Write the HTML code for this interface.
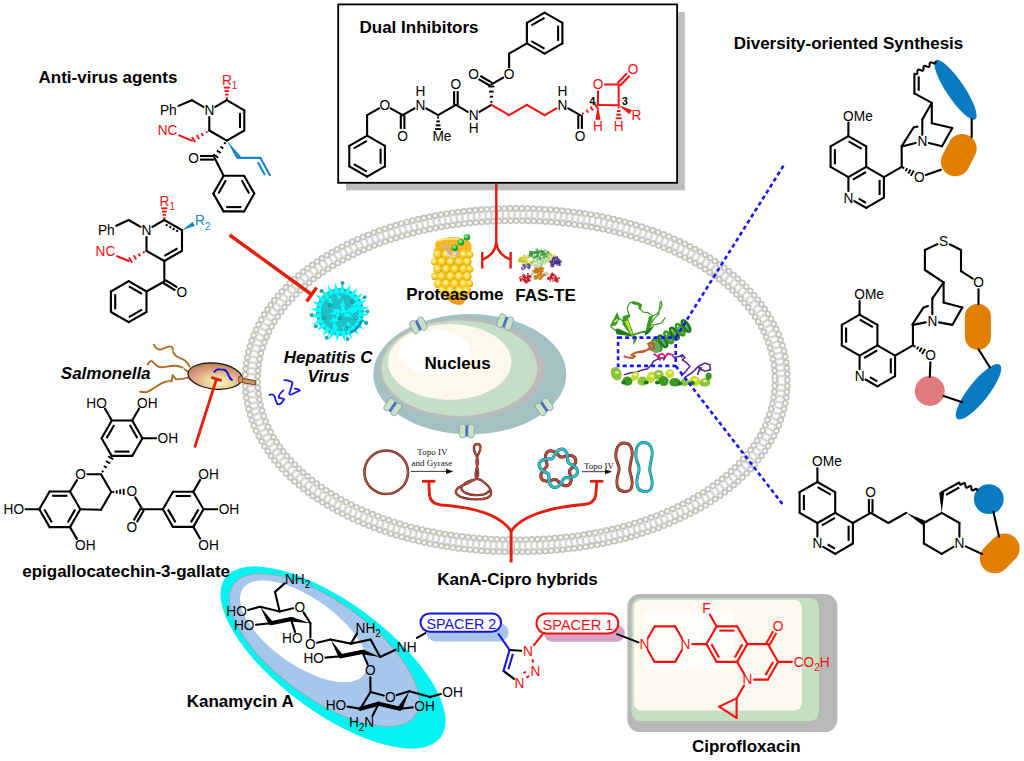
<!DOCTYPE html>
<html><head><meta charset="utf-8"><style>html,body{margin:0;padding:0;background:#fff;}svg{display:block;}</style></head>
<body><svg width="1024" height="761" viewBox="0 0 1024 761">
<rect width="1024" height="761" fill="#fff"/>
<defs>
<path id="mc" d="M781.3,380.2 L781.3,382.1 L781.2,384.0 L781.2,385.9 L781.1,387.7 L780.9,389.5 L780.8,391.3 L780.6,393.1 L780.4,394.9 L780.2,396.7 L779.9,398.5 L779.6,400.3 L779.3,402.0 L778.9,403.8 L778.5,405.6 L778.1,407.3 L777.7,409.1 L777.2,410.8 L776.7,412.5 L776.2,414.3 L775.6,416.0 L775.1,417.7 L774.5,419.4 L773.8,421.1 L773.2,422.8 L772.5,424.5 L771.8,426.2 L771.0,427.9 L770.3,429.6 L769.5,431.2 L768.6,432.9 L767.8,434.5 L766.9,436.2 L766.0,437.8 L765.1,439.5 L764.1,441.1 L763.1,442.7 L762.1,444.3 L761.1,445.9 L760.0,447.5 L758.9,449.1 L757.8,450.7 L756.7,452.2 L755.5,453.8 L754.3,455.3 L753.1,456.9 L751.8,458.4 L750.6,459.9 L749.3,461.5 L747.9,463.0 L746.6,464.5 L745.2,465.9 L743.8,467.4 L742.4,468.9 L741.0,470.3 L739.5,471.8 L738.0,473.2 L736.5,474.7 L735.0,476.1 L733.4,477.5 L731.8,478.9 L730.2,480.2 L728.6,481.6 L726.9,483.0 L725.2,484.3 L723.5,485.7 L721.8,487.0 L720.0,488.3 L718.3,489.6 L716.5,490.9 L714.7,492.2 L712.8,493.4 L711.0,494.7 L709.1,495.9 L707.2,497.1 L705.3,498.4 L703.3,499.6 L701.4,500.8 L699.4,501.9 L697.4,503.1 L695.4,504.2 L693.3,505.4 L691.3,506.5 L689.2,507.6 L687.1,508.7 L685.0,509.8 L682.8,510.8 L680.7,511.9 L678.5,512.9 L676.3,513.9 L674.1,514.9 L671.9,515.9 L669.6,516.9 L667.4,517.9 L665.1,518.8 L662.8,519.8 L660.5,520.7 L658.1,521.6 L655.8,522.5 L653.4,523.3 L651.1,524.2 L648.7,525.0 L646.3,525.9 L643.8,526.7 L641.4,527.5 L638.9,528.3 L636.5,529.0 L634.0,529.8 L631.5,530.5 L629.0,531.2 L626.5,531.9 L623.9,532.6 L621.4,533.3 L618.8,533.9 L616.3,534.5 L613.7,535.2 L611.1,535.8 L608.5,536.3 L605.8,536.9 L603.2,537.5 L600.6,538.0 L597.9,538.5 L595.2,539.0 L592.6,539.5 L589.9,539.9 L587.2,540.4 L584.5,540.8 L581.8,541.2 L579.0,541.6 L576.3,542.0 L573.5,542.4 L570.8,542.7 L568.0,543.0 L565.3,543.3 L562.5,543.6 L559.7,543.9 L556.9,544.2 L554.1,544.4 L551.2,544.6 L548.4,544.8 L545.6,545.0 L542.7,545.2 L539.9,545.3 L537.0,545.5 L534.1,545.6 L531.2,545.7 L528.3,545.8 L525.4,545.8 L522.4,545.9 L519.4,545.9 L516.3,545.9 L513.2,545.9 L510.2,545.9 L507.2,545.8 L504.3,545.8 L501.4,545.7 L498.5,545.6 L495.6,545.5 L492.7,545.3 L489.9,545.2 L487.0,545.0 L484.2,544.8 L481.4,544.6 L478.5,544.4 L475.7,544.2 L472.9,543.9 L470.1,543.6 L467.3,543.3 L464.6,543.0 L461.8,542.7 L459.1,542.4 L456.3,542.0 L453.6,541.6 L450.8,541.2 L448.1,540.8 L445.4,540.4 L442.7,539.9 L440.0,539.5 L437.4,539.0 L434.7,538.5 L432.0,538.0 L429.4,537.5 L426.8,536.9 L424.1,536.3 L421.5,535.8 L418.9,535.2 L416.3,534.5 L413.8,533.9 L411.2,533.3 L408.7,532.6 L406.1,531.9 L403.6,531.2 L401.1,530.5 L398.6,529.8 L396.1,529.0 L393.7,528.3 L391.2,527.5 L388.8,526.7 L386.3,525.9 L383.9,525.0 L381.5,524.2 L379.2,523.3 L376.8,522.5 L374.5,521.6 L372.1,520.7 L369.8,519.8 L367.5,518.8 L365.2,517.9 L363.0,516.9 L360.7,515.9 L358.5,514.9 L356.3,513.9 L354.1,512.9 L351.9,511.9 L349.8,510.8 L347.6,509.8 L345.5,508.7 L343.4,507.6 L341.3,506.5 L339.3,505.4 L337.2,504.2 L335.2,503.1 L333.2,501.9 L331.2,500.8 L329.3,499.6 L327.3,498.4 L325.4,497.1 L323.5,495.9 L321.6,494.7 L319.8,493.4 L317.9,492.2 L316.1,490.9 L314.3,489.6 L312.6,488.3 L310.8,487.0 L309.1,485.7 L307.4,484.3 L305.7,483.0 L304.0,481.6 L302.4,480.2 L300.8,478.9 L299.2,477.5 L297.6,476.1 L296.1,474.7 L294.6,473.2 L293.1,471.8 L291.6,470.3 L290.2,468.9 L288.8,467.4 L287.4,465.9 L286.0,464.5 L284.7,463.0 L283.3,461.5 L282.0,459.9 L280.8,458.4 L279.5,456.9 L278.3,455.3 L277.1,453.8 L275.9,452.2 L274.8,450.7 L273.7,449.1 L272.6,447.5 L271.5,445.9 L270.5,444.3 L269.5,442.7 L268.5,441.1 L267.5,439.5 L266.6,437.8 L265.7,436.2 L264.8,434.5 L264.0,432.9 L263.1,431.2 L262.3,429.6 L261.6,427.9 L260.8,426.2 L260.1,424.5 L259.4,422.8 L258.8,421.1 L258.1,419.4 L257.5,417.7 L257.0,416.0 L256.4,414.3 L255.9,412.5 L255.4,410.8 L254.9,409.1 L254.5,407.3 L254.1,405.6 L253.7,403.8 L253.3,402.0 L253.0,400.3 L252.7,398.5 L252.4,396.7 L252.2,394.9 L252.0,393.1 L251.8,391.3 L251.7,389.5 L251.5,387.7 L251.4,385.9 L251.4,384.0 L251.3,382.1 L251.3,380.2 L251.3,378.3 L251.4,376.4 L251.4,374.5 L251.5,372.7 L251.7,370.9 L251.8,369.1 L252.0,367.3 L252.2,365.5 L252.4,363.7 L252.7,361.9 L253.0,360.1 L253.3,358.4 L253.7,356.6 L254.1,354.8 L254.5,353.1 L254.9,351.3 L255.4,349.6 L255.9,347.9 L256.4,346.1 L257.0,344.4 L257.5,342.7 L258.1,341.0 L258.8,339.3 L259.4,337.6 L260.1,335.9 L260.8,334.2 L261.6,332.5 L262.3,330.8 L263.1,329.2 L264.0,327.5 L264.8,325.9 L265.7,324.2 L266.6,322.6 L267.5,320.9 L268.5,319.3 L269.5,317.7 L270.5,316.1 L271.5,314.5 L272.6,312.9 L273.7,311.3 L274.8,309.7 L275.9,308.2 L277.1,306.6 L278.3,305.1 L279.5,303.5 L280.8,302.0 L282.0,300.5 L283.3,298.9 L284.7,297.4 L286.0,295.9 L287.4,294.5 L288.8,293.0 L290.2,291.5 L291.6,290.1 L293.1,288.6 L294.6,287.2 L296.1,285.7 L297.6,284.3 L299.2,282.9 L300.8,281.5 L302.4,280.2 L304.0,278.8 L305.7,277.4 L307.4,276.1 L309.1,274.7 L310.8,273.4 L312.6,272.1 L314.3,270.8 L316.1,269.5 L317.9,268.2 L319.8,267.0 L321.6,265.7 L323.5,264.5 L325.4,263.3 L327.3,262.0 L329.3,260.8 L331.2,259.6 L333.2,258.5 L335.2,257.3 L337.2,256.2 L339.3,255.0 L341.3,253.9 L343.4,252.8 L345.5,251.7 L347.6,250.6 L349.8,249.6 L351.9,248.5 L354.1,247.5 L356.3,246.5 L358.5,245.5 L360.7,244.5 L363.0,243.5 L365.2,242.5 L367.5,241.6 L369.8,240.6 L372.1,239.7 L374.5,238.8 L376.8,237.9 L379.2,237.1 L381.5,236.2 L383.9,235.4 L386.3,234.5 L388.8,233.7 L391.2,232.9 L393.7,232.1 L396.1,231.4 L398.6,230.6 L401.1,229.9 L403.6,229.2 L406.1,228.5 L408.7,227.8 L411.2,227.1 L413.8,226.5 L416.3,225.9 L418.9,225.2 L421.5,224.6 L424.1,224.1 L426.8,223.5 L429.4,222.9 L432.0,222.4 L434.7,221.9 L437.4,221.4 L440.0,220.9 L442.7,220.5 L445.4,220.0 L448.1,219.6 L450.8,219.2 L453.6,218.8 L456.3,218.4 L459.1,218.0 L461.8,217.7 L464.6,217.4 L467.3,217.1 L470.1,216.8 L472.9,216.5 L475.7,216.2 L478.5,216.0 L481.4,215.8 L484.2,215.6 L487.0,215.4 L489.9,215.2 L492.7,215.1 L495.6,214.9 L498.5,214.8 L501.4,214.7 L504.3,214.6 L507.2,214.6 L510.2,214.5 L513.2,214.5 L516.3,214.5 L519.4,214.5 L522.4,214.5 L525.4,214.6 L528.3,214.6 L531.2,214.7 L534.1,214.8 L537.0,214.9 L539.9,215.1 L542.7,215.2 L545.6,215.4 L548.4,215.6 L551.2,215.8 L554.1,216.0 L556.9,216.2 L559.7,216.5 L562.5,216.8 L565.3,217.1 L568.0,217.4 L570.8,217.7 L573.5,218.0 L576.3,218.4 L579.0,218.8 L581.8,219.2 L584.5,219.6 L587.2,220.0 L589.9,220.5 L592.6,220.9 L595.2,221.4 L597.9,221.9 L600.6,222.4 L603.2,222.9 L605.8,223.5 L608.5,224.1 L611.1,224.6 L613.7,225.2 L616.3,225.9 L618.8,226.5 L621.4,227.1 L623.9,227.8 L626.5,228.5 L629.0,229.2 L631.5,229.9 L634.0,230.6 L636.5,231.4 L638.9,232.1 L641.4,232.9 L643.8,233.7 L646.3,234.5 L648.7,235.4 L651.1,236.2 L653.4,237.1 L655.8,237.9 L658.1,238.8 L660.5,239.7 L662.8,240.6 L665.1,241.6 L667.4,242.5 L669.6,243.5 L671.9,244.5 L674.1,245.5 L676.3,246.5 L678.5,247.5 L680.7,248.5 L682.8,249.6 L685.0,250.6 L687.1,251.7 L689.2,252.8 L691.3,253.9 L693.3,255.0 L695.4,256.2 L697.4,257.3 L699.4,258.5 L701.4,259.6 L703.3,260.8 L705.3,262.0 L707.2,263.3 L709.1,264.5 L711.0,265.7 L712.8,267.0 L714.7,268.2 L716.5,269.5 L718.3,270.8 L720.0,272.1 L721.8,273.4 L723.5,274.7 L725.2,276.1 L726.9,277.4 L728.6,278.8 L730.2,280.2 L731.8,281.5 L733.4,282.9 L735.0,284.3 L736.5,285.7 L738.0,287.2 L739.5,288.6 L741.0,290.1 L742.4,291.5 L743.8,293.0 L745.2,294.5 L746.6,295.9 L747.9,297.4 L749.3,298.9 L750.6,300.5 L751.8,302.0 L753.1,303.5 L754.3,305.1 L755.5,306.6 L756.7,308.2 L757.8,309.7 L758.9,311.3 L760.0,312.9 L761.1,314.5 L762.1,316.1 L763.1,317.7 L764.1,319.3 L765.1,320.9 L766.0,322.6 L766.9,324.2 L767.8,325.9 L768.6,327.5 L769.5,329.2 L770.3,330.8 L771.0,332.5 L771.8,334.2 L772.5,335.9 L773.2,337.6 L773.8,339.3 L774.5,341.0 L775.1,342.7 L775.6,344.4 L776.2,346.1 L776.7,347.9 L777.2,349.6 L777.7,351.3 L778.1,353.1 L778.5,354.8 L778.9,356.6 L779.3,358.4 L779.6,360.1 L779.9,361.9 L780.2,363.7 L780.4,365.5 L780.6,367.3 L780.8,369.1 L780.9,370.9 L781.1,372.7 L781.2,374.5 L781.2,376.4 L781.3,378.3Z"/>
<path id="mo" d="M787.5,380.2 L787.5,382.2 L787.4,384.2 L787.4,386.1 L787.3,388.0 L787.1,389.9 L787.0,391.7 L786.8,393.6 L786.6,395.5 L786.3,397.3 L786.1,399.2 L785.7,401.0 L785.4,402.9 L785.1,404.7 L784.7,406.5 L784.2,408.3 L783.8,410.1 L783.3,411.9 L782.8,413.7 L782.3,415.5 L781.7,417.3 L781.1,419.1 L780.5,420.9 L779.9,422.6 L779.2,424.4 L778.5,426.2 L777.7,427.9 L777.0,429.6 L776.2,431.4 L775.4,433.1 L774.5,434.8 L773.7,436.5 L772.8,438.3 L771.8,440.0 L770.9,441.6 L769.9,443.3 L768.9,445.0 L767.9,446.7 L766.8,448.3 L765.7,450.0 L764.6,451.6 L763.5,453.3 L762.3,454.9 L761.1,456.5 L759.9,458.1 L758.6,459.7 L757.3,461.3 L756.0,462.9 L754.7,464.5 L753.4,466.0 L752.0,467.6 L750.6,469.1 L749.2,470.6 L747.7,472.2 L746.2,473.7 L744.7,475.2 L743.2,476.7 L741.6,478.1 L740.1,479.6 L738.5,481.1 L736.8,482.5 L735.2,483.9 L733.5,485.4 L731.8,486.8 L730.1,488.2 L728.4,489.5 L726.6,490.9 L724.8,492.3 L723.0,493.6 L721.2,495.0 L719.3,496.3 L717.4,497.6 L715.5,498.9 L713.6,500.2 L711.7,501.5 L709.7,502.7 L707.7,504.0 L705.7,505.2 L703.7,506.4 L701.6,507.6 L699.6,508.8 L697.5,510.0 L695.4,511.1 L693.2,512.3 L691.1,513.4 L688.9,514.5 L686.7,515.6 L684.5,516.7 L682.3,517.8 L680.0,518.9 L677.8,519.9 L675.5,520.9 L673.2,522.0 L670.9,523.0 L668.6,523.9 L666.2,524.9 L663.8,525.9 L661.5,526.8 L659.1,527.7 L656.6,528.6 L654.2,529.5 L651.8,530.4 L649.3,531.2 L646.8,532.1 L644.3,532.9 L641.8,533.7 L639.3,534.5 L636.8,535.3 L634.2,536.0 L631.6,536.8 L629.1,537.5 L626.5,538.2 L623.9,538.9 L621.2,539.6 L618.6,540.2 L616.0,540.9 L613.3,541.5 L610.6,542.1 L607.9,542.7 L605.2,543.2 L602.5,543.8 L599.8,544.3 L597.1,544.8 L594.4,545.3 L591.6,545.8 L588.8,546.3 L586.1,546.7 L583.3,547.2 L580.5,547.6 L577.7,548.0 L574.9,548.3 L572.1,548.7 L569.2,549.0 L566.4,549.4 L563.5,549.7 L560.7,549.9 L557.8,550.2 L554.9,550.4 L552.1,550.7 L549.2,550.9 L546.3,551.1 L543.3,551.3 L540.4,551.4 L537.5,551.5 L534.5,551.7 L531.6,551.8 L528.6,551.9 L525.6,551.9 L522.5,552.0 L519.5,552.0 L516.3,552.0 L513.1,552.0 L510.1,552.0 L507.0,551.9 L504.0,551.9 L501.0,551.8 L498.1,551.7 L495.1,551.5 L492.2,551.4 L489.3,551.3 L486.3,551.1 L483.4,550.9 L480.5,550.7 L477.7,550.4 L474.8,550.2 L471.9,549.9 L469.1,549.7 L466.2,549.4 L463.4,549.0 L460.5,548.7 L457.7,548.3 L454.9,548.0 L452.1,547.6 L449.3,547.2 L446.5,546.7 L443.8,546.3 L441.0,545.8 L438.2,545.3 L435.5,544.8 L432.8,544.3 L430.1,543.8 L427.4,543.2 L424.7,542.7 L422.0,542.1 L419.3,541.5 L416.6,540.9 L414.0,540.2 L411.4,539.6 L408.7,538.9 L406.1,538.2 L403.5,537.5 L401.0,536.8 L398.4,536.0 L395.8,535.3 L393.3,534.5 L390.8,533.7 L388.3,532.9 L385.8,532.1 L383.3,531.2 L380.8,530.4 L378.4,529.5 L376.0,528.6 L373.5,527.7 L371.1,526.8 L368.8,525.9 L366.4,524.9 L364.0,523.9 L361.7,523.0 L359.4,522.0 L357.1,520.9 L354.8,519.9 L352.6,518.9 L350.3,517.8 L348.1,516.7 L345.9,515.6 L343.7,514.5 L341.5,513.4 L339.4,512.3 L337.2,511.1 L335.1,510.0 L333.0,508.8 L331.0,507.6 L328.9,506.4 L326.9,505.2 L324.9,504.0 L322.9,502.7 L320.9,501.5 L319.0,500.2 L317.1,498.9 L315.2,497.6 L313.3,496.3 L311.4,495.0 L309.6,493.6 L307.8,492.3 L306.0,490.9 L304.2,489.5 L302.5,488.2 L300.8,486.8 L299.1,485.4 L297.4,483.9 L295.8,482.5 L294.1,481.1 L292.5,479.6 L291.0,478.1 L289.4,476.7 L287.9,475.2 L286.4,473.7 L284.9,472.2 L283.4,470.6 L282.0,469.1 L280.6,467.6 L279.2,466.0 L277.9,464.5 L276.6,462.9 L275.3,461.3 L274.0,459.7 L272.7,458.1 L271.5,456.5 L270.3,454.9 L269.1,453.3 L268.0,451.6 L266.9,450.0 L265.8,448.3 L264.7,446.7 L263.7,445.0 L262.7,443.3 L261.7,441.6 L260.8,440.0 L259.8,438.3 L258.9,436.5 L258.1,434.8 L257.2,433.1 L256.4,431.4 L255.6,429.6 L254.9,427.9 L254.1,426.2 L253.4,424.4 L252.7,422.6 L252.1,420.9 L251.5,419.1 L250.9,417.3 L250.3,415.5 L249.8,413.7 L249.3,411.9 L248.8,410.1 L248.4,408.3 L247.9,406.5 L247.5,404.7 L247.2,402.9 L246.9,401.0 L246.5,399.2 L246.3,397.3 L246.0,395.5 L245.8,393.6 L245.6,391.7 L245.5,389.9 L245.3,388.0 L245.2,386.1 L245.2,384.2 L245.1,382.2 L245.1,380.2 L245.1,378.2 L245.2,376.2 L245.2,374.3 L245.3,372.4 L245.5,370.5 L245.6,368.7 L245.8,366.8 L246.0,364.9 L246.3,363.1 L246.5,361.2 L246.9,359.4 L247.2,357.5 L247.5,355.7 L247.9,353.9 L248.4,352.1 L248.8,350.3 L249.3,348.5 L249.8,346.7 L250.3,344.9 L250.9,343.1 L251.5,341.3 L252.1,339.5 L252.7,337.8 L253.4,336.0 L254.1,334.2 L254.9,332.5 L255.6,330.8 L256.4,329.0 L257.2,327.3 L258.1,325.6 L258.9,323.9 L259.8,322.1 L260.8,320.4 L261.7,318.8 L262.7,317.1 L263.7,315.4 L264.7,313.7 L265.8,312.1 L266.9,310.4 L268.0,308.8 L269.1,307.1 L270.3,305.5 L271.5,303.9 L272.7,302.3 L274.0,300.7 L275.3,299.1 L276.6,297.5 L277.9,295.9 L279.2,294.4 L280.6,292.8 L282.0,291.3 L283.4,289.8 L284.9,288.2 L286.4,286.7 L287.9,285.2 L289.4,283.7 L291.0,282.3 L292.5,280.8 L294.1,279.3 L295.8,277.9 L297.4,276.5 L299.1,275.0 L300.8,273.6 L302.5,272.2 L304.2,270.9 L306.0,269.5 L307.8,268.1 L309.6,266.8 L311.4,265.4 L313.3,264.1 L315.2,262.8 L317.1,261.5 L319.0,260.2 L320.9,258.9 L322.9,257.7 L324.9,256.4 L326.9,255.2 L328.9,254.0 L331.0,252.8 L333.0,251.6 L335.1,250.4 L337.2,249.3 L339.4,248.1 L341.5,247.0 L343.7,245.9 L345.9,244.8 L348.1,243.7 L350.3,242.6 L352.6,241.5 L354.8,240.5 L357.1,239.5 L359.4,238.4 L361.7,237.4 L364.0,236.5 L366.4,235.5 L368.8,234.5 L371.1,233.6 L373.5,232.7 L376.0,231.8 L378.4,230.9 L380.8,230.0 L383.3,229.2 L385.8,228.3 L388.3,227.5 L390.8,226.7 L393.3,225.9 L395.8,225.1 L398.4,224.4 L401.0,223.6 L403.5,222.9 L406.1,222.2 L408.7,221.5 L411.4,220.8 L414.0,220.2 L416.6,219.5 L419.3,218.9 L422.0,218.3 L424.7,217.7 L427.4,217.2 L430.1,216.6 L432.8,216.1 L435.5,215.6 L438.2,215.1 L441.0,214.6 L443.8,214.1 L446.5,213.7 L449.3,213.2 L452.1,212.8 L454.9,212.4 L457.7,212.1 L460.5,211.7 L463.4,211.4 L466.2,211.0 L469.1,210.7 L471.9,210.5 L474.8,210.2 L477.7,210.0 L480.5,209.7 L483.4,209.5 L486.3,209.3 L489.3,209.1 L492.2,209.0 L495.1,208.9 L498.1,208.7 L501.0,208.6 L504.0,208.5 L507.0,208.5 L510.1,208.4 L513.1,208.4 L516.3,208.4 L519.5,208.4 L522.5,208.4 L525.6,208.5 L528.6,208.5 L531.6,208.6 L534.5,208.7 L537.5,208.9 L540.4,209.0 L543.3,209.1 L546.3,209.3 L549.2,209.5 L552.1,209.7 L554.9,210.0 L557.8,210.2 L560.7,210.5 L563.5,210.7 L566.4,211.0 L569.2,211.4 L572.1,211.7 L574.9,212.1 L577.7,212.4 L580.5,212.8 L583.3,213.2 L586.1,213.7 L588.8,214.1 L591.6,214.6 L594.4,215.1 L597.1,215.6 L599.8,216.1 L602.5,216.6 L605.2,217.2 L607.9,217.7 L610.6,218.3 L613.3,218.9 L616.0,219.5 L618.6,220.2 L621.2,220.8 L623.9,221.5 L626.5,222.2 L629.1,222.9 L631.6,223.6 L634.2,224.4 L636.8,225.1 L639.3,225.9 L641.8,226.7 L644.3,227.5 L646.8,228.3 L649.3,229.2 L651.8,230.0 L654.2,230.9 L656.6,231.8 L659.1,232.7 L661.5,233.6 L663.8,234.5 L666.2,235.5 L668.6,236.5 L670.9,237.4 L673.2,238.4 L675.5,239.5 L677.8,240.5 L680.0,241.5 L682.3,242.6 L684.5,243.7 L686.7,244.8 L688.9,245.9 L691.1,247.0 L693.2,248.1 L695.4,249.3 L697.5,250.4 L699.6,251.6 L701.6,252.8 L703.7,254.0 L705.7,255.2 L707.7,256.4 L709.7,257.7 L711.7,258.9 L713.6,260.2 L715.5,261.5 L717.4,262.8 L719.3,264.1 L721.2,265.4 L723.0,266.8 L724.8,268.1 L726.6,269.5 L728.4,270.9 L730.1,272.2 L731.8,273.6 L733.5,275.0 L735.2,276.5 L736.8,277.9 L738.5,279.3 L740.1,280.8 L741.6,282.3 L743.2,283.7 L744.7,285.2 L746.2,286.7 L747.7,288.2 L749.2,289.8 L750.6,291.3 L752.0,292.8 L753.4,294.4 L754.7,295.9 L756.0,297.5 L757.3,299.1 L758.6,300.7 L759.9,302.3 L761.1,303.9 L762.3,305.5 L763.5,307.1 L764.6,308.8 L765.7,310.4 L766.8,312.1 L767.9,313.7 L768.9,315.4 L769.9,317.1 L770.9,318.8 L771.8,320.4 L772.8,322.1 L773.7,323.9 L774.5,325.6 L775.4,327.3 L776.2,329.0 L777.0,330.8 L777.7,332.5 L778.5,334.2 L779.2,336.0 L779.9,337.8 L780.5,339.5 L781.1,341.3 L781.7,343.1 L782.3,344.9 L782.8,346.7 L783.3,348.5 L783.8,350.3 L784.2,352.1 L784.7,353.9 L785.1,355.7 L785.4,357.5 L785.7,359.4 L786.1,361.2 L786.3,363.1 L786.6,364.9 L786.8,366.8 L787.0,368.7 L787.1,370.5 L787.3,372.4 L787.4,374.3 L787.4,376.2 L787.5,378.2Z"/>
<path id="mi" d="M774.9,380.2 L774.9,382.1 L774.8,383.9 L774.8,385.6 L774.7,387.4 L774.6,389.2 L774.4,390.9 L774.2,392.6 L774.0,394.4 L773.8,396.1 L773.5,397.8 L773.2,399.5 L772.9,401.2 L772.6,402.9 L772.2,404.6 L771.8,406.3 L771.4,408.0 L770.9,409.6 L770.4,411.3 L769.9,413.0 L769.4,414.6 L768.8,416.3 L768.2,417.9 L767.6,419.6 L767.0,421.2 L766.3,422.8 L765.6,424.5 L764.9,426.1 L764.1,427.7 L763.3,429.3 L762.5,430.9 L761.7,432.5 L760.9,434.1 L760.0,435.6 L759.1,437.2 L758.1,438.8 L757.2,440.3 L756.2,441.9 L755.2,443.4 L754.1,444.9 L753.1,446.5 L752.0,448.0 L750.9,449.5 L749.7,451.0 L748.6,452.5 L747.4,454.0 L746.1,455.4 L744.9,456.9 L743.6,458.4 L742.4,459.8 L741.0,461.3 L739.7,462.7 L738.3,464.1 L737.0,465.5 L735.5,466.9 L734.1,468.3 L732.7,469.7 L731.2,471.1 L729.7,472.4 L728.1,473.8 L726.6,475.1 L725.0,476.4 L723.4,477.8 L721.8,479.1 L720.2,480.4 L718.5,481.7 L716.8,482.9 L715.1,484.2 L713.4,485.4 L711.6,486.7 L709.9,487.9 L708.1,489.1 L706.3,490.3 L704.4,491.5 L702.6,492.7 L700.7,493.9 L698.8,495.0 L696.9,496.2 L695.0,497.3 L693.0,498.4 L691.0,499.5 L689.0,500.6 L687.0,501.7 L685.0,502.8 L683.0,503.8 L680.9,504.8 L678.8,505.9 L676.7,506.9 L674.6,507.9 L672.4,508.9 L670.3,509.8 L668.1,510.8 L665.9,511.7 L663.7,512.6 L661.5,513.6 L659.2,514.5 L657.0,515.3 L654.7,516.2 L652.4,517.1 L650.1,517.9 L647.8,518.7 L645.5,519.5 L643.1,520.3 L640.8,521.1 L638.4,521.9 L636.0,522.6 L633.6,523.4 L631.2,524.1 L628.7,524.8 L626.3,525.5 L623.8,526.1 L621.3,526.8 L618.9,527.4 L616.4,528.1 L613.8,528.7 L611.3,529.3 L608.8,529.8 L606.2,530.4 L603.7,530.9 L601.1,531.5 L598.5,532.0 L595.9,532.5 L593.3,533.0 L590.7,533.4 L588.1,533.9 L585.5,534.3 L582.8,534.7 L580.2,535.1 L577.5,535.5 L574.8,535.9 L572.2,536.2 L569.5,536.5 L566.8,536.8 L564.1,537.1 L561.4,537.4 L558.6,537.7 L555.9,537.9 L553.1,538.2 L550.4,538.4 L547.6,538.6 L544.9,538.7 L542.1,538.9 L539.3,539.1 L536.5,539.2 L533.7,539.3 L530.8,539.4 L528.0,539.5 L525.1,539.5 L522.3,539.6 L519.3,539.6 L516.3,539.6 L513.3,539.6 L510.3,539.6 L507.5,539.5 L504.6,539.5 L501.8,539.4 L498.9,539.3 L496.1,539.2 L493.3,539.1 L490.5,538.9 L487.7,538.7 L485.0,538.6 L482.2,538.4 L479.5,538.2 L476.7,537.9 L474.0,537.7 L471.2,537.4 L468.5,537.1 L465.8,536.8 L463.1,536.5 L460.4,536.2 L457.8,535.9 L455.1,535.5 L452.4,535.1 L449.8,534.7 L447.1,534.3 L444.5,533.9 L441.9,533.4 L439.3,533.0 L436.7,532.5 L434.1,532.0 L431.5,531.5 L428.9,530.9 L426.4,530.4 L423.8,529.8 L421.3,529.3 L418.8,528.7 L416.2,528.1 L413.7,527.4 L411.3,526.8 L408.8,526.1 L406.3,525.5 L403.9,524.8 L401.4,524.1 L399.0,523.4 L396.6,522.6 L394.2,521.9 L391.8,521.1 L389.5,520.3 L387.1,519.5 L384.8,518.7 L382.5,517.9 L380.2,517.1 L377.9,516.2 L375.6,515.3 L373.4,514.5 L371.1,513.6 L368.9,512.6 L366.7,511.7 L364.5,510.8 L362.3,509.8 L360.2,508.9 L358.0,507.9 L355.9,506.9 L353.8,505.9 L351.7,504.8 L349.6,503.8 L347.6,502.8 L345.6,501.7 L343.6,500.6 L341.6,499.5 L339.6,498.4 L337.6,497.3 L335.7,496.2 L333.8,495.0 L331.9,493.9 L330.0,492.7 L328.2,491.5 L326.3,490.3 L324.5,489.1 L322.7,487.9 L321.0,486.7 L319.2,485.4 L317.5,484.2 L315.8,482.9 L314.1,481.7 L312.4,480.4 L310.8,479.1 L309.2,477.8 L307.6,476.4 L306.0,475.1 L304.5,473.8 L302.9,472.4 L301.4,471.1 L299.9,469.7 L298.5,468.3 L297.1,466.9 L295.6,465.5 L294.3,464.1 L292.9,462.7 L291.6,461.3 L290.2,459.8 L289.0,458.4 L287.7,456.9 L286.5,455.4 L285.2,454.0 L284.0,452.5 L282.9,451.0 L281.7,449.5 L280.6,448.0 L279.5,446.5 L278.5,444.9 L277.4,443.4 L276.4,441.9 L275.4,440.3 L274.5,438.8 L273.5,437.2 L272.6,435.6 L271.7,434.1 L270.9,432.5 L270.1,430.9 L269.3,429.3 L268.5,427.7 L267.7,426.1 L267.0,424.5 L266.3,422.8 L265.6,421.2 L265.0,419.6 L264.4,417.9 L263.8,416.3 L263.2,414.6 L262.7,413.0 L262.2,411.3 L261.7,409.6 L261.2,408.0 L260.8,406.3 L260.4,404.6 L260.0,402.9 L259.7,401.2 L259.4,399.5 L259.1,397.8 L258.8,396.1 L258.6,394.4 L258.4,392.6 L258.2,390.9 L258.0,389.2 L257.9,387.4 L257.8,385.6 L257.8,383.9 L257.7,382.1 L257.7,380.2 L257.7,378.3 L257.8,376.5 L257.8,374.8 L257.9,373.0 L258.0,371.2 L258.2,369.5 L258.4,367.8 L258.6,366.0 L258.8,364.3 L259.1,362.6 L259.4,360.9 L259.7,359.2 L260.0,357.5 L260.4,355.8 L260.8,354.1 L261.2,352.4 L261.7,350.8 L262.2,349.1 L262.7,347.4 L263.2,345.8 L263.8,344.1 L264.4,342.5 L265.0,340.8 L265.6,339.2 L266.3,337.6 L267.0,335.9 L267.7,334.3 L268.5,332.7 L269.3,331.1 L270.1,329.5 L270.9,327.9 L271.7,326.3 L272.6,324.8 L273.5,323.2 L274.5,321.6 L275.4,320.1 L276.4,318.5 L277.4,317.0 L278.5,315.5 L279.5,313.9 L280.6,312.4 L281.7,310.9 L282.9,309.4 L284.0,307.9 L285.2,306.4 L286.5,305.0 L287.7,303.5 L289.0,302.0 L290.2,300.6 L291.6,299.1 L292.9,297.7 L294.3,296.3 L295.6,294.9 L297.1,293.5 L298.5,292.1 L299.9,290.7 L301.4,289.3 L302.9,288.0 L304.5,286.6 L306.0,285.3 L307.6,284.0 L309.2,282.6 L310.8,281.3 L312.4,280.0 L314.1,278.7 L315.8,277.5 L317.5,276.2 L319.2,275.0 L321.0,273.7 L322.7,272.5 L324.5,271.3 L326.3,270.1 L328.2,268.9 L330.0,267.7 L331.9,266.5 L333.8,265.4 L335.7,264.2 L337.6,263.1 L339.6,262.0 L341.6,260.9 L343.6,259.8 L345.6,258.7 L347.6,257.6 L349.6,256.6 L351.7,255.6 L353.8,254.5 L355.9,253.5 L358.0,252.5 L360.2,251.5 L362.3,250.6 L364.5,249.6 L366.7,248.7 L368.9,247.8 L371.1,246.8 L373.4,245.9 L375.6,245.1 L377.9,244.2 L380.2,243.3 L382.5,242.5 L384.8,241.7 L387.1,240.9 L389.5,240.1 L391.8,239.3 L394.2,238.5 L396.6,237.8 L399.0,237.0 L401.4,236.3 L403.9,235.6 L406.3,234.9 L408.8,234.3 L411.3,233.6 L413.7,233.0 L416.2,232.3 L418.8,231.7 L421.3,231.1 L423.8,230.6 L426.4,230.0 L428.9,229.5 L431.5,228.9 L434.1,228.4 L436.7,227.9 L439.3,227.4 L441.9,227.0 L444.5,226.5 L447.1,226.1 L449.8,225.7 L452.4,225.3 L455.1,224.9 L457.8,224.5 L460.4,224.2 L463.1,223.9 L465.8,223.6 L468.5,223.3 L471.2,223.0 L474.0,222.7 L476.7,222.5 L479.5,222.2 L482.2,222.0 L485.0,221.8 L487.7,221.7 L490.5,221.5 L493.3,221.3 L496.1,221.2 L498.9,221.1 L501.8,221.0 L504.6,220.9 L507.5,220.9 L510.3,220.8 L513.3,220.8 L516.3,220.8 L519.3,220.8 L522.3,220.8 L525.1,220.9 L528.0,220.9 L530.8,221.0 L533.7,221.1 L536.5,221.2 L539.3,221.3 L542.1,221.5 L544.9,221.7 L547.6,221.8 L550.4,222.0 L553.1,222.2 L555.9,222.5 L558.6,222.7 L561.4,223.0 L564.1,223.3 L566.8,223.6 L569.5,223.9 L572.2,224.2 L574.8,224.5 L577.5,224.9 L580.2,225.3 L582.8,225.7 L585.5,226.1 L588.1,226.5 L590.7,227.0 L593.3,227.4 L595.9,227.9 L598.5,228.4 L601.1,228.9 L603.7,229.5 L606.2,230.0 L608.8,230.6 L611.3,231.1 L613.8,231.7 L616.4,232.3 L618.9,233.0 L621.3,233.6 L623.8,234.3 L626.3,234.9 L628.7,235.6 L631.2,236.3 L633.6,237.0 L636.0,237.8 L638.4,238.5 L640.8,239.3 L643.1,240.1 L645.5,240.9 L647.8,241.7 L650.1,242.5 L652.4,243.3 L654.7,244.2 L657.0,245.1 L659.2,245.9 L661.5,246.8 L663.7,247.8 L665.9,248.7 L668.1,249.6 L670.3,250.6 L672.4,251.5 L674.6,252.5 L676.7,253.5 L678.8,254.5 L680.9,255.6 L683.0,256.6 L685.0,257.6 L687.0,258.7 L689.0,259.8 L691.0,260.9 L693.0,262.0 L695.0,263.1 L696.9,264.2 L698.8,265.4 L700.7,266.5 L702.6,267.7 L704.4,268.9 L706.3,270.1 L708.1,271.3 L709.9,272.5 L711.6,273.7 L713.4,275.0 L715.1,276.2 L716.8,277.5 L718.5,278.7 L720.2,280.0 L721.8,281.3 L723.4,282.6 L725.0,284.0 L726.6,285.3 L728.1,286.6 L729.7,288.0 L731.2,289.3 L732.7,290.7 L734.1,292.1 L735.5,293.5 L737.0,294.9 L738.3,296.3 L739.7,297.7 L741.0,299.1 L742.4,300.6 L743.6,302.0 L744.9,303.5 L746.1,305.0 L747.4,306.4 L748.6,307.9 L749.7,309.4 L750.9,310.9 L752.0,312.4 L753.1,313.9 L754.1,315.5 L755.2,317.0 L756.2,318.5 L757.2,320.1 L758.1,321.6 L759.1,323.2 L760.0,324.8 L760.9,326.3 L761.7,327.9 L762.5,329.5 L763.3,331.1 L764.1,332.7 L764.9,334.3 L765.6,335.9 L766.3,337.6 L767.0,339.2 L767.6,340.8 L768.2,342.5 L768.8,344.1 L769.4,345.8 L769.9,347.4 L770.4,349.1 L770.9,350.8 L771.4,352.4 L771.8,354.1 L772.2,355.8 L772.6,357.5 L772.9,359.2 L773.2,360.9 L773.5,362.6 L773.8,364.3 L774.0,366.0 L774.2,367.8 L774.4,369.5 L774.6,371.2 L774.7,373.0 L774.8,374.8 L774.8,376.5 L774.9,378.3Z"/>
</defs>
<use href="#mc" fill="none" stroke="#d6d6d6" stroke-width="6.6"/>
<use href="#mc" fill="none" stroke="#fcfcf8" stroke-width="5.2" stroke-dasharray="3.4 2.4"/>
<use href="#mo" fill="none" stroke="#c3c3c3" stroke-width="6.6" stroke-linecap="round" stroke-dasharray="0 5.8"/>
<use href="#mo" fill="none" stroke="#fbfbe8" stroke-width="3.3" stroke-linecap="round" stroke-dasharray="0 5.8"/>
<use href="#mi" fill="none" stroke="#c3c3c3" stroke-width="6.6" stroke-linecap="round" stroke-dasharray="0 5.8"/>
<use href="#mi" fill="none" stroke="#fbfbe8" stroke-width="3.3" stroke-linecap="round" stroke-dasharray="0 5.8"/>
<ellipse cx="469.8" cy="374.2" rx="96.5" ry="60.1" fill="#a3c1c3"/>
<ellipse cx="461.8" cy="368.7" rx="83" ry="50.5" fill="#bababa"/>
<ellipse cx="459.4" cy="368.2" rx="77.9" ry="47.8" fill="#c6dec6"/>
<ellipse cx="449.7" cy="362" rx="61.8" ry="38" fill="#fdf8ec"/>
<ellipse cx="434.6" cy="352.6" rx="36" ry="22.6" fill="#ffffff"/>
<g transform="translate(418.4,325.4) rotate(-25)"><rect x="-7.5" y="-7" width="6.5" height="14" rx="3.2" fill="#c9e2c4" stroke="#7d96a8" stroke-width="0.7"/><rect x="1" y="-7" width="6.5" height="14" rx="3.2" fill="#c9e2c4" stroke="#7d96a8" stroke-width="0.7"/><rect x="-1.3" y="-5.5" width="2.6" height="11" fill="#4a70c8"/></g>
<g transform="translate(505.2,322.1) rotate(20)"><rect x="-7.5" y="-7" width="6.5" height="14" rx="3.2" fill="#c9e2c4" stroke="#7d96a8" stroke-width="0.7"/><rect x="1" y="-7" width="6.5" height="14" rx="3.2" fill="#c9e2c4" stroke="#7d96a8" stroke-width="0.7"/><rect x="-1.3" y="-5.5" width="2.6" height="11" fill="#4a70c8"/></g>
<g transform="translate(392.7,407) rotate(35)"><rect x="-7.5" y="-7" width="6.5" height="14" rx="3.2" fill="#c9e2c4" stroke="#7d96a8" stroke-width="0.7"/><rect x="1" y="-7" width="6.5" height="14" rx="3.2" fill="#c9e2c4" stroke="#7d96a8" stroke-width="0.7"/><rect x="-1.3" y="-5.5" width="2.6" height="11" fill="#4a70c8"/></g>
<g transform="translate(466.8,431) rotate(0)"><rect x="-7.5" y="-7" width="6.5" height="14" rx="3.2" fill="#c9e2c4" stroke="#7d96a8" stroke-width="0.7"/><rect x="1" y="-7" width="6.5" height="14" rx="3.2" fill="#c9e2c4" stroke="#7d96a8" stroke-width="0.7"/><rect x="-1.3" y="-5.5" width="2.6" height="11" fill="#4a70c8"/></g>
<g transform="translate(544.3,406.8) rotate(-35)"><rect x="-7.5" y="-7" width="6.5" height="14" rx="3.2" fill="#c9e2c4" stroke="#7d96a8" stroke-width="0.7"/><rect x="1" y="-7" width="6.5" height="14" rx="3.2" fill="#c9e2c4" stroke="#7d96a8" stroke-width="0.7"/><rect x="-1.3" y="-5.5" width="2.6" height="11" fill="#4a70c8"/></g>
<text x="424.5" y="368.8" font-family="Liberation Sans, sans-serif" font-weight="bold" font-size="17">Nucleus</text>
<ellipse cx="0" cy="0" rx="134" ry="55" fill="#05f2f2" transform="translate(333,657.5) rotate(36.5)"/>
<ellipse cx="0" cy="0" rx="112" ry="48" fill="#a7c6ec" stroke="#8fb0b0" stroke-width="1" transform="translate(324.3,650.1) rotate(36)"/>
<ellipse cx="0" cy="0" rx="74.2" ry="33.5" fill="#ffffff" transform="translate(303.6,631.3) rotate(35.3)"/>
<rect x="627.4" y="594.1" width="210" height="138" rx="12.7" fill="#b8b8b8"/>
<rect x="631.7" y="597.9" width="187.2" height="123.2" rx="9" fill="#c5dfc3"/>
<rect x="633.8" y="600" width="168.1" height="110.4" rx="7.6" fill="#fdf9ee"/>
<rect x="644.4" y="610.6" width="90.2" height="58.4" rx="4" fill="#fffefb"/>
<rect x="346" y="12" width="338.8" height="178.3" fill="#bdbdbd"/>
<rect x="338.2" y="4.4" width="338.9" height="178.4" fill="#fff" stroke="#000" stroke-width="1.8"/>
<path d="M496.3,184 L496.3,243 C495,252 490,256 482.5,259.8 M496.3,243 C497.6,252 502.6,256 510.6,259.8 M482.3,252 L482.3,268.4 M510.6,252 L510.6,268.4" stroke="#e01b10" stroke-width="2.4" fill="none"/>
<circle cx="339.9" cy="312.1" r="24" fill="#22c0c6"/>
<path d="M358.5,316.6 L369.8,315.1 L359.1,311.4Z" fill="#0ff"/>
<path d="M356.7,321.3 L368.0,322.7 L358.6,316.4Z" fill="#0ff"/>
<path d="M353.8,325.3 L364.3,329.6 L356.8,321.1Z" fill="#0ff"/>
<path d="M349.9,328.5 L358.9,335.3 L353.9,325.2Z" fill="#0ff"/>
<path d="M345.3,330.5 L352.2,339.4 L350.1,328.4Z" fill="#0ff"/>
<path d="M340.4,331.3 L344.7,341.7 L345.5,330.4Z" fill="#0ff"/>
<path d="M335.4,330.7 L336.9,342.0 L340.6,331.3Z" fill="#0ff"/>
<path d="M330.7,328.9 L329.3,340.2 L335.6,330.8Z" fill="#0ff"/>
<path d="M326.7,326.0 L322.4,336.5 L330.9,329.0Z" fill="#0ff"/>
<path d="M323.5,322.1 L316.7,331.1 L326.8,326.1Z" fill="#0ff"/>
<path d="M321.5,317.5 L312.6,324.4 L323.6,322.3Z" fill="#0ff"/>
<path d="M320.7,312.6 L310.3,316.9 L321.6,317.7Z" fill="#0ff"/>
<path d="M321.3,307.6 L310.0,309.1 L320.7,312.8Z" fill="#0ff"/>
<path d="M323.1,302.9 L311.8,301.5 L321.2,307.8Z" fill="#0ff"/>
<path d="M326.0,298.9 L315.5,294.6 L323.0,303.1Z" fill="#0ff"/>
<path d="M329.9,295.7 L320.9,288.9 L325.9,299.0Z" fill="#0ff"/>
<path d="M334.5,293.7 L327.6,284.8 L329.7,295.8Z" fill="#0ff"/>
<path d="M339.4,292.9 L335.1,282.5 L334.3,293.8Z" fill="#0ff"/>
<path d="M344.4,293.5 L342.9,282.2 L339.2,292.9Z" fill="#0ff"/>
<path d="M349.1,295.3 L350.5,284.0 L344.2,293.4Z" fill="#0ff"/>
<path d="M353.1,298.2 L357.4,287.7 L348.9,295.2Z" fill="#0ff"/>
<path d="M356.3,302.1 L363.1,293.1 L353.0,298.1Z" fill="#0ff"/>
<path d="M358.3,306.7 L367.2,299.8 L356.2,301.9Z" fill="#0ff"/>
<path d="M359.1,311.6 L369.5,307.3 L358.2,306.5Z" fill="#0ff"/>
<path d="M333.2,303.0 L328.4,297.5 L329.6,304.7Z" fill="#0ff"/>
<path d="M350.7,309.9 L357.9,308.9 L351.3,305.9Z" fill="#0ff"/>
<path d="M345.9,315.0 L352.5,318.0 L348.5,311.9Z" fill="#0ff"/>
<path d="M332.3,298.7 L325.1,297.3 L330.4,302.3Z" fill="#0ff"/>
<path d="M335.7,310.9 L329.1,313.9 L336.3,314.8Z" fill="#0ff"/>
<path d="M340.0,310.0 L332.8,311.1 L339.5,314.0Z" fill="#0ff"/>
<path d="M335.4,325.5 L333.8,332.6 L339.0,327.5Z" fill="#0ff"/>
<path d="M345.7,324.5 L352.7,326.6 L347.8,321.2Z" fill="#0ff"/>
<path d="M338.7,308.8 L331.5,309.8 L338.1,312.7Z" fill="#0ff"/>
<path d="M344.0,310.5 L345.1,303.3 L340.4,308.9Z" fill="#0ff"/>
<path d="M354.5,312.4 L360.3,308.1 L353.1,308.7Z" fill="#0ff"/>
<path d="M348.3,312.0 L355.3,309.8 L348.2,308.0Z" fill="#0ff"/>
<path d="M342.1,326.7 L344.5,333.5 L346.1,326.4Z" fill="#0ff"/>
<path d="M354.8,310.9 L360.2,306.1 L353.0,307.3Z" fill="#0ff"/>
<path d="M336.3,313.6 L336.3,320.9 L340.1,314.7Z" fill="#0ff"/>
<path d="M343.3,315.7 L350.4,317.6 L345.3,312.3Z" fill="#0ff"/>
<path d="M351.1,314.3 L357.6,311.1 L350.4,310.4Z" fill="#0ff"/>
<path d="M333.2,323.6 L332.7,330.8 L337.0,325.0Z" fill="#0ff"/>
<path d="M335.2,317.9 L332.5,324.7 L338.4,320.4Z" fill="#0ff"/>
<path d="M354.9,319.5 L361.4,316.1 L354.1,315.6Z" fill="#0ff"/>
<path d="M341.6,297.5 L336.0,292.7 L338.2,299.7Z" fill="#0ff"/>
<path d="M343.2,307.1 L343.6,299.8 L339.4,305.8Z" fill="#0ff"/>
<path d="M341.3,314.0 L347.3,309.9 L340.0,310.2Z" fill="#0ff"/>
<path d="M342.9,313.2 L349.9,311.4 L343.0,309.2Z" fill="#0ff"/>
<path d="M354.7,307.3 L359.2,301.5 L352.3,304.0Z" fill="#0ff"/>
<path d="M333.7,317.1 L328.9,322.6 L335.9,320.4Z" fill="#0ff"/>
<circle cx="330" cy="305" r="1.6" fill="none" stroke="#167a80" stroke-width="0.7"/>
<circle cx="352" cy="302" r="1.6" fill="none" stroke="#167a80" stroke-width="0.7"/>
<circle cx="340" cy="318" r="1.6" fill="none" stroke="#167a80" stroke-width="0.7"/>
<circle cx="356" cy="318" r="1.6" fill="none" stroke="#167a80" stroke-width="0.7"/>
<circle cx="324" cy="318" r="1.6" fill="none" stroke="#167a80" stroke-width="0.7"/>
<circle cx="346" cy="329" r="1.6" fill="none" stroke="#167a80" stroke-width="0.7"/>
<path d="M350,333 C356,330 360,326 362,320" stroke="#1a90c8" stroke-width="2.5" fill="none"/>
<line x1="342.1" y1="288.9" x2="342.6" y2="283.1" stroke="#22c0c6" stroke-width="0.8"/>
<circle cx="342.6" cy="283.1" r="2" fill="#1aa8b0"/>
<line x1="359.7" y1="300.3" x2="364.7" y2="297.3" stroke="#22c0c6" stroke-width="0.8"/>
<circle cx="364.7" cy="297.3" r="2" fill="#1aa8b0"/>
<line x1="361.8" y1="311.6" x2="367.3" y2="311.5" stroke="#22c0c6" stroke-width="0.8"/>
<circle cx="367.3" cy="311.5" r="2" fill="#1aa8b0"/>
<line x1="360.9" y1="320.9" x2="366.2" y2="323.1" stroke="#22c0c6" stroke-width="0.8"/>
<circle cx="366.2" cy="323.1" r="2" fill="#1aa8b0"/>
<line x1="346.1" y1="333.5" x2="347.6" y2="338.9" stroke="#22c0c6" stroke-width="0.8"/>
<circle cx="347.6" cy="338.9" r="2" fill="#1aa8b0"/>
<line x1="329.4" y1="332.7" x2="326.8" y2="337.8" stroke="#22c0c6" stroke-width="0.8"/>
<circle cx="326.8" cy="337.8" r="2" fill="#1aa8b0"/>
<line x1="320.6" y1="323.5" x2="315.8" y2="326.3" stroke="#22c0c6" stroke-width="0.8"/>
<circle cx="315.8" cy="326.3" r="2" fill="#1aa8b0"/>
<line x1="317.3" y1="314.4" x2="311.6" y2="315" stroke="#22c0c6" stroke-width="0.8"/>
<circle cx="311.6" cy="315" r="2" fill="#1aa8b0"/>
<line x1="325.2" y1="295.2" x2="321.5" y2="291" stroke="#22c0c6" stroke-width="0.8"/>
<circle cx="321.5" cy="291" r="2" fill="#1aa8b0"/>
<defs><radialGradient id="ball" cx="0.42" cy="0.38" r="0.62"><stop offset="0" stop-color="#fffce0"/><stop offset="0.3" stop-color="#fbe25a"/><stop offset="0.75" stop-color="#f2c21a"/><stop offset="1" stop-color="#e49400"/></radialGradient><radialGradient id="gball" cx="0.4" cy="0.35" r="0.7"><stop offset="0" stop-color="#b0ffb0"/><stop offset="0.5" stop-color="#20c040"/><stop offset="1" stop-color="#108020"/></radialGradient></defs>
<path d="M444,292 C446,300 452,305 460,305 C465,304 467,298 467,292 Z" fill="#f0a010"/>
<path d="M434,250 C436,244 468,242 471,250 L469,292 C466,300 444,300 441,292 Z" fill="#f0b010"/>
<path d="M435.5,243 C438,236 464,235 470,242 C474,248 470,256 466,254 C464,248 446,246 440,250 C437,252 434,248 435.5,243 Z" fill="#f6b820"/>
<path d="M438,241 C444,238 458,238 464,241" stroke="#ffe890" stroke-width="1.5" fill="none"/>
<circle cx="437.5" cy="254.5" r="4.5" fill="url(#ball)"/>
<circle cx="446.2" cy="254.5" r="4.5" fill="url(#ball)"/>
<circle cx="454.9" cy="254.5" r="4.5" fill="url(#ball)"/>
<circle cx="463.6" cy="254.5" r="4.5" fill="url(#ball)"/>
<circle cx="469.8" cy="254.5" r="3.6" fill="url(#ball)"/>
<circle cx="434.5" cy="261.8" r="3.6" fill="url(#ball)"/>
<circle cx="441.8" cy="261.8" r="4.5" fill="url(#ball)"/>
<circle cx="450.5" cy="261.8" r="4.5" fill="url(#ball)"/>
<circle cx="459.2" cy="261.8" r="4.5" fill="url(#ball)"/>
<circle cx="467.2" cy="261.8" r="4.5" fill="url(#ball)"/>
<circle cx="437.5" cy="269.1" r="4.5" fill="url(#ball)"/>
<circle cx="446.2" cy="269.1" r="4.5" fill="url(#ball)"/>
<circle cx="454.9" cy="269.1" r="4.5" fill="url(#ball)"/>
<circle cx="463.6" cy="269.1" r="4.5" fill="url(#ball)"/>
<circle cx="469.8" cy="269.1" r="3.6" fill="url(#ball)"/>
<circle cx="434.8" cy="276.4" r="3.6" fill="url(#ball)"/>
<circle cx="441.8" cy="276.4" r="4.5" fill="url(#ball)"/>
<circle cx="450.5" cy="276.4" r="4.5" fill="url(#ball)"/>
<circle cx="459.2" cy="276.4" r="4.5" fill="url(#ball)"/>
<circle cx="467.2" cy="276.4" r="4.5" fill="url(#ball)"/>
<circle cx="438.2" cy="283.7" r="4.5" fill="url(#ball)"/>
<circle cx="446.2" cy="283.7" r="4.5" fill="url(#ball)"/>
<circle cx="454.9" cy="283.7" r="4.5" fill="url(#ball)"/>
<circle cx="463.6" cy="283.7" r="4.5" fill="url(#ball)"/>
<circle cx="469.5" cy="283.7" r="3.6" fill="url(#ball)"/>
<circle cx="442" cy="290.5" r="4.5" fill="url(#ball)"/>
<circle cx="450.5" cy="290.5" r="4.5" fill="url(#ball)"/>
<circle cx="459.2" cy="290.5" r="4.5" fill="url(#ball)"/>
<circle cx="466.5" cy="290.5" r="4.5" fill="url(#ball)"/>
<path d="M443,249 C445,244 449,245 448,250 C447,254 452,255 454,252 C456,249 458,253 456,256" stroke="#b8b0f0" stroke-width="1.6" fill="none" opacity="0.9"/>
<path d="M445,252 C448,256 451,258 455,257" stroke="#d8d0ff" stroke-width="1.2" fill="none"/>
<circle cx="466.9" cy="237.2" r="3.2" fill="url(#gball)"/>
<circle cx="460.9" cy="242.3" r="3.2" fill="url(#gball)"/>
<circle cx="454.7" cy="247.7" r="3.2" fill="url(#gball)"/>
<circle cx="530.0" cy="264.8" r="1.7" fill="#c8c828" opacity="0.8"/>
<circle cx="525.9" cy="264.9" r="1.4" fill="#c8c828" opacity="0.8"/>
<circle cx="522.6" cy="257.0" r="1.0" fill="#c8c828" opacity="0.8"/>
<circle cx="531.8" cy="261.9" r="1.4" fill="#c8c828" opacity="0.8"/>
<circle cx="526.0" cy="260.7" r="1.4" fill="#c8c828" opacity="0.8"/>
<circle cx="525.4" cy="258.4" r="1.9" fill="#c8c828" opacity="0.8"/>
<circle cx="526.9" cy="260.4" r="0.9" fill="#c8c828" opacity="0.8"/>
<circle cx="519.9" cy="259.6" r="1.3" fill="#c8c828" opacity="0.8"/>
<circle cx="526.9" cy="264.5" r="0.9" fill="#c8c828" opacity="0.8"/>
<circle cx="526.8" cy="264.6" r="1.4" fill="#c8c828" opacity="0.8"/>
<circle cx="526.3" cy="263.6" r="1.1" fill="#c8c828" opacity="0.8"/>
<circle cx="522.6" cy="261.7" r="0.9" fill="#c8c828" opacity="0.8"/>
<circle cx="528.5" cy="257.5" r="1.6" fill="#c8c828" opacity="0.8"/>
<circle cx="528.5" cy="266.0" r="1.8" fill="#c8c828" opacity="0.8"/>
<circle cx="528.7" cy="263.2" r="1.7" fill="#c8c828" opacity="0.8"/>
<circle cx="524.5" cy="255.8" r="1.4" fill="#c8c828" opacity="0.8"/>
<circle cx="528.6" cy="257.0" r="1.2" fill="#c8c828" opacity="0.8"/>
<circle cx="520.8" cy="258.3" r="1.8" fill="#c8c828" opacity="0.8"/>
<circle cx="521.0" cy="260.9" r="0.9" fill="#c8c828" opacity="0.8"/>
<circle cx="526.3" cy="265.9" r="1.4" fill="#c8c828" opacity="0.8"/>
<circle cx="528.2" cy="264.6" r="1.7" fill="#c8c828" opacity="0.8"/>
<circle cx="524.2" cy="258.0" r="1.4" fill="#c8c828" opacity="0.8"/>
<circle cx="520.3" cy="260.8" r="1.5" fill="#c8c828" opacity="0.8"/>
<circle cx="522.4" cy="263.4" r="0.9" fill="#c8c828" opacity="0.8"/>
<circle cx="531.2" cy="262.2" r="2.0" fill="#c8c828" opacity="0.8"/>
<circle cx="522.6" cy="259.1" r="1.1" fill="#c8c828" opacity="0.8"/>
<circle cx="519.6" cy="260.9" r="1.7" fill="#c8c828" opacity="0.8"/>
<circle cx="520.2" cy="259.8" r="1.2" fill="#c8c828" opacity="0.8"/>
<circle cx="519.7" cy="260.5" r="1.5" fill="#c8c828" opacity="0.8"/>
<circle cx="522.7" cy="261.7" r="1.5" fill="#c8c828" opacity="0.8"/>
<circle cx="526.5" cy="260.9" r="1.8" fill="#c8c828" opacity="0.8"/>
<circle cx="528.6" cy="256.3" r="1.7" fill="#c8c828" opacity="0.8"/>
<circle cx="527.7" cy="257.3" r="1.5" fill="#c8c828" opacity="0.8"/>
<circle cx="524.6" cy="261.6" r="1.9" fill="#c8c828" opacity="0.8"/>
<circle cx="523.4" cy="260.0" r="1.5" fill="#c8c828" opacity="0.8"/>
<circle cx="522.1" cy="261.3" r="1.3" fill="#c8c828" opacity="0.8"/>
<circle cx="521.0" cy="260.0" r="1.6" fill="#c8c828" opacity="0.8"/>
<circle cx="525.0" cy="261.2" r="1.2" fill="#c8c828" opacity="0.8"/>
<circle cx="528.1" cy="264.6" r="0.9" fill="#fff" opacity="0.6"/>
<circle cx="527.6" cy="256.5" r="0.8" fill="#fff" opacity="0.6"/>
<circle cx="525.8" cy="265.8" r="0.8" fill="#fff" opacity="0.6"/>
<circle cx="526.7" cy="261.3" r="0.4" fill="#fff" opacity="0.6"/>
<circle cx="526.1" cy="258.4" r="0.4" fill="#fff" opacity="0.6"/>
<circle cx="523.4" cy="258.8" r="0.4" fill="#fff" opacity="0.6"/>
<circle cx="528.4" cy="264.2" r="0.5" fill="#fff" opacity="0.6"/>
<circle cx="525.3" cy="265.4" r="0.6" fill="#fff" opacity="0.6"/>
<circle cx="524.1" cy="264.2" r="0.4" fill="#fff" opacity="0.6"/>
<circle cx="523.0" cy="263.2" r="0.5" fill="#fff" opacity="0.6"/>
<circle cx="530.5" cy="264.1" r="0.7" fill="#fff" opacity="0.6"/>
<circle cx="527.2" cy="264.9" r="0.8" fill="#fff" opacity="0.6"/>
<circle cx="526.8" cy="261.1" r="0.4" fill="#fff" opacity="0.6"/>
<circle cx="525.5" cy="258.9" r="0.8" fill="#fff" opacity="0.6"/>
<circle cx="524.0" cy="257.5" r="0.5" fill="#fff" opacity="0.6"/>
<circle cx="531.4" cy="260.3" r="0.7" fill="#fff" opacity="0.6"/>
<circle cx="526.8" cy="265.1" r="0.6" fill="#fff" opacity="0.6"/>
<circle cx="522.9" cy="259.6" r="0.7" fill="#fff" opacity="0.6"/>
<circle cx="529.1" cy="262.0" r="0.9" fill="#fff" opacity="0.6"/>
<circle cx="528.4" cy="259.0" r="0.9" fill="#fff" opacity="0.6"/>
<circle cx="523.8" cy="265.7" r="0.8" fill="#fff" opacity="0.6"/>
<circle cx="523.3" cy="262.3" r="0.4" fill="#fff" opacity="0.6"/>
<circle cx="526.9" cy="260.3" r="0.8" fill="#fff" opacity="0.6"/>
<circle cx="530.5" cy="260.1" r="0.5" fill="#fff" opacity="0.6"/>
<circle cx="530.1" cy="257.2" r="0.8" fill="#fff" opacity="0.6"/>
<circle cx="529.2" cy="265.8" r="1.0" fill="#5a4aa0" opacity="0.8"/>
<circle cx="528.6" cy="267.7" r="1.7" fill="#5a4aa0" opacity="0.8"/>
<circle cx="524.4" cy="265.3" r="1.6" fill="#5a4aa0" opacity="0.8"/>
<circle cx="523.1" cy="265.3" r="1.1" fill="#5a4aa0" opacity="0.8"/>
<circle cx="523.2" cy="267.2" r="1.7" fill="#5a4aa0" opacity="0.8"/>
<circle cx="529.4" cy="266.4" r="1.5" fill="#5a4aa0" opacity="0.8"/>
<circle cx="523.6" cy="266.9" r="0.9" fill="#5a4aa0" opacity="0.8"/>
<circle cx="528.2" cy="266.8" r="1.3" fill="#5a4aa0" opacity="0.8"/>
<circle cx="522.7" cy="268.1" r="1.5" fill="#5a4aa0" opacity="0.8"/>
<circle cx="523.7" cy="266.1" r="0.9" fill="#5a4aa0" opacity="0.8"/>
<circle cx="524.8" cy="267.3" r="1.5" fill="#5a4aa0" opacity="0.8"/>
<circle cx="528.8" cy="266.5" r="1.1" fill="#5a4aa0" opacity="0.8"/>
<circle cx="528.3" cy="265.1" r="1.7" fill="#5a4aa0" opacity="0.8"/>
<circle cx="528.4" cy="265.3" r="1.8" fill="#5a4aa0" opacity="0.8"/>
<circle cx="523.1" cy="268.5" r="2.0" fill="#5a4aa0" opacity="0.8"/>
<circle cx="527.2" cy="268.2" r="0.8" fill="#fff" opacity="0.6"/>
<circle cx="522.8" cy="266.9" r="0.6" fill="#fff" opacity="0.6"/>
<circle cx="527.9" cy="265.7" r="0.8" fill="#fff" opacity="0.6"/>
<circle cx="523.3" cy="268.3" r="0.9" fill="#fff" opacity="0.6"/>
<circle cx="522.7" cy="266.9" r="0.9" fill="#fff" opacity="0.6"/>
<circle cx="525.1" cy="264.9" r="0.5" fill="#fff" opacity="0.6"/>
<circle cx="524.1" cy="268.3" r="0.4" fill="#fff" opacity="0.6"/>
<circle cx="539.6" cy="258.2" r="1.3" fill="#3c9a40" opacity="0.8"/>
<circle cx="532.7" cy="252.1" r="1.0" fill="#3c9a40" opacity="0.8"/>
<circle cx="548.1" cy="254.9" r="1.2" fill="#3c9a40" opacity="0.8"/>
<circle cx="540.0" cy="259.5" r="1.4" fill="#3c9a40" opacity="0.8"/>
<circle cx="542.6" cy="251.5" r="1.6" fill="#3c9a40" opacity="0.8"/>
<circle cx="543.7" cy="257.7" r="1.9" fill="#3c9a40" opacity="0.8"/>
<circle cx="530.5" cy="253.9" r="1.6" fill="#3c9a40" opacity="0.8"/>
<circle cx="547.0" cy="256.2" r="1.6" fill="#3c9a40" opacity="0.8"/>
<circle cx="538.4" cy="255.3" r="1.9" fill="#3c9a40" opacity="0.8"/>
<circle cx="530.6" cy="255.2" r="1.9" fill="#3c9a40" opacity="0.8"/>
<circle cx="536.8" cy="249.8" r="1.3" fill="#3c9a40" opacity="0.8"/>
<circle cx="541.1" cy="251.3" r="1.9" fill="#3c9a40" opacity="0.8"/>
<circle cx="541.3" cy="253.4" r="1.0" fill="#3c9a40" opacity="0.8"/>
<circle cx="541.0" cy="259.3" r="1.4" fill="#3c9a40" opacity="0.8"/>
<circle cx="535.2" cy="252.5" r="1.5" fill="#3c9a40" opacity="0.8"/>
<circle cx="534.5" cy="256.4" r="1.5" fill="#3c9a40" opacity="0.8"/>
<circle cx="530.8" cy="252.1" r="1.7" fill="#3c9a40" opacity="0.8"/>
<circle cx="547.3" cy="252.5" r="2.0" fill="#3c9a40" opacity="0.8"/>
<circle cx="537.1" cy="252.7" r="1.8" fill="#3c9a40" opacity="0.8"/>
<circle cx="548.3" cy="253.4" r="1.5" fill="#3c9a40" opacity="0.8"/>
<circle cx="538.0" cy="252.3" r="1.8" fill="#3c9a40" opacity="0.8"/>
<circle cx="534.2" cy="253.3" r="1.0" fill="#3c9a40" opacity="0.8"/>
<circle cx="545.0" cy="250.5" r="1.0" fill="#3c9a40" opacity="0.8"/>
<circle cx="541.0" cy="251.5" r="1.1" fill="#3c9a40" opacity="0.8"/>
<circle cx="536.6" cy="258.7" r="1.9" fill="#3c9a40" opacity="0.8"/>
<circle cx="546.5" cy="255.6" r="0.9" fill="#3c9a40" opacity="0.8"/>
<circle cx="537.9" cy="251.7" r="1.9" fill="#3c9a40" opacity="0.8"/>
<circle cx="546.1" cy="254.1" r="2.0" fill="#3c9a40" opacity="0.8"/>
<circle cx="538.0" cy="255.8" r="1.6" fill="#3c9a40" opacity="0.8"/>
<circle cx="543.4" cy="254.9" r="1.3" fill="#3c9a40" opacity="0.8"/>
<circle cx="536.0" cy="253.2" r="0.9" fill="#3c9a40" opacity="0.8"/>
<circle cx="542.8" cy="252.4" r="2.0" fill="#3c9a40" opacity="0.8"/>
<circle cx="543.9" cy="252.6" r="1.4" fill="#3c9a40" opacity="0.8"/>
<circle cx="531.0" cy="254.0" r="1.6" fill="#3c9a40" opacity="0.8"/>
<circle cx="531.7" cy="253.1" r="1.9" fill="#3c9a40" opacity="0.8"/>
<circle cx="532.4" cy="254.4" r="1.7" fill="#3c9a40" opacity="0.8"/>
<circle cx="539.4" cy="257.2" r="2.0" fill="#3c9a40" opacity="0.8"/>
<circle cx="531.7" cy="254.0" r="0.9" fill="#3c9a40" opacity="0.8"/>
<circle cx="532.4" cy="256.4" r="0.9" fill="#3c9a40" opacity="0.8"/>
<circle cx="533.1" cy="251.9" r="1.0" fill="#3c9a40" opacity="0.8"/>
<circle cx="534.2" cy="252.1" r="1.6" fill="#3c9a40" opacity="0.8"/>
<circle cx="534.0" cy="257.9" r="1.7" fill="#3c9a40" opacity="0.8"/>
<circle cx="541.4" cy="254.7" r="1.6" fill="#3c9a40" opacity="0.8"/>
<circle cx="543.9" cy="253.9" r="1.4" fill="#3c9a40" opacity="0.8"/>
<circle cx="534.3" cy="252.9" r="1.3" fill="#3c9a40" opacity="0.8"/>
<circle cx="536.7" cy="257.3" r="1.6" fill="#3c9a40" opacity="0.8"/>
<circle cx="537.1" cy="257.4" r="1.7" fill="#3c9a40" opacity="0.8"/>
<circle cx="546.4" cy="255.1" r="1.7" fill="#3c9a40" opacity="0.8"/>
<circle cx="537.3" cy="256.7" r="1.8" fill="#3c9a40" opacity="0.8"/>
<circle cx="539.3" cy="256.7" r="1.4" fill="#3c9a40" opacity="0.8"/>
<circle cx="538.0" cy="253.0" r="1.3" fill="#3c9a40" opacity="0.8"/>
<circle cx="534.7" cy="258.3" r="0.6" fill="#fff" opacity="0.6"/>
<circle cx="541.4" cy="253.0" r="0.6" fill="#fff" opacity="0.6"/>
<circle cx="533.7" cy="250.9" r="0.6" fill="#fff" opacity="0.6"/>
<circle cx="539.5" cy="256.1" r="0.7" fill="#fff" opacity="0.6"/>
<circle cx="542.1" cy="258.5" r="0.9" fill="#fff" opacity="0.6"/>
<circle cx="541.0" cy="256.8" r="0.8" fill="#fff" opacity="0.6"/>
<circle cx="533.6" cy="251.2" r="0.6" fill="#fff" opacity="0.6"/>
<circle cx="542.5" cy="256.4" r="0.8" fill="#fff" opacity="0.6"/>
<circle cx="538.3" cy="257.3" r="0.6" fill="#fff" opacity="0.6"/>
<circle cx="533.7" cy="256.0" r="0.9" fill="#fff" opacity="0.6"/>
<circle cx="539.4" cy="254.8" r="0.9" fill="#fff" opacity="0.6"/>
<circle cx="545.9" cy="251.3" r="0.6" fill="#fff" opacity="0.6"/>
<circle cx="547.7" cy="253.1" r="0.5" fill="#fff" opacity="0.6"/>
<circle cx="538.7" cy="250.2" r="0.7" fill="#fff" opacity="0.6"/>
<circle cx="533.9" cy="254.2" r="0.6" fill="#fff" opacity="0.6"/>
<circle cx="539.4" cy="255.7" r="0.7" fill="#fff" opacity="0.6"/>
<circle cx="537.0" cy="258.7" r="0.4" fill="#fff" opacity="0.6"/>
<circle cx="545.5" cy="252.2" r="0.9" fill="#fff" opacity="0.6"/>
<circle cx="546.2" cy="251.8" r="0.7" fill="#fff" opacity="0.6"/>
<circle cx="547.2" cy="254.8" r="0.5" fill="#fff" opacity="0.6"/>
<circle cx="536.6" cy="258.2" r="0.7" fill="#fff" opacity="0.6"/>
<circle cx="539.7" cy="263.8" r="1.3" fill="#a8d49a" opacity="0.8"/>
<circle cx="540.7" cy="263.4" r="1.3" fill="#a8d49a" opacity="0.8"/>
<circle cx="545.7" cy="260.7" r="1.7" fill="#a8d49a" opacity="0.8"/>
<circle cx="540.5" cy="265.4" r="1.2" fill="#a8d49a" opacity="0.8"/>
<circle cx="540.7" cy="263.7" r="1.1" fill="#a8d49a" opacity="0.8"/>
<circle cx="546.0" cy="260.9" r="1.8" fill="#a8d49a" opacity="0.8"/>
<circle cx="540.6" cy="260.8" r="1.2" fill="#a8d49a" opacity="0.8"/>
<circle cx="534.7" cy="260.1" r="1.8" fill="#a8d49a" opacity="0.8"/>
<circle cx="541.2" cy="261.7" r="1.6" fill="#a8d49a" opacity="0.8"/>
<circle cx="536.8" cy="260.0" r="1.1" fill="#a8d49a" opacity="0.8"/>
<circle cx="537.1" cy="262.7" r="1.9" fill="#a8d49a" opacity="0.8"/>
<circle cx="543.4" cy="260.3" r="1.2" fill="#a8d49a" opacity="0.8"/>
<circle cx="544.6" cy="260.9" r="1.9" fill="#a8d49a" opacity="0.8"/>
<circle cx="542.8" cy="260.2" r="1.4" fill="#a8d49a" opacity="0.8"/>
<circle cx="535.2" cy="261.0" r="1.1" fill="#a8d49a" opacity="0.8"/>
<circle cx="537.1" cy="265.9" r="0.9" fill="#a8d49a" opacity="0.8"/>
<circle cx="545.6" cy="263.4" r="1.2" fill="#a8d49a" opacity="0.8"/>
<circle cx="534.1" cy="261.9" r="1.3" fill="#a8d49a" opacity="0.8"/>
<circle cx="543.0" cy="262.5" r="1.4" fill="#a8d49a" opacity="0.8"/>
<circle cx="541.4" cy="265.5" r="1.2" fill="#a8d49a" opacity="0.8"/>
<circle cx="535.2" cy="265.2" r="1.3" fill="#a8d49a" opacity="0.8"/>
<circle cx="532.4" cy="261.1" r="1.0" fill="#a8d49a" opacity="0.8"/>
<circle cx="543.0" cy="263.2" r="1.7" fill="#a8d49a" opacity="0.8"/>
<circle cx="536.6" cy="261.2" r="1.3" fill="#a8d49a" opacity="0.8"/>
<circle cx="541.9" cy="264.9" r="0.9" fill="#a8d49a" opacity="0.8"/>
<circle cx="537.0" cy="258.9" r="2.0" fill="#a8d49a" opacity="0.8"/>
<circle cx="538.7" cy="258.6" r="0.9" fill="#a8d49a" opacity="0.8"/>
<circle cx="537.6" cy="266.3" r="1.8" fill="#a8d49a" opacity="0.8"/>
<circle cx="532.9" cy="264.6" r="1.6" fill="#a8d49a" opacity="0.8"/>
<circle cx="541.3" cy="260.5" r="1.1" fill="#a8d49a" opacity="0.8"/>
<circle cx="536.7" cy="263.0" r="1.3" fill="#a8d49a" opacity="0.8"/>
<circle cx="544.0" cy="261.9" r="0.9" fill="#a8d49a" opacity="0.8"/>
<circle cx="542.7" cy="263.0" r="1.8" fill="#a8d49a" opacity="0.8"/>
<circle cx="536.7" cy="264.1" r="1.0" fill="#a8d49a" opacity="0.8"/>
<circle cx="544.4" cy="262.2" r="0.5" fill="#fff" opacity="0.6"/>
<circle cx="541.2" cy="262.8" r="0.5" fill="#fff" opacity="0.6"/>
<circle cx="538.2" cy="261.2" r="0.4" fill="#fff" opacity="0.6"/>
<circle cx="535.7" cy="262.6" r="0.9" fill="#fff" opacity="0.6"/>
<circle cx="543.5" cy="264.4" r="0.8" fill="#fff" opacity="0.6"/>
<circle cx="533.1" cy="264.5" r="0.6" fill="#fff" opacity="0.6"/>
<circle cx="539.8" cy="264.9" r="0.4" fill="#fff" opacity="0.6"/>
<circle cx="536.2" cy="263.4" r="0.9" fill="#fff" opacity="0.6"/>
<circle cx="542.1" cy="260.2" r="0.4" fill="#fff" opacity="0.6"/>
<circle cx="539.4" cy="264.4" r="0.5" fill="#fff" opacity="0.6"/>
<circle cx="540.3" cy="266.0" r="0.4" fill="#fff" opacity="0.6"/>
<circle cx="546.4" cy="263.7" r="0.7" fill="#fff" opacity="0.6"/>
<circle cx="544.3" cy="262.3" r="0.9" fill="#fff" opacity="0.6"/>
<circle cx="535.7" cy="259.7" r="0.8" fill="#fff" opacity="0.6"/>
<circle cx="537.2" cy="262.5" r="0.5" fill="#fff" opacity="0.6"/>
<circle cx="544.5" cy="259.9" r="0.9" fill="#fff" opacity="0.6"/>
<circle cx="536.3" cy="265.1" r="0.8" fill="#fff" opacity="0.6"/>
<circle cx="535.2" cy="259.8" r="0.7" fill="#fff" opacity="0.6"/>
<circle cx="547.7" cy="254.8" r="1.8" fill="#c0cc40" opacity="0.8"/>
<circle cx="554.1" cy="256.1" r="1.9" fill="#c0cc40" opacity="0.8"/>
<circle cx="553.5" cy="258.1" r="1.9" fill="#c0cc40" opacity="0.8"/>
<circle cx="548.0" cy="254.1" r="1.0" fill="#c0cc40" opacity="0.8"/>
<circle cx="548.3" cy="257.9" r="1.5" fill="#c0cc40" opacity="0.8"/>
<circle cx="550.0" cy="257.3" r="1.1" fill="#c0cc40" opacity="0.8"/>
<circle cx="549.7" cy="261.7" r="1.7" fill="#c0cc40" opacity="0.8"/>
<circle cx="552.7" cy="260.9" r="1.1" fill="#c0cc40" opacity="0.8"/>
<circle cx="549.3" cy="256.4" r="0.9" fill="#c0cc40" opacity="0.8"/>
<circle cx="551.9" cy="256.0" r="1.1" fill="#c0cc40" opacity="0.8"/>
<circle cx="554.7" cy="257.0" r="1.2" fill="#c0cc40" opacity="0.8"/>
<circle cx="553.7" cy="256.7" r="1.6" fill="#c0cc40" opacity="0.8"/>
<circle cx="551.7" cy="261.7" r="1.7" fill="#c0cc40" opacity="0.8"/>
<circle cx="554.7" cy="256.6" r="1.2" fill="#c0cc40" opacity="0.8"/>
<circle cx="549.3" cy="258.9" r="1.1" fill="#c0cc40" opacity="0.8"/>
<circle cx="552.8" cy="258.5" r="1.6" fill="#c0cc40" opacity="0.8"/>
<circle cx="554.2" cy="257.6" r="1.3" fill="#c0cc40" opacity="0.8"/>
<circle cx="549.0" cy="261.3" r="1.4" fill="#c0cc40" opacity="0.8"/>
<circle cx="549.2" cy="260.4" r="1.7" fill="#c0cc40" opacity="0.8"/>
<circle cx="554.7" cy="259.1" r="0.9" fill="#c0cc40" opacity="0.8"/>
<circle cx="550.5" cy="253.4" r="0.9" fill="#c0cc40" opacity="0.8"/>
<circle cx="551.1" cy="254.9" r="1.5" fill="#c0cc40" opacity="0.8"/>
<circle cx="551.5" cy="257.6" r="1.1" fill="#c0cc40" opacity="0.8"/>
<circle cx="552.4" cy="256.9" r="1.7" fill="#c0cc40" opacity="0.8"/>
<circle cx="554.2" cy="255.7" r="0.6" fill="#fff" opacity="0.6"/>
<circle cx="548.6" cy="260.0" r="0.8" fill="#fff" opacity="0.6"/>
<circle cx="553.4" cy="259.8" r="0.8" fill="#fff" opacity="0.6"/>
<circle cx="551.0" cy="256.9" r="0.9" fill="#fff" opacity="0.6"/>
<circle cx="552.6" cy="258.9" r="0.7" fill="#fff" opacity="0.6"/>
<circle cx="552.7" cy="256.3" r="0.9" fill="#fff" opacity="0.6"/>
<circle cx="548.2" cy="256.8" r="0.5" fill="#fff" opacity="0.6"/>
<circle cx="556.7" cy="257.6" r="1.4" fill="#4a2c88" opacity="0.8"/>
<circle cx="555.5" cy="262.1" r="1.6" fill="#4a2c88" opacity="0.8"/>
<circle cx="551.2" cy="262.8" r="1.3" fill="#4a2c88" opacity="0.8"/>
<circle cx="555.8" cy="259.4" r="1.8" fill="#4a2c88" opacity="0.8"/>
<circle cx="555.1" cy="258.8" r="1.5" fill="#4a2c88" opacity="0.8"/>
<circle cx="554.6" cy="260.0" r="1.5" fill="#4a2c88" opacity="0.8"/>
<circle cx="556.4" cy="259.6" r="1.8" fill="#4a2c88" opacity="0.8"/>
<circle cx="553.7" cy="257.8" r="1.3" fill="#4a2c88" opacity="0.8"/>
<circle cx="559.2" cy="264.5" r="1.8" fill="#4a2c88" opacity="0.8"/>
<circle cx="554.1" cy="262.5" r="1.1" fill="#4a2c88" opacity="0.8"/>
<circle cx="553.7" cy="260.0" r="1.9" fill="#4a2c88" opacity="0.8"/>
<circle cx="553.6" cy="260.8" r="1.6" fill="#4a2c88" opacity="0.8"/>
<circle cx="552.4" cy="265.7" r="1.9" fill="#4a2c88" opacity="0.8"/>
<circle cx="551.5" cy="261.6" r="1.7" fill="#4a2c88" opacity="0.8"/>
<circle cx="557.2" cy="257.4" r="0.9" fill="#4a2c88" opacity="0.8"/>
<circle cx="553.0" cy="265.0" r="1.2" fill="#4a2c88" opacity="0.8"/>
<circle cx="554.2" cy="261.2" r="1.9" fill="#4a2c88" opacity="0.8"/>
<circle cx="553.8" cy="261.7" r="1.6" fill="#4a2c88" opacity="0.8"/>
<circle cx="554.7" cy="264.0" r="1.4" fill="#4a2c88" opacity="0.8"/>
<circle cx="557.0" cy="263.7" r="1.9" fill="#4a2c88" opacity="0.8"/>
<circle cx="555.3" cy="261.5" r="1.8" fill="#4a2c88" opacity="0.8"/>
<circle cx="558.4" cy="262.3" r="1.9" fill="#4a2c88" opacity="0.8"/>
<circle cx="553.5" cy="260.1" r="1.3" fill="#4a2c88" opacity="0.8"/>
<circle cx="554.1" cy="263.1" r="2.0" fill="#4a2c88" opacity="0.8"/>
<circle cx="558.6" cy="263.1" r="1.7" fill="#4a2c88" opacity="0.8"/>
<circle cx="551.5" cy="265.0" r="1.2" fill="#4a2c88" opacity="0.8"/>
<circle cx="560.2" cy="261.4" r="1.6" fill="#4a2c88" opacity="0.8"/>
<circle cx="558.1" cy="259.9" r="1.8" fill="#4a2c88" opacity="0.8"/>
<circle cx="556.5" cy="258.7" r="0.6" fill="#fff" opacity="0.6"/>
<circle cx="554.7" cy="259.1" r="0.4" fill="#fff" opacity="0.6"/>
<circle cx="555.4" cy="259.6" r="0.6" fill="#fff" opacity="0.6"/>
<circle cx="555.9" cy="260.1" r="0.4" fill="#fff" opacity="0.6"/>
<circle cx="558.1" cy="264.6" r="0.6" fill="#fff" opacity="0.6"/>
<circle cx="555.4" cy="265.2" r="0.9" fill="#fff" opacity="0.6"/>
<circle cx="555.4" cy="265.0" r="0.9" fill="#fff" opacity="0.6"/>
<circle cx="553.6" cy="260.4" r="0.6" fill="#fff" opacity="0.6"/>
<circle cx="553.7" cy="262.2" r="0.6" fill="#fff" opacity="0.6"/>
<circle cx="554.0" cy="266.0" r="0.5" fill="#fff" opacity="0.6"/>
<circle cx="538.4" cy="275.6" r="1.6" fill="#c87818" opacity="0.8"/>
<circle cx="543.8" cy="275.4" r="1.3" fill="#c87818" opacity="0.8"/>
<circle cx="543.8" cy="275.0" r="0.9" fill="#c87818" opacity="0.8"/>
<circle cx="537.9" cy="274.1" r="1.0" fill="#c87818" opacity="0.8"/>
<circle cx="534.2" cy="276.0" r="1.0" fill="#c87818" opacity="0.8"/>
<circle cx="540.4" cy="278.2" r="1.9" fill="#c87818" opacity="0.8"/>
<circle cx="535.9" cy="271.7" r="2.0" fill="#c87818" opacity="0.8"/>
<circle cx="545.3" cy="275.1" r="1.2" fill="#c87818" opacity="0.8"/>
<circle cx="540.9" cy="275.1" r="1.2" fill="#c87818" opacity="0.8"/>
<circle cx="540.6" cy="271.2" r="1.5" fill="#c87818" opacity="0.8"/>
<circle cx="536.9" cy="270.7" r="1.5" fill="#c87818" opacity="0.8"/>
<circle cx="541.0" cy="274.1" r="1.1" fill="#c87818" opacity="0.8"/>
<circle cx="537.7" cy="269.9" r="1.2" fill="#c87818" opacity="0.8"/>
<circle cx="535.7" cy="271.4" r="1.2" fill="#c87818" opacity="0.8"/>
<circle cx="541.0" cy="268.7" r="1.2" fill="#c87818" opacity="0.8"/>
<circle cx="535.3" cy="271.5" r="1.9" fill="#c87818" opacity="0.8"/>
<circle cx="539.0" cy="270.3" r="2.0" fill="#c87818" opacity="0.8"/>
<circle cx="542.6" cy="276.1" r="1.7" fill="#c87818" opacity="0.8"/>
<circle cx="542.1" cy="276.9" r="0.9" fill="#c87818" opacity="0.8"/>
<circle cx="536.7" cy="268.9" r="1.5" fill="#c87818" opacity="0.8"/>
<circle cx="542.1" cy="271.1" r="1.7" fill="#c87818" opacity="0.8"/>
<circle cx="535.4" cy="271.0" r="1.4" fill="#c87818" opacity="0.8"/>
<circle cx="542.9" cy="268.6" r="1.4" fill="#c87818" opacity="0.8"/>
<circle cx="538.7" cy="272.2" r="1.7" fill="#c87818" opacity="0.8"/>
<circle cx="535.6" cy="268.7" r="1.8" fill="#c87818" opacity="0.8"/>
<circle cx="538.6" cy="277.1" r="1.6" fill="#c87818" opacity="0.8"/>
<circle cx="543.9" cy="274.1" r="1.1" fill="#c87818" opacity="0.8"/>
<circle cx="540.7" cy="274.5" r="1.7" fill="#c87818" opacity="0.8"/>
<circle cx="541.7" cy="275.7" r="1.3" fill="#c87818" opacity="0.8"/>
<circle cx="540.8" cy="272.3" r="1.4" fill="#c87818" opacity="0.8"/>
<circle cx="533.7" cy="271.8" r="1.8" fill="#c87818" opacity="0.8"/>
<circle cx="541.7" cy="271.1" r="1.4" fill="#c87818" opacity="0.8"/>
<circle cx="535.6" cy="277.9" r="2.0" fill="#c87818" opacity="0.8"/>
<circle cx="541.1" cy="275.5" r="1.2" fill="#c87818" opacity="0.8"/>
<circle cx="540.0" cy="277.7" r="1.5" fill="#c87818" opacity="0.8"/>
<circle cx="539.5" cy="273.9" r="1.4" fill="#c87818" opacity="0.8"/>
<circle cx="536.2" cy="276.8" r="1.9" fill="#c87818" opacity="0.8"/>
<circle cx="537.8" cy="269.5" r="1.6" fill="#c87818" opacity="0.8"/>
<circle cx="538.8" cy="272.3" r="1.9" fill="#c87818" opacity="0.8"/>
<circle cx="540.6" cy="268.0" r="1.8" fill="#c87818" opacity="0.8"/>
<circle cx="536.3" cy="275.9" r="1.0" fill="#c87818" opacity="0.8"/>
<circle cx="538.5" cy="272.4" r="0.4" fill="#fff" opacity="0.4"/>
<circle cx="540.1" cy="275.7" r="0.6" fill="#fff" opacity="0.4"/>
<circle cx="539.6" cy="273.5" r="0.4" fill="#fff" opacity="0.4"/>
<circle cx="542.5" cy="275.5" r="0.4" fill="#fff" opacity="0.4"/>
<circle cx="542.9" cy="270.3" r="0.4" fill="#fff" opacity="0.4"/>
<circle cx="539.5" cy="276.9" r="0.6" fill="#fff" opacity="0.4"/>
<circle cx="543.6" cy="277.2" r="0.9" fill="#fff" opacity="0.4"/>
<circle cx="535.3" cy="274.3" r="0.4" fill="#fff" opacity="0.4"/>
<circle cx="542.4" cy="275.5" r="0.5" fill="#fff" opacity="0.4"/>
<circle cx="540.7" cy="271.5" r="0.4" fill="#fff" opacity="0.4"/>
<circle cx="543.8" cy="272.2" r="0.4" fill="#fff" opacity="0.4"/>
<circle cx="538.5" cy="273.3" r="0.7" fill="#fff" opacity="0.4"/>
<circle cx="545.2" cy="272.8" r="0.8" fill="#fff" opacity="0.4"/>
<circle cx="539.2" cy="276.9" r="0.5" fill="#fff" opacity="0.4"/>
<circle cx="526.1" cy="282.9" r="1.0" fill="#c41824" opacity="0.8"/>
<circle cx="524.8" cy="276.6" r="1.2" fill="#c41824" opacity="0.8"/>
<circle cx="527.8" cy="278.0" r="1.6" fill="#c41824" opacity="0.8"/>
<circle cx="521.7" cy="278.9" r="1.4" fill="#c41824" opacity="0.8"/>
<circle cx="527.1" cy="282.3" r="1.0" fill="#c41824" opacity="0.8"/>
<circle cx="525.4" cy="278.7" r="1.2" fill="#c41824" opacity="0.8"/>
<circle cx="520.9" cy="280.6" r="1.3" fill="#c41824" opacity="0.8"/>
<circle cx="527.4" cy="279.7" r="2.0" fill="#c41824" opacity="0.8"/>
<circle cx="529.3" cy="279.5" r="1.3" fill="#c41824" opacity="0.8"/>
<circle cx="523.6" cy="275.5" r="1.7" fill="#c41824" opacity="0.8"/>
<circle cx="520.9" cy="278.1" r="1.9" fill="#c41824" opacity="0.8"/>
<circle cx="523.5" cy="277.1" r="1.0" fill="#c41824" opacity="0.8"/>
<circle cx="528.9" cy="276.8" r="1.1" fill="#c41824" opacity="0.8"/>
<circle cx="529.2" cy="276.7" r="1.7" fill="#c41824" opacity="0.8"/>
<circle cx="527.4" cy="276.2" r="1.3" fill="#c41824" opacity="0.8"/>
<circle cx="526.8" cy="276.7" r="1.7" fill="#c41824" opacity="0.8"/>
<circle cx="529.0" cy="280.4" r="1.7" fill="#c41824" opacity="0.8"/>
<circle cx="530.1" cy="276.6" r="1.5" fill="#c41824" opacity="0.8"/>
<circle cx="526.0" cy="279.8" r="1.5" fill="#c41824" opacity="0.8"/>
<circle cx="523.8" cy="277.9" r="1.9" fill="#c41824" opacity="0.8"/>
<circle cx="520.7" cy="277.8" r="1.1" fill="#c41824" opacity="0.8"/>
<circle cx="525.3" cy="278.5" r="1.3" fill="#c41824" opacity="0.8"/>
<circle cx="524.9" cy="281.2" r="1.3" fill="#c41824" opacity="0.8"/>
<circle cx="527.9" cy="273.9" r="1.1" fill="#c41824" opacity="0.8"/>
<circle cx="523.5" cy="279.2" r="1.6" fill="#c41824" opacity="0.8"/>
<circle cx="527.7" cy="277.6" r="1.7" fill="#c41824" opacity="0.8"/>
<circle cx="525.1" cy="278.5" r="1.7" fill="#c41824" opacity="0.8"/>
<circle cx="524.1" cy="279.7" r="1.4" fill="#c41824" opacity="0.8"/>
<circle cx="525.7" cy="281.2" r="1.4" fill="#c41824" opacity="0.8"/>
<circle cx="521.6" cy="279.9" r="1.2" fill="#c41824" opacity="0.8"/>
<circle cx="526.6" cy="278.8" r="0.4" fill="#fff" opacity="0.6"/>
<circle cx="522.2" cy="277.6" r="0.8" fill="#fff" opacity="0.6"/>
<circle cx="520.9" cy="277.9" r="0.9" fill="#fff" opacity="0.6"/>
<circle cx="525.9" cy="278.2" r="0.4" fill="#fff" opacity="0.6"/>
<circle cx="522.3" cy="280.4" r="0.8" fill="#fff" opacity="0.6"/>
<circle cx="522.3" cy="281.8" r="0.4" fill="#fff" opacity="0.6"/>
<circle cx="526.5" cy="276.1" r="0.9" fill="#fff" opacity="0.6"/>
<circle cx="530.3" cy="279.0" r="0.8" fill="#fff" opacity="0.6"/>
<circle cx="529.3" cy="277.8" r="0.5" fill="#fff" opacity="0.6"/>
<circle cx="528.7" cy="277.4" r="0.4" fill="#fff" opacity="0.6"/>
<circle cx="522.4" cy="275.9" r="0.6" fill="#fff" opacity="0.6"/>
<circle cx="526.3" cy="279.4" r="0.7" fill="#fff" opacity="0.6"/>
<circle cx="523.5" cy="278.5" r="0.6" fill="#fff" opacity="0.6"/>
<circle cx="524.6" cy="274.0" r="0.6" fill="#fff" opacity="0.6"/>
<circle cx="550.5" cy="279.2" r="1.1" fill="#c41824" opacity="0.8"/>
<circle cx="554.1" cy="278.2" r="1.5" fill="#c41824" opacity="0.8"/>
<circle cx="555.1" cy="277.6" r="1.5" fill="#c41824" opacity="0.8"/>
<circle cx="553.0" cy="277.8" r="1.3" fill="#c41824" opacity="0.8"/>
<circle cx="552.7" cy="275.3" r="1.7" fill="#c41824" opacity="0.8"/>
<circle cx="555.3" cy="280.5" r="1.0" fill="#c41824" opacity="0.8"/>
<circle cx="548.5" cy="278.3" r="1.5" fill="#c41824" opacity="0.8"/>
<circle cx="554.3" cy="275.4" r="1.7" fill="#c41824" opacity="0.8"/>
<circle cx="556.2" cy="280.1" r="1.6" fill="#c41824" opacity="0.8"/>
<circle cx="553.2" cy="275.3" r="1.0" fill="#c41824" opacity="0.8"/>
<circle cx="553.5" cy="280.8" r="1.2" fill="#c41824" opacity="0.8"/>
<circle cx="554.7" cy="276.4" r="1.9" fill="#c41824" opacity="0.8"/>
<circle cx="554.7" cy="277.7" r="1.3" fill="#c41824" opacity="0.8"/>
<circle cx="553.0" cy="278.5" r="1.4" fill="#c41824" opacity="0.8"/>
<circle cx="555.3" cy="277.6" r="1.6" fill="#c41824" opacity="0.8"/>
<circle cx="556.8" cy="281.1" r="1.9" fill="#c41824" opacity="0.8"/>
<circle cx="553.9" cy="278.9" r="1.0" fill="#c41824" opacity="0.8"/>
<circle cx="553.1" cy="278.3" r="1.0" fill="#c41824" opacity="0.8"/>
<circle cx="548.5" cy="278.6" r="1.4" fill="#c41824" opacity="0.8"/>
<circle cx="550.3" cy="280.9" r="1.0" fill="#c41824" opacity="0.8"/>
<circle cx="551.8" cy="277.5" r="1.6" fill="#c41824" opacity="0.8"/>
<circle cx="555.0" cy="278.2" r="1.5" fill="#c41824" opacity="0.8"/>
<circle cx="552.1" cy="277.3" r="1.2" fill="#c41824" opacity="0.8"/>
<circle cx="559.3" cy="278.3" r="1.0" fill="#c41824" opacity="0.8"/>
<circle cx="552.3" cy="273.8" r="1.2" fill="#c41824" opacity="0.8"/>
<circle cx="552.9" cy="277.8" r="1.3" fill="#c41824" opacity="0.8"/>
<circle cx="551.9" cy="275.1" r="1.8" fill="#c41824" opacity="0.8"/>
<circle cx="556.6" cy="280.0" r="1.9" fill="#c41824" opacity="0.8"/>
<circle cx="550.6" cy="276.8" r="1.3" fill="#c41824" opacity="0.8"/>
<circle cx="558.0" cy="278.2" r="0.9" fill="#c41824" opacity="0.8"/>
<circle cx="554.7" cy="275.9" r="0.6" fill="#fff" opacity="0.6"/>
<circle cx="554.6" cy="281.6" r="0.5" fill="#fff" opacity="0.6"/>
<circle cx="557.3" cy="280.5" r="0.4" fill="#fff" opacity="0.6"/>
<circle cx="554.0" cy="277.8" r="0.8" fill="#fff" opacity="0.6"/>
<circle cx="555.1" cy="275.4" r="0.8" fill="#fff" opacity="0.6"/>
<circle cx="553.9" cy="282.6" r="0.6" fill="#fff" opacity="0.6"/>
<circle cx="554.4" cy="283.1" r="0.6" fill="#fff" opacity="0.6"/>
<circle cx="550.4" cy="281.7" r="0.6" fill="#fff" opacity="0.6"/>
<circle cx="552.7" cy="276.8" r="0.9" fill="#fff" opacity="0.6"/>
<circle cx="553.7" cy="279.6" r="0.9" fill="#fff" opacity="0.6"/>
<circle cx="556.2" cy="282.6" r="0.9" fill="#fff" opacity="0.6"/>
<circle cx="553.4" cy="278.2" r="0.4" fill="#fff" opacity="0.6"/>
<circle cx="554.6" cy="281.4" r="0.7" fill="#fff" opacity="0.6"/>
<circle cx="556.8" cy="277.9" r="0.4" fill="#fff" opacity="0.6"/>
<path d="M531,275 L534,272 M545,272 L549,275" stroke="#b8c8b8" stroke-width="2"/>
<polyline points="628.5,313.5 627.2,307.9 629.7,302.9 634.0,301.7 638.4,303.6" stroke="#3c9a22" stroke-width="1.2" fill="none" stroke-linecap="round" stroke-linejoin="round"/>
<polyline points="640.2,309.1 643.3,312.2 648.3,312.8 652.0,315.3" stroke="#3c9a22" stroke-width="1.2" fill="none" stroke-linecap="round" stroke-linejoin="round"/>
<polyline points="652.0,316.5 657.5,313.5 659.4,310.4 661.9,305.4 661.2,301.1 660.0,302.9 659.4,309.1 658.8,314.1 654.4,318.4 652.0,322.7" stroke="#3c9a22" stroke-width="1.2" fill="none" stroke-linecap="round" stroke-linejoin="round"/>
<polyline points="649.5,325.2 655.7,324.6 661.9,322.7 664.3,319.0 665.0,317.8" stroke="#3c9a22" stroke-width="1.2" fill="none" stroke-linecap="round" stroke-linejoin="round"/>
<polyline points="611.2,327.0 614.9,330.1 617.4,331.4" stroke="#3c9a22" stroke-width="1.2" fill="none" stroke-linecap="round" stroke-linejoin="round"/>
<polyline points="619.2,318.4 623.5,321.5" stroke="#3c9a22" stroke-width="1.2" fill="none" stroke-linecap="round" stroke-linejoin="round"/>
<polyline points="632.8,335.1 639.6,332.6 645.8,331.4" stroke="#3c9a22" stroke-width="2" fill="none"/>
<polygon points="609.6,326.7 617.1,312.2 619.8,318.4 616.1,325.2" fill="#3c9a22"/>
<polygon points="613.7,321.5 617.4,318.4 618.0,320.2 614.9,322.7" fill="#e0f070"/>
<polygon points="615.5,328.9 618.0,328.6 631.0,334.2 632.5,336.6 616.4,334.2" fill="#1c7a18"/>
<polygon points="622.6,316.5 630.3,313.8 630.0,316.9 627.9,318.4 633.7,334.2 631.6,336.6 622.6,324.6" fill="#3c9a22"/>
<polygon points="624.8,321.5 627.9,320.2 632.5,333.8 631.0,334.8" fill="#c6dc2a"/>
<polygon points="648.9,316.5 653.2,315.3 649.5,332.6 644.6,336.0 645.5,331.4" fill="#3c9a22"/>
<polygon points="644.6,332.6 652.0,326.4 654.4,325.8 649.5,332.6 645.8,335.1" fill="#1c7a18"/>
<polygon points="631.0,302.3 637.1,301.7 642.1,304.2 640.8,309.7 638.4,309.1 638.4,305.4 632.8,304.2" fill="#3c9a22"/>
<polygon points="634.0,335.1 637.1,337.6 635.9,341.3 632.8,345.0" fill="#3c9a22"/>
<path d="M657,346 L686,327" stroke="#6aa86a" stroke-width="9" stroke-linecap="round"/>
<ellipse cx="657.0" cy="345.0" rx="2.6" ry="6.6" fill="none" stroke="#3c9a22" stroke-width="2.4" transform="rotate(-33 657.0 345.0)"/>
<ellipse cx="662.8" cy="341.2" rx="2.6" ry="6.6" fill="none" stroke="#1c7a18" stroke-width="2.4" transform="rotate(-33 662.8 341.2)"/>
<ellipse cx="668.6" cy="337.4" rx="2.6" ry="6.6" fill="none" stroke="#3c9a22" stroke-width="2.4" transform="rotate(-33 668.6 337.4)"/>
<ellipse cx="674.4" cy="333.6" rx="2.6" ry="6.6" fill="none" stroke="#1c7a18" stroke-width="2.4" transform="rotate(-33 674.4 333.6)"/>
<ellipse cx="680.2" cy="329.8" rx="2.6" ry="6.6" fill="none" stroke="#3c9a22" stroke-width="2.4" transform="rotate(-33 680.2 329.8)"/>
<ellipse cx="686.0" cy="326.0" rx="2.6" ry="6.6" fill="none" stroke="#1c7a18" stroke-width="2.4" transform="rotate(-33 686.0 326.0)"/>
<ellipse cx="655.0" cy="347.0" rx="5" ry="6.5" fill="#6aa86a" transform="rotate(-33 655.0 347.0)"/>
<polyline points="623.7,356.2 627.5,357.4 632.5,358.0 635.0,356.2 631.2,354.9 636.2,352.4 642.5,351.2 647.4,349.9 649.9,347.4 648.1,343.7 651.2,342.4 654.3,344.9 653.7,348.7 651.2,349.9 647.4,348.7" stroke="#c05a26" stroke-width="2" fill="none" stroke-linejoin="round"/>
<polyline points="637.5,351.8 642.5,352.4 646.2,350.6" stroke="#c05a26" stroke-width="1.6" fill="none"/>
<polyline points="653.7,353.7 657.4,356.2 659.9,359.9 658.7,354.9 662.4,353.7 664.9,356.2 663.7,359.9 667.4,353.7 672.4,354.9 673.7,357.4" stroke="#d81c7a" stroke-width="1.8" fill="none" stroke-linejoin="round"/>
<polyline points="623.7,374.9 630.0,373.0 637.5,371.8 642.5,369.9 647.4,368.7 651.2,364.9 653.7,361.2 658.7,358.7 664.9,357.4" stroke="#552a8e" stroke-width="1.5" fill="none"/>
<polyline points="673.7,357.4 679.9,356.2 682.4,354.9 684.9,357.4 682.4,359.9 686.1,362.4 689.9,366.2 684.9,372.4 681.2,376.1" stroke="#552a8e" stroke-width="1.5" fill="none"/>
<polyline points="684.9,377.4 692.4,372.4 698.6,366.2 704.9,363.0 709.9,364.9 710.5,369.9 704.9,371.2 699.9,368.7 697.4,374.9" stroke="#552a8e" stroke-width="1.6" fill="none"/>
<polygon points="697.4,366.2 702.4,367.4 699.9,371.2" fill="#552a8e"/>
<polygon points="679.9,354.9 683.7,354.3 681.8,358.7" fill="#552a8e"/>
<ellipse cx="616.2" cy="373.7" rx="5.2" ry="6.9" fill="#8cc43a" transform="rotate(-20 616.2 373.7)"/>
<ellipse cx="627.5" cy="381.1" rx="5.0" ry="4.7" fill="#3c9a22" transform="rotate(10 627.5 381.1)"/>
<ellipse cx="635.0" cy="376.1" rx="3.7" ry="5.0" fill="#c6dc2a" transform="rotate(20 635.0 376.1)"/>
<ellipse cx="642.5" cy="381.1" rx="5.0" ry="4.7" fill="#8cc43a" transform="rotate(-10 642.5 381.1)"/>
<ellipse cx="651.2" cy="377.4" rx="4.4" ry="5.6" fill="#c6dc2a" transform="rotate(15 651.2 377.4)"/>
<ellipse cx="658.7" cy="374.9" rx="5.0" ry="5.0" fill="#8cc43a" transform="rotate(0 658.7 374.9)"/>
<ellipse cx="663.7" cy="381.1" rx="5.0" ry="5.0" fill="#3c9a22" transform="rotate(20 663.7 381.1)"/>
<ellipse cx="669.9" cy="373.7" rx="4.4" ry="4.4" fill="#c6dc2a" transform="rotate(-20 669.9 373.7)"/>
<ellipse cx="674.9" cy="382.4" rx="5.6" ry="4.4" fill="#3c9a22" transform="rotate(0 674.9 382.4)"/>
<ellipse cx="684.9" cy="382.4" rx="5.0" ry="3.7" fill="#8cc43a" transform="rotate(-10 684.9 382.4)"/>
<ellipse cx="694.9" cy="381.1" rx="5.6" ry="5.0" fill="#c6dc2a" transform="rotate(20 694.9 381.1)"/>
<ellipse cx="704.9" cy="382.4" rx="5.6" ry="4.4" fill="#8cc43a" transform="rotate(-15 704.9 382.4)"/>
<ellipse cx="708.6" cy="376.1" rx="3.1" ry="3.7" fill="#3c9a22" transform="rotate(0 708.6 376.1)"/>
<ellipse cx="616.9" cy="372.4" rx="2" ry="1.4" fill="#eef6a8" opacity="0.9"/>
<ellipse cx="635.0" cy="374.9" rx="2" ry="1.4" fill="#eef6a8" opacity="0.9"/>
<ellipse cx="652.4" cy="376.1" rx="2" ry="1.4" fill="#eef6a8" opacity="0.9"/>
<ellipse cx="658.7" cy="373.7" rx="2" ry="1.4" fill="#eef6a8" opacity="0.9"/>
<ellipse cx="669.9" cy="372.4" rx="2" ry="1.4" fill="#eef6a8" opacity="0.9"/>
<ellipse cx="694.9" cy="379.9" rx="2" ry="1.4" fill="#eef6a8" opacity="0.9"/>
<ellipse cx="704.9" cy="381.1" rx="2" ry="1.4" fill="#eef6a8" opacity="0.9"/>
<ellipse cx="623.7" cy="382.4" rx="2.5" ry="2" fill="#1c7a18"/>
<ellipse cx="646.2" cy="382.4" rx="2.5" ry="2" fill="#1c7a18"/>
<ellipse cx="657.4" cy="382.4" rx="2.5" ry="2" fill="#1c7a18"/>
<ellipse cx="679.9" cy="383.6" rx="2.5" ry="2" fill="#1c7a18"/>
<ellipse cx="692.4" cy="383.0" rx="2.5" ry="2" fill="#1c7a18"/>
<rect x="610" y="386.5" width="102" height="2" fill="#fff"/>
<path d="M364.4,472.3 A21.8,21.8 0 1 0 408,472.3 A21.8,21.8 0 1 0 364.4,472.3 Z" fill="none" stroke="#5a2a22" stroke-width="2.5" stroke-linejoin="round"/><path d="M364.4,472.3 A21.8,21.8 0 1 0 408,472.3 A21.8,21.8 0 1 0 364.4,472.3 Z" fill="none" stroke="#b24c3e" stroke-width="1.5" stroke-linejoin="round"/>
<text x="417.3" y="454.9" font-family="Liberation Serif, serif" font-size="9" fill="#111">Topo IV</text>
<text x="411.6" y="465.8" font-family="Liberation Serif, serif" font-size="9" fill="#111">and Gyrase</text>
<line x1="410.9" y1="471.4" x2="448" y2="471.4" stroke="#222" stroke-width="0.9"/><path d="M453.4,471.4 L446,468.8 L446,474 Z" fill="#111"/>
<path d="M476,478 C474,470 479,466 478,460 C477,455 473,452 474,447 C475,443 480,443 480.5,447 C481,451 477,455 476.5,460 C476,465 479,470 478,476 C476,482 462,484 457,489 C453,494 460,498 470,499 C480,500 490,499 491,494 C492,488 486,484 481,480 C478,478 468,480 463,485 C459,489 463,494 474,495 C484,496 489,493 489,490" fill="none" stroke="#5a2a22" stroke-width="2.3" stroke-linejoin="round"/><path d="M476,478 C474,470 479,466 478,460 C477,455 473,452 474,447 C475,443 480,443 480.5,447 C481,451 477,455 476.5,460 C476,465 479,470 478,476 C476,482 462,484 457,489 C453,494 460,498 470,499 C480,500 490,499 491,494 C492,488 486,484 481,480 C478,478 468,480 463,485 C459,489 463,494 474,495 C484,496 489,493 489,490" fill="none" stroke="#b24c3e" stroke-width="1.3" stroke-linejoin="round"/>
<path d="M571.5,468.3 L571.0,468.8 L570.6,469.3 L570.2,469.7 L569.9,470.1 L569.7,470.6 L569.6,471.0 L569.5,471.5 L569.5,471.9 L569.6,472.5 L569.7,473.0 L569.9,473.7 L570.1,474.3 L570.3,475.0 L570.6,475.8 L570.8,476.6 L570.9,477.5 L571.1,478.4 L571.1,479.3 L571.1,480.1 L571.0,481.0 L570.8,481.8 L570.5,482.6 L570.2,483.4 L569.7,484.0 L569.2,484.6 L568.5,485.0 L567.9,485.4 L567.1,485.6 L566.3,485.7 L565.5,485.7 L564.7,485.6 L563.8,485.4 L563.0,485.0 L562.2,484.6 L561.5,484.2 L560.7,483.7 L560.1,483.1 L559.4,482.6 L558.8,482.0 L558.3,481.5 L557.8,481.0 L557.3,480.6 L556.9,480.2 L556.5,479.9 L556.0,479.7 L555.6,479.6 L555.1,479.5 L554.7,479.5 L554.1,479.6 L553.6,479.7 L552.9,479.9 L552.3,480.1 L551.6,480.3 L550.8,480.6 L550.0,480.8 L549.1,480.9 L548.2,481.1 L547.3,481.1 L546.5,481.1 L545.6,481.0 L544.8,480.8 L544.0,480.5 L543.2,480.2 L542.6,479.7 L542.0,479.2 L541.6,478.5 L541.2,477.9 L541.0,477.1 L540.9,476.3 L540.9,475.5 L541.0,474.7 L541.2,473.8 L541.6,473.0 L542.0,472.2 L542.4,471.5 L542.9,470.7 L543.5,470.1 L544.0,469.4 L544.6,468.8 L545.1,468.3 L545.6,467.8 L546.0,467.3 L546.4,466.9 L546.7,466.5 L546.9,466.0 L547.0,465.6 L547.1,465.1 L547.1,464.7 L547.0,464.1 L546.9,463.6 L546.7,462.9 L546.5,462.3 L546.3,461.6 L546.0,460.8 L545.8,460.0 L545.7,459.1 L545.5,458.2 L545.5,457.3 L545.5,456.5 L545.6,455.6 L545.8,454.8 L546.1,454.0 L546.4,453.2 L546.9,452.6 L547.4,452.0 L548.1,451.6 L548.7,451.2 L549.5,451.0 L550.3,450.9 L551.1,450.9 L551.9,451.0 L552.8,451.2 L553.6,451.6 L554.4,452.0 L555.1,452.4 L555.9,452.9 L556.5,453.5 L557.2,454.0 L557.8,454.6 L558.3,455.1 L558.8,455.6 L559.3,456.0 L559.7,456.4 L560.1,456.7 L560.6,456.9 L561.0,457.0 L561.5,457.1 L561.9,457.1 L562.5,457.0 L563.0,456.9 L563.7,456.7 L564.3,456.5 L565.0,456.3 L565.8,456.0 L566.6,455.8 L567.5,455.7 L568.4,455.5 L569.3,455.5 L570.1,455.5 L571.0,455.6 L571.8,455.8 L572.6,456.1 L573.4,456.4 L574.0,456.9 L574.6,457.4 L575.0,458.1 L575.4,458.7 L575.6,459.5 L575.7,460.3 L575.7,461.1 L575.6,461.9 L575.4,462.8 L575.0,463.6 L574.6,464.4 L574.2,465.1 L573.7,465.9 L573.1,466.5 L572.6,467.2 L572.0,467.8 L571.5,468.3Z" fill="none" stroke="#5a2a22" stroke-width="3.2" stroke-linejoin="round"/><path d="M571.5,468.3 L571.0,468.8 L570.6,469.3 L570.2,469.7 L569.9,470.1 L569.7,470.6 L569.6,471.0 L569.5,471.5 L569.5,471.9 L569.6,472.5 L569.7,473.0 L569.9,473.7 L570.1,474.3 L570.3,475.0 L570.6,475.8 L570.8,476.6 L570.9,477.5 L571.1,478.4 L571.1,479.3 L571.1,480.1 L571.0,481.0 L570.8,481.8 L570.5,482.6 L570.2,483.4 L569.7,484.0 L569.2,484.6 L568.5,485.0 L567.9,485.4 L567.1,485.6 L566.3,485.7 L565.5,485.7 L564.7,485.6 L563.8,485.4 L563.0,485.0 L562.2,484.6 L561.5,484.2 L560.7,483.7 L560.1,483.1 L559.4,482.6 L558.8,482.0 L558.3,481.5 L557.8,481.0 L557.3,480.6 L556.9,480.2 L556.5,479.9 L556.0,479.7 L555.6,479.6 L555.1,479.5 L554.7,479.5 L554.1,479.6 L553.6,479.7 L552.9,479.9 L552.3,480.1 L551.6,480.3 L550.8,480.6 L550.0,480.8 L549.1,480.9 L548.2,481.1 L547.3,481.1 L546.5,481.1 L545.6,481.0 L544.8,480.8 L544.0,480.5 L543.2,480.2 L542.6,479.7 L542.0,479.2 L541.6,478.5 L541.2,477.9 L541.0,477.1 L540.9,476.3 L540.9,475.5 L541.0,474.7 L541.2,473.8 L541.6,473.0 L542.0,472.2 L542.4,471.5 L542.9,470.7 L543.5,470.1 L544.0,469.4 L544.6,468.8 L545.1,468.3 L545.6,467.8 L546.0,467.3 L546.4,466.9 L546.7,466.5 L546.9,466.0 L547.0,465.6 L547.1,465.1 L547.1,464.7 L547.0,464.1 L546.9,463.6 L546.7,462.9 L546.5,462.3 L546.3,461.6 L546.0,460.8 L545.8,460.0 L545.7,459.1 L545.5,458.2 L545.5,457.3 L545.5,456.5 L545.6,455.6 L545.8,454.8 L546.1,454.0 L546.4,453.2 L546.9,452.6 L547.4,452.0 L548.1,451.6 L548.7,451.2 L549.5,451.0 L550.3,450.9 L551.1,450.9 L551.9,451.0 L552.8,451.2 L553.6,451.6 L554.4,452.0 L555.1,452.4 L555.9,452.9 L556.5,453.5 L557.2,454.0 L557.8,454.6 L558.3,455.1 L558.8,455.6 L559.3,456.0 L559.7,456.4 L560.1,456.7 L560.6,456.9 L561.0,457.0 L561.5,457.1 L561.9,457.1 L562.5,457.0 L563.0,456.9 L563.7,456.7 L564.3,456.5 L565.0,456.3 L565.8,456.0 L566.6,455.8 L567.5,455.7 L568.4,455.5 L569.3,455.5 L570.1,455.5 L571.0,455.6 L571.8,455.8 L572.6,456.1 L573.4,456.4 L574.0,456.9 L574.6,457.4 L575.0,458.1 L575.4,458.7 L575.6,459.5 L575.7,460.3 L575.7,461.1 L575.6,461.9 L575.4,462.8 L575.0,463.6 L574.6,464.4 L574.2,465.1 L573.7,465.9 L573.1,466.5 L572.6,467.2 L572.0,467.8 L571.5,468.3Z" fill="none" stroke="#b24c3e" stroke-width="2.2" stroke-linejoin="round"/>
<path d="M576.3,468.3 L576.7,469.0 L577.1,469.8 L577.3,470.6 L577.5,471.3 L577.5,472.1 L577.4,472.9 L577.1,473.6 L576.7,474.3 L576.3,474.9 L575.7,475.5 L575.0,476.0 L574.3,476.4 L573.5,476.8 L572.6,477.1 L571.8,477.3 L570.9,477.5 L570.0,477.6 L569.2,477.6 L568.4,477.6 L567.7,477.7 L567.0,477.7 L566.3,477.7 L565.7,477.7 L565.2,477.8 L564.8,478.0 L564.4,478.2 L564.0,478.5 L563.7,478.8 L563.3,479.2 L563.0,479.7 L562.7,480.3 L562.4,480.9 L562.0,481.6 L561.7,482.3 L561.2,483.0 L560.7,483.7 L560.2,484.4 L559.6,485.1 L559.0,485.7 L558.3,486.3 L557.6,486.7 L556.8,487.1 L556.0,487.3 L555.3,487.5 L554.5,487.5 L553.7,487.4 L553.0,487.1 L552.3,486.7 L551.7,486.3 L551.1,485.7 L550.6,485.0 L550.2,484.3 L549.8,483.5 L549.5,482.6 L549.3,481.8 L549.1,480.9 L549.0,480.0 L549.0,479.2 L549.0,478.4 L548.9,477.7 L548.9,477.0 L548.9,476.3 L548.9,475.7 L548.8,475.2 L548.6,474.8 L548.4,474.4 L548.1,474.0 L547.8,473.7 L547.4,473.3 L546.9,473.0 L546.3,472.7 L545.7,472.4 L545.0,472.0 L544.3,471.7 L543.6,471.2 L542.9,470.7 L542.2,470.2 L541.5,469.6 L540.9,469.0 L540.3,468.3 L539.9,467.6 L539.5,466.8 L539.3,466.0 L539.1,465.3 L539.1,464.5 L539.2,463.7 L539.5,463.0 L539.9,462.3 L540.3,461.7 L540.9,461.1 L541.6,460.6 L542.3,460.2 L543.1,459.8 L544.0,459.5 L544.8,459.3 L545.7,459.1 L546.6,459.0 L547.4,459.0 L548.2,459.0 L548.9,458.9 L549.6,458.9 L550.3,458.9 L550.9,458.9 L551.4,458.8 L551.8,458.6 L552.2,458.4 L552.6,458.1 L552.9,457.8 L553.3,457.4 L553.6,456.9 L553.9,456.3 L554.2,455.7 L554.6,455.0 L554.9,454.3 L555.4,453.6 L555.9,452.9 L556.4,452.2 L557.0,451.5 L557.6,450.9 L558.3,450.3 L559.0,449.9 L559.8,449.5 L560.6,449.3 L561.3,449.1 L562.1,449.1 L562.9,449.2 L563.6,449.5 L564.3,449.9 L564.9,450.3 L565.5,450.9 L566.0,451.6 L566.4,452.3 L566.8,453.1 L567.1,454.0 L567.3,454.8 L567.5,455.7 L567.6,456.6 L567.6,457.4 L567.6,458.2 L567.7,458.9 L567.7,459.6 L567.7,460.3 L567.7,460.9 L567.8,461.4 L568.0,461.8 L568.2,462.2 L568.5,462.6 L568.8,462.9 L569.2,463.3 L569.7,463.6 L570.3,463.9 L570.9,464.2 L571.6,464.6 L572.3,464.9 L573.0,465.4 L573.7,465.9 L574.4,466.4 L575.1,467.0 L575.7,467.6 L576.3,468.3Z" fill="none" stroke="#1a6a70" stroke-width="3.2" stroke-linejoin="round"/><path d="M576.3,468.3 L576.7,469.0 L577.1,469.8 L577.3,470.6 L577.5,471.3 L577.5,472.1 L577.4,472.9 L577.1,473.6 L576.7,474.3 L576.3,474.9 L575.7,475.5 L575.0,476.0 L574.3,476.4 L573.5,476.8 L572.6,477.1 L571.8,477.3 L570.9,477.5 L570.0,477.6 L569.2,477.6 L568.4,477.6 L567.7,477.7 L567.0,477.7 L566.3,477.7 L565.7,477.7 L565.2,477.8 L564.8,478.0 L564.4,478.2 L564.0,478.5 L563.7,478.8 L563.3,479.2 L563.0,479.7 L562.7,480.3 L562.4,480.9 L562.0,481.6 L561.7,482.3 L561.2,483.0 L560.7,483.7 L560.2,484.4 L559.6,485.1 L559.0,485.7 L558.3,486.3 L557.6,486.7 L556.8,487.1 L556.0,487.3 L555.3,487.5 L554.5,487.5 L553.7,487.4 L553.0,487.1 L552.3,486.7 L551.7,486.3 L551.1,485.7 L550.6,485.0 L550.2,484.3 L549.8,483.5 L549.5,482.6 L549.3,481.8 L549.1,480.9 L549.0,480.0 L549.0,479.2 L549.0,478.4 L548.9,477.7 L548.9,477.0 L548.9,476.3 L548.9,475.7 L548.8,475.2 L548.6,474.8 L548.4,474.4 L548.1,474.0 L547.8,473.7 L547.4,473.3 L546.9,473.0 L546.3,472.7 L545.7,472.4 L545.0,472.0 L544.3,471.7 L543.6,471.2 L542.9,470.7 L542.2,470.2 L541.5,469.6 L540.9,469.0 L540.3,468.3 L539.9,467.6 L539.5,466.8 L539.3,466.0 L539.1,465.3 L539.1,464.5 L539.2,463.7 L539.5,463.0 L539.9,462.3 L540.3,461.7 L540.9,461.1 L541.6,460.6 L542.3,460.2 L543.1,459.8 L544.0,459.5 L544.8,459.3 L545.7,459.1 L546.6,459.0 L547.4,459.0 L548.2,459.0 L548.9,458.9 L549.6,458.9 L550.3,458.9 L550.9,458.9 L551.4,458.8 L551.8,458.6 L552.2,458.4 L552.6,458.1 L552.9,457.8 L553.3,457.4 L553.6,456.9 L553.9,456.3 L554.2,455.7 L554.6,455.0 L554.9,454.3 L555.4,453.6 L555.9,452.9 L556.4,452.2 L557.0,451.5 L557.6,450.9 L558.3,450.3 L559.0,449.9 L559.8,449.5 L560.6,449.3 L561.3,449.1 L562.1,449.1 L562.9,449.2 L563.6,449.5 L564.3,449.9 L564.9,450.3 L565.5,450.9 L566.0,451.6 L566.4,452.3 L566.8,453.1 L567.1,454.0 L567.3,454.8 L567.5,455.7 L567.6,456.6 L567.6,457.4 L567.6,458.2 L567.7,458.9 L567.7,459.6 L567.7,460.3 L567.7,460.9 L567.8,461.4 L568.0,461.8 L568.2,462.2 L568.5,462.6 L568.8,462.9 L569.2,463.3 L569.7,463.6 L570.3,463.9 L570.9,464.2 L571.6,464.6 L572.3,464.9 L573.0,465.4 L573.7,465.9 L574.4,466.4 L575.1,467.0 L575.7,467.6 L576.3,468.3Z" fill="none" stroke="#2ec0c8" stroke-width="2.2" stroke-linejoin="round"/>
<text x="584" y="468.6" font-family="Liberation Serif, serif" font-size="9" fill="#111">Topo IV</text>
<line x1="582" y1="471.7" x2="607" y2="471.7" stroke="#222" stroke-width="0.9"/><path d="M612,471.7 L605,469.2 L605,474.2 Z" fill="#111"/>
<path d="M624,443 C618,443 615,450 616,458 C617,463 620,466 619,471 C617,477 616,484 618,488 C620,492 628,493 631,489 C633,485 632,478 630,472 C629,467 631,462 632,456 C633,448 630,443 624,443 Z" fill="none" stroke="#5a2a22" stroke-width="2.9" stroke-linejoin="round"/><path d="M624,443 C618,443 615,450 616,458 C617,463 620,466 619,471 C617,477 616,484 618,488 C620,492 628,493 631,489 C633,485 632,478 630,472 C629,467 631,462 632,456 C633,448 630,443 624,443 Z" fill="none" stroke="#b24c3e" stroke-width="1.9" stroke-linejoin="round"/>
<path d="M643,442.5 C637,443 635,450 636,458 C637,463 640,466 639,471 C637,477 636,484 638,488 C640,492 648,493 651,489 C653,485 652,478 650,472 C649,467 651,462 652,456 C653,448 650,442.5 643,442.5 Z" fill="none" stroke="#1a6a70" stroke-width="2.9" stroke-linejoin="round"/><path d="M643,442.5 C637,443 635,450 636,458 C637,463 640,466 639,471 C637,477 636,484 638,488 C640,492 648,493 651,489 C653,485 652,478 650,472 C649,467 651,462 652,456 C653,448 650,442.5 643,442.5 Z" fill="none" stroke="#2ec0c8" stroke-width="1.9" stroke-linejoin="round"/>
<defs><radialGradient id="bac" cx="0.58" cy="0.72" r="0.75"><stop offset="0" stop-color="#fbf8d8"/><stop offset="0.22" stop-color="#f0e2a0"/><stop offset="0.45" stop-color="#e6c08e"/><stop offset="0.62" stop-color="#e0a088"/><stop offset="0.85" stop-color="#c48c62"/><stop offset="1" stop-color="#9c6c44"/></radialGradient></defs>
<path d="M189.7,366.6 Q186.3,360.6 182.9,359.4 Q179.4,358.1 177.3,356.8 Q175.2,355.5 173.9,353.4 Q172.6,351.2 172.8,349.5 Q173,347.8 171.9,347.0 Q170.9,346.1 168.8,346.6 Q166.6,347 163.6,348.5 Q160.6,350 158.5,349.4 Q156.4,348.7 155.1,346.8 L153.8,344.8" stroke="#b06a28" stroke-width="1.9" fill="none" stroke-linecap="round" stroke-linejoin="round"/>
<path d="M188,371.8 Q184.6,369.2 182.0,367.5 Q179.4,365.8 175.2,365.8 Q170.9,365.8 166.7,366.6 Q162.4,367.5 159.8,367.1 Q157.2,366.6 154.6,363.6 Q152.1,360.6 150.8,361.1 Q149.5,361.5 148.7,363.0 L147.8,364.5" stroke="#b06a28" stroke-width="1.9" fill="none" stroke-linecap="round" stroke-linejoin="round"/>
<path d="M188,377.7 Q182.9,379.4 176,379.4 L172.6,375.2 L171.8,381.2 Q167.5,380.3 160.6,383.7 Q152.1,389.7 146.1,392.3 L140.1,391.8" stroke="#b06a28" stroke-width="1.9" fill="none" stroke-linecap="round" stroke-linejoin="round"/>
<path d="M167,349 l5,-1 l2,4 z M179,368 l5,0 l1,3 z M166,382 l4,-1 l1,2 z" fill="#c8e4c8" opacity="0.8"/>
<path d="M239,377.5 L256,381 L255.3,385 L238.5,382 Z" fill="#d49460" stroke="#3a2010" stroke-width="0.7"/>
<ellipse cx="0" cy="0" rx="27.1" ry="13" fill="url(#bac)" stroke="#151515" stroke-width="1.2" transform="translate(215,376.1) rotate(6)"/>
<ellipse cx="240.5" cy="379.5" rx="2.3" ry="3.4" fill="#d49460" stroke="#3a2010" stroke-width="0.6"/>
<path d="M214.3,371.8 C216.5,369.3 218,369 219.4,369.3 C222.5,369.3 224.5,369.5 226,370.8 C228,372.5 228.2,375 229,376.2 C230,378.2 231,379.5 231.9,379.9" stroke="#1010f0" stroke-width="2" fill="none" stroke-linecap="round"/>
<path d="M269.4,395.1 Q272.5,393 274.6,396.7 L276.7,403 Q278.3,406 282,402.5 L284.1,399.3 Q282,398 278.8,397.8 Q278.8,394 283.3,390.4" stroke="#1a1aee" stroke-width="1.8" fill="none" stroke-linecap="round" stroke-linejoin="round"/><path d="M284.3,380.1 Q290,380.3 292.5,382.5 Q292,385 291.4,387.2 L289.3,393.6 Q290,395.2 292,394.3 L299.9,390.4 Q299,389 294.6,388.6" stroke="#1a1aee" stroke-width="1.8" fill="none" stroke-linecap="round" stroke-linejoin="round"/>
<rect x="618.1" y="337.6" width="57.6" height="28.3" stroke="#1616f5" stroke-width="2.6" fill="none" stroke-dasharray="4 3.1"/>
<line x1="675.7" y1="337.6" x2="785" y2="163.3" stroke="#1616f5" stroke-width="2.6" fill="none" stroke-dasharray="4 3.1"/>
<line x1="675.7" y1="366" x2="783.2" y2="505" stroke="#1616f5" stroke-width="2.6" fill="none" stroke-dasharray="4 3.1"/>
<line x1="229.6" y1="235.0" x2="311.6" y2="294.5" stroke="#e2200f" fill="none" stroke-linecap="butt" stroke-width="3.4"/>
<line x1="306.6" y1="301.4" x2="316.6" y2="287.6" stroke="#e2200f" fill="none" stroke-linecap="butt" stroke-width="3.4"/>
<line x1="194.7" y1="447.5" x2="216.5" y2="379.0" stroke="#e2200f" fill="none" stroke-linecap="butt" stroke-width="2.8"/>
<line x1="221.7" y1="380.7" x2="211.3" y2="377.3" stroke="#e2200f" fill="none" stroke-linecap="butt" stroke-width="2.8"/>
<path d="M428.8,481.3 L429.5,495 Q430.5,504 441,505 C470,507 500,514 511.1,531.3 L511.1,562.5" stroke="#e2200f" fill="none" stroke-linecap="butt" stroke-width="2.9"/>
<path d="M596.8,481.3 L595.8,495 Q594.5,503.5 584,504.5 C558,506.5 523,513 511.1,531.3" stroke="#e2200f" fill="none" stroke-linecap="butt" stroke-width="2.9"/>
<line x1="422" y1="481.3" x2="435.4" y2="481.3" stroke="#e2200f" fill="none" stroke-linecap="butt" stroke-width="2.8"/>
<line x1="590" y1="481.3" x2="603.4" y2="481.3" stroke="#e2200f" fill="none" stroke-linecap="butt" stroke-width="2.8"/>
<line x1="367.1" y1="135.7" x2="384.9" y2="145.9" stroke="#000" stroke-width="2.1" stroke-linecap="round"/>
<line x1="384.9" y1="145.9" x2="384.9" y2="166.4" stroke="#000" stroke-width="2.1" stroke-linecap="round"/>
<line x1="380.6" y1="148.6" x2="380.6" y2="163.8" stroke="#000" stroke-width="2.1"/>
<line x1="384.9" y1="166.4" x2="367.1" y2="176.7" stroke="#000" stroke-width="2.1" stroke-linecap="round"/>
<line x1="367.1" y1="176.7" x2="349.3" y2="166.4" stroke="#000" stroke-width="2.1" stroke-linecap="round"/>
<line x1="366.9" y1="171.6" x2="353.8" y2="164.1" stroke="#000" stroke-width="2.1"/>
<line x1="349.3" y1="166.4" x2="349.3" y2="145.9" stroke="#000" stroke-width="2.1" stroke-linecap="round"/>
<line x1="349.3" y1="145.9" x2="367.1" y2="135.7" stroke="#000" stroke-width="2.1" stroke-linecap="round"/>
<line x1="353.8" y1="148.3" x2="366.9" y2="140.8" stroke="#000" stroke-width="2.1"/>
<line x1="509.1" y1="53.7" x2="526.9" y2="43.4" stroke="#000" stroke-width="2.1" stroke-linecap="round"/>
<line x1="526.9" y1="43.4" x2="526.9" y2="22.9" stroke="#000" stroke-width="2.1" stroke-linecap="round"/>
<line x1="526.9" y1="22.9" x2="544.6" y2="12.7" stroke="#000" stroke-width="2.1" stroke-linecap="round"/>
<line x1="531.3" y1="25.3" x2="544.5" y2="17.8" stroke="#000" stroke-width="2.1"/>
<line x1="544.6" y1="12.7" x2="562.4" y2="22.9" stroke="#000" stroke-width="2.1" stroke-linecap="round"/>
<line x1="562.4" y1="22.9" x2="562.4" y2="43.4" stroke="#000" stroke-width="2.1" stroke-linecap="round"/>
<line x1="558.1" y1="25.6" x2="558.1" y2="40.8" stroke="#000" stroke-width="2.1"/>
<line x1="562.4" y1="43.4" x2="544.6" y2="53.7" stroke="#000" stroke-width="2.1" stroke-linecap="round"/>
<line x1="544.6" y1="53.7" x2="526.9" y2="43.4" stroke="#000" stroke-width="2.1" stroke-linecap="round"/>
<line x1="544.5" y1="48.6" x2="531.3" y2="41.1" stroke="#000" stroke-width="2.1"/>
<line x1="367.1" y1="135.7" x2="367.1" y2="115.2" stroke="#000" stroke-width="2.1" stroke-linecap="round"/>
<line x1="367.1" y1="115.2" x2="379.0" y2="108.3" stroke="#000" stroke-width="2.1" stroke-linecap="round"/>
<line x1="390.7" y1="108.3" x2="402.6" y2="115.2" stroke="#000" stroke-width="2.1" stroke-linecap="round"/>
<line x1="404.4" y1="115.2" x2="404.4" y2="128.9" stroke="#000" stroke-width="2.1"/>
<line x1="400.8" y1="115.2" x2="400.8" y2="128.9" stroke="#000" stroke-width="2.1"/>
<line x1="402.6" y1="115.2" x2="414.5" y2="108.3" stroke="#000" stroke-width="2.1" stroke-linecap="round"/>
<line x1="426.2" y1="108.3" x2="438.1" y2="115.2" stroke="#000" stroke-width="2.1" stroke-linecap="round"/>
<line x1="437.1" y1="117.5" x2="439.1" y2="117.5" stroke="#000" stroke-width="1.9"/>
<line x1="436.4" y1="121.4" x2="439.8" y2="121.4" stroke="#000" stroke-width="1.9"/>
<line x1="435.8" y1="125.3" x2="440.5" y2="125.3" stroke="#000" stroke-width="1.9"/>
<line x1="435.1" y1="129.1" x2="441.1" y2="129.1" stroke="#000" stroke-width="1.9"/>
<line x1="438.1" y1="115.2" x2="455.9" y2="104.9" stroke="#000" stroke-width="2.1" stroke-linecap="round"/>
<line x1="454.1" y1="104.9" x2="454.1" y2="91.2" stroke="#000" stroke-width="2.1"/>
<line x1="457.7" y1="104.9" x2="457.7" y2="91.2" stroke="#000" stroke-width="2.1"/>
<line x1="455.9" y1="104.9" x2="467.7" y2="111.8" stroke="#000" stroke-width="2.1" stroke-linecap="round"/>
<line x1="479.5" y1="111.8" x2="491.4" y2="104.9" stroke="#000" stroke-width="2.1" stroke-linecap="round"/>
<line x1="492.4" y1="101.9" x2="490.4" y2="101.9" stroke="#000" stroke-width="1.9"/>
<line x1="493.1" y1="96.7" x2="489.7" y2="96.7" stroke="#000" stroke-width="1.9"/>
<line x1="493.7" y1="91.6" x2="489.0" y2="91.6" stroke="#000" stroke-width="1.9"/>
<line x1="494.4" y1="86.5" x2="488.3" y2="86.5" stroke="#000" stroke-width="1.9"/>
<line x1="490.5" y1="86.0" x2="478.6" y2="79.2" stroke="#000" stroke-width="2.1"/>
<line x1="492.3" y1="82.9" x2="480.4" y2="76.0" stroke="#000" stroke-width="2.1"/>
<line x1="491.4" y1="84.4" x2="503.2" y2="77.6" stroke="#000" stroke-width="2.1" stroke-linecap="round"/>
<line x1="509.1" y1="67.4" x2="509.1" y2="53.7" stroke="#000" stroke-width="2.1" stroke-linecap="round"/>
<line x1="491.4" y1="104.9" x2="509.1" y2="115.2" stroke="#f21212" stroke-width="2.1" stroke-linecap="round"/>
<line x1="509.1" y1="115.2" x2="526.9" y2="104.9" stroke="#f21212" stroke-width="2.1" stroke-linecap="round"/>
<line x1="526.9" y1="104.9" x2="544.6" y2="115.2" stroke="#f21212" stroke-width="2.1" stroke-linecap="round"/>
<line x1="544.6" y1="115.2" x2="556.5" y2="108.3" stroke="#f21212" stroke-width="2.1" stroke-linecap="round"/>
<line x1="568.3" y1="108.3" x2="580.1" y2="115.2" stroke="#000" stroke-width="2.1" stroke-linecap="round"/>
<line x1="581.9" y1="115.2" x2="581.9" y2="128.9" stroke="#000" stroke-width="2.1"/>
<line x1="578.3" y1="115.2" x2="578.3" y2="128.9" stroke="#000" stroke-width="2.1"/>
<line x1="583.3" y1="114.5" x2="582.3" y2="112.8" stroke="#f21212" stroke-width="1.9"/>
<line x1="588.1" y1="112.6" x2="586.4" y2="109.6" stroke="#f21212" stroke-width="1.9"/>
<line x1="592.9" y1="110.6" x2="590.5" y2="106.5" stroke="#f21212" stroke-width="1.9"/>
<line x1="597.6" y1="108.6" x2="594.6" y2="103.4" stroke="#f21212" stroke-width="1.9"/>
<line x1="597.9" y1="104.9" x2="598.0" y2="91.3" stroke="#f21212" stroke-width="2.0" stroke-linecap="round"/>
<line x1="604.8" y1="84.5" x2="618.7" y2="84.5" stroke="#f21212" stroke-width="2.0" stroke-linecap="round"/>
<line x1="618.7" y1="84.5" x2="618.7" y2="105.2" stroke="#f21212" stroke-width="2.0" stroke-linecap="round"/>
<line x1="618.7" y1="105.2" x2="597.9" y2="104.9" stroke="#f21212" stroke-width="2.0" stroke-linecap="round"/>
<line x1="617.4" y1="83.3" x2="627.0" y2="73.3" stroke="#f21212" stroke-width="2.1"/>
<line x1="620.0" y1="85.7" x2="629.6" y2="75.8" stroke="#f21212" stroke-width="2.1"/>
<path d="M597.9,104.9 L595.5,119.8 L600.5,119.8Z" fill="#f21212"/>
<line x1="617.7" y1="107.4" x2="619.7" y2="107.4" stroke="#f21212" stroke-width="1.9"/>
<line x1="617.0" y1="111.0" x2="620.4" y2="111.0" stroke="#f21212" stroke-width="1.9"/>
<line x1="616.3" y1="114.7" x2="621.1" y2="114.7" stroke="#f21212" stroke-width="1.9"/>
<line x1="615.7" y1="118.3" x2="621.7" y2="118.3" stroke="#f21212" stroke-width="1.9"/>
<path d="M618.7,105.2 L629.4,114.3 L631.9,110.0Z" fill="#f21212"/>
<text x="379.5" y="109.9" font-family="Liberation Sans, sans-serif" font-size="13.7" fill="#000" transform="translate(0 109.9) scale(1 1.12) translate(0 -109.9)"><tspan dy="0.0">O</tspan></text>
<text x="397.3" y="140.6" font-family="Liberation Sans, sans-serif" font-size="13.7" fill="#000" transform="translate(0 140.6) scale(1 1.12) translate(0 -140.6)"><tspan dy="0.0">O</tspan></text>
<text x="415.4" y="109.9" font-family="Liberation Sans, sans-serif" font-size="13.7" fill="#000" transform="translate(0 109.9) scale(1 1.12) translate(0 -109.9)"><tspan dy="0.0">N</tspan></text>
<text x="415.4" y="96.5" font-family="Liberation Sans, sans-serif" font-size="13.7" fill="#000" transform="translate(0 96.5) scale(1 1.12) translate(0 -96.5)"><tspan dy="0.0">H</tspan></text>
<text x="432.4" y="140.6" font-family="Liberation Sans, sans-serif" font-size="13.7" fill="#000" transform="translate(0 140.6) scale(1 1.12) translate(0 -140.6)"><tspan dy="0.0">Me</tspan></text>
<text x="450.5" y="89.4" font-family="Liberation Sans, sans-serif" font-size="13.7" fill="#000" transform="translate(0 89.4) scale(1 1.12) translate(0 -89.4)"><tspan dy="0.0">O</tspan></text>
<text x="468.7" y="120.1" font-family="Liberation Sans, sans-serif" font-size="13.7" fill="#000" transform="translate(0 120.1) scale(1 1.12) translate(0 -120.1)"><tspan dy="0.0">N</tspan></text>
<text x="468.7" y="132.7" font-family="Liberation Sans, sans-serif" font-size="13.7" fill="#000" transform="translate(0 132.7) scale(1 1.12) translate(0 -132.7)"><tspan dy="0.0">H</tspan></text>
<text x="468.3" y="79.1" font-family="Liberation Sans, sans-serif" font-size="13.7" fill="#000" transform="translate(0 79.1) scale(1 1.12) translate(0 -79.1)"><tspan dy="0.0">O</tspan></text>
<text x="503.8" y="79.1" font-family="Liberation Sans, sans-serif" font-size="13.7" fill="#000" transform="translate(0 79.1) scale(1 1.12) translate(0 -79.1)"><tspan dy="0.0">O</tspan></text>
<text x="557.4" y="109.9" font-family="Liberation Sans, sans-serif" font-size="13.7" fill="#000" transform="translate(0 109.9) scale(1 1.12) translate(0 -109.9)"><tspan dy="0.0">N</tspan></text>
<text x="557.4" y="96.1" font-family="Liberation Sans, sans-serif" font-size="13.7" fill="#000" transform="translate(0 96.1) scale(1 1.12) translate(0 -96.1)"><tspan dy="0.0">H</tspan></text>
<text x="574.8" y="140.6" font-family="Liberation Sans, sans-serif" font-size="13.7" fill="#000" transform="translate(0 140.6) scale(1 1.12) translate(0 -140.6)"><tspan dy="0.0">O</tspan></text>
<text x="592.7" y="89.4" font-family="Liberation Sans, sans-serif" font-size="13.7" fill="#f21212" transform="translate(0 89.4) scale(1 1.12) translate(0 -89.4)"><tspan dy="0.0">O</tspan></text>
<text x="627.7" y="74.5" font-family="Liberation Sans, sans-serif" font-size="13.7" fill="#f21212" transform="translate(0 74.5) scale(1 1.12) translate(0 -74.5)"><tspan dy="0.0">O</tspan></text>
<text x="593.1" y="131.5" font-family="Liberation Sans, sans-serif" font-size="13.7" fill="#f21212" transform="translate(0 131.5) scale(1 1.12) translate(0 -131.5)"><tspan dy="0.0">H</tspan></text>
<text x="613.8" y="131.5" font-family="Liberation Sans, sans-serif" font-size="13.7" fill="#f21212" transform="translate(0 131.5) scale(1 1.12) translate(0 -131.5)"><tspan dy="0.0">H</tspan></text>
<text x="631.6" y="120.5" font-family="Liberation Sans, sans-serif" font-size="13.7" fill="#f21212" transform="translate(0 120.5) scale(1 1.12) translate(0 -120.5)"><tspan dy="0.0">R</tspan></text>
<text x="589.6" y="105" font-family="Liberation Sans, sans-serif" font-size="10.5" font-weight="bold">4</text>
<text x="622" y="105" font-family="Liberation Sans, sans-serif" font-size="10.5" font-weight="bold">3</text>
<line x1="209.3" y1="117.1" x2="209.3" y2="130.5" stroke="#000" stroke-width="2.1" stroke-linecap="round"/>
<line x1="209.3" y1="130.5" x2="226.8" y2="140.6" stroke="#000" stroke-width="2.1" stroke-linecap="round"/>
<line x1="226.8" y1="140.6" x2="244.3" y2="130.5" stroke="#000" stroke-width="2.1" stroke-linecap="round"/>
<line x1="244.3" y1="130.5" x2="244.3" y2="110.3" stroke="#000" stroke-width="2.1" stroke-linecap="round"/>
<line x1="240.0" y1="127.9" x2="240.0" y2="112.9" stroke="#000" stroke-width="2.1"/>
<line x1="244.3" y1="110.3" x2="226.8" y2="100.2" stroke="#000" stroke-width="2.1" stroke-linecap="round"/>
<line x1="226.8" y1="100.2" x2="215.2" y2="106.9" stroke="#000" stroke-width="2.1" stroke-linecap="round"/>
<line x1="227.8" y1="98.1" x2="225.8" y2="98.1" stroke="#f21212" stroke-width="1.9"/>
<line x1="228.5" y1="94.6" x2="225.1" y2="94.6" stroke="#f21212" stroke-width="1.9"/>
<line x1="229.2" y1="91.1" x2="224.4" y2="91.1" stroke="#f21212" stroke-width="1.9"/>
<line x1="229.8" y1="87.6" x2="223.8" y2="87.6" stroke="#f21212" stroke-width="1.9"/>
<line x1="203.4" y1="106.9" x2="191.8" y2="100.2" stroke="#000" stroke-width="2.1" stroke-linecap="round"/>
<line x1="191.8" y1="100.2" x2="178.5" y2="105.9" stroke="#000" stroke-width="2.1" stroke-linecap="round"/>
<line x1="206.2" y1="131.1" x2="207.2" y2="132.9" stroke="#f21212" stroke-width="1.9"/>
<line x1="201.5" y1="133.1" x2="203.1" y2="136.0" stroke="#f21212" stroke-width="1.9"/>
<line x1="196.8" y1="135.0" x2="199.1" y2="139.1" stroke="#f21212" stroke-width="1.9"/>
<line x1="192.0" y1="137.0" x2="195.1" y2="142.2" stroke="#f21212" stroke-width="1.9"/>
<line x1="191.8" y1="140.6" x2="179.2" y2="135.4" stroke="#f21212" stroke-width="2.1" stroke-linecap="round"/>
<line x1="224.1" y1="142.6" x2="225.8" y2="143.8" stroke="#000" stroke-width="1.9"/>
<line x1="220.5" y1="146.5" x2="223.2" y2="148.5" stroke="#000" stroke-width="1.9"/>
<line x1="216.9" y1="150.4" x2="220.7" y2="153.1" stroke="#000" stroke-width="1.9"/>
<line x1="213.3" y1="154.3" x2="218.2" y2="157.8" stroke="#000" stroke-width="1.9"/>
<line x1="214.5" y1="159.6" x2="200.0" y2="159.6" stroke="#000" stroke-width="2.1"/>
<line x1="214.5" y1="156.0" x2="200.0" y2="156.0" stroke="#000" stroke-width="2.1"/>
<line x1="214.5" y1="157.8" x2="223.6" y2="175.8" stroke="#000" stroke-width="2.1" stroke-linecap="round"/>
<line x1="223.6" y1="175.8" x2="244.1" y2="175.8" stroke="#000" stroke-width="2.1" stroke-linecap="round"/>
<line x1="244.1" y1="175.8" x2="254.3" y2="193.6" stroke="#000" stroke-width="2.1" stroke-linecap="round"/>
<line x1="241.7" y1="180.3" x2="249.2" y2="193.4" stroke="#000" stroke-width="2.1"/>
<line x1="254.3" y1="193.6" x2="244.1" y2="211.4" stroke="#000" stroke-width="2.1" stroke-linecap="round"/>
<line x1="244.1" y1="211.4" x2="223.6" y2="211.4" stroke="#000" stroke-width="2.1" stroke-linecap="round"/>
<line x1="241.4" y1="207.1" x2="226.2" y2="207.1" stroke="#000" stroke-width="2.1"/>
<line x1="223.6" y1="211.4" x2="213.3" y2="193.6" stroke="#000" stroke-width="2.1" stroke-linecap="round"/>
<line x1="213.3" y1="193.6" x2="223.6" y2="175.8" stroke="#000" stroke-width="2.1" stroke-linecap="round"/>
<line x1="218.4" y1="193.4" x2="225.9" y2="180.3" stroke="#000" stroke-width="2.1"/>
<path d="M226.8,140.6 L236.9,159.3 L240.9,156.5Z" fill="#1a86c8"/>
<line x1="238.9" y1="157.9" x2="260.5" y2="157.9" stroke="#1a86c8" stroke-width="2.1" stroke-linecap="round"/>
<line x1="260.5" y1="157.9" x2="269.9" y2="175.2" stroke="#1a86c8" stroke-width="2.1" stroke-linecap="round"/>
<line x1="257.9" y1="162.2" x2="264.9" y2="175.0" stroke="#1a86c8" stroke-width="2.1"/>
<text x="204.4" y="115.2" font-family="Liberation Sans, sans-serif" font-size="13.7" fill="#000" transform="translate(0 115.2) scale(1 1.12) translate(0 -115.2)"><tspan dy="0.0">N</tspan></text>
<text x="221.9" y="85.1" font-family="Liberation Sans, sans-serif" font-size="13.7" fill="#f21212" transform="translate(0 85.1) scale(1 1.12) translate(0 -85.1)"><tspan dy="0.0">R</tspan><tspan dy="3.8" font-size="10">1</tspan></text>
<text x="160.0" y="115.2" font-family="Liberation Sans, sans-serif" font-size="13.7" fill="#000" transform="translate(0 115.2) scale(1 1.12) translate(0 -115.2)"><tspan dy="0.0">Ph</tspan></text>
<text x="157.7" y="135.5" font-family="Liberation Sans, sans-serif" font-size="13.7" fill="#f21212" transform="translate(0 135.5) scale(1 1.12) translate(0 -135.5)"><tspan dy="0.0">NC</tspan></text>
<text x="188.2" y="162.7" font-family="Liberation Sans, sans-serif" font-size="13.7" fill="#000" transform="translate(0 162.7) scale(1 1.12) translate(0 -162.7)"><tspan dy="0.0">O</tspan></text>
<line x1="146.5" y1="237.1" x2="146.5" y2="250.8" stroke="#000" stroke-width="2.1" stroke-linecap="round"/>
<line x1="146.5" y1="250.8" x2="164.3" y2="261.0" stroke="#000" stroke-width="2.1" stroke-linecap="round"/>
<line x1="164.3" y1="261.0" x2="182.0" y2="250.8" stroke="#000" stroke-width="2.1" stroke-linecap="round"/>
<line x1="164.4" y1="255.9" x2="177.5" y2="248.4" stroke="#000" stroke-width="2.1"/>
<line x1="182.0" y1="250.8" x2="182.0" y2="230.2" stroke="#000" stroke-width="2.1" stroke-linecap="round"/>
<line x1="182.0" y1="230.2" x2="164.3" y2="220.0" stroke="#000" stroke-width="2.1" stroke-linecap="round"/>
<line x1="164.3" y1="220.0" x2="152.4" y2="226.8" stroke="#000" stroke-width="2.1" stroke-linecap="round"/>
<line x1="165.3" y1="218.1" x2="163.3" y2="218.0" stroke="#f21212" stroke-width="1.9"/>
<line x1="166.0" y1="214.8" x2="162.6" y2="214.8" stroke="#f21212" stroke-width="1.9"/>
<line x1="166.7" y1="211.6" x2="162.0" y2="211.5" stroke="#f21212" stroke-width="1.9"/>
<line x1="167.4" y1="208.3" x2="161.3" y2="208.3" stroke="#f21212" stroke-width="1.9"/>
<path d="M182.0,230.2 L194.9,226.1 L192.6,221.7Z" fill="#1a86c8"/>
<line x1="140.6" y1="226.8" x2="128.7" y2="220.0" stroke="#000" stroke-width="2.1" stroke-linecap="round"/>
<line x1="128.7" y1="220.0" x2="116.3" y2="225.7" stroke="#000" stroke-width="2.1" stroke-linecap="round"/>
<line x1="143.3" y1="251.4" x2="144.3" y2="253.2" stroke="#f21212" stroke-width="1.9"/>
<line x1="138.6" y1="253.4" x2="140.2" y2="256.3" stroke="#f21212" stroke-width="1.9"/>
<line x1="133.8" y1="255.4" x2="136.1" y2="259.5" stroke="#f21212" stroke-width="1.9"/>
<line x1="129.0" y1="257.4" x2="132.0" y2="262.6" stroke="#f21212" stroke-width="1.9"/>
<line x1="128.7" y1="261.0" x2="117.1" y2="256.3" stroke="#f21212" stroke-width="2.1" stroke-linecap="round"/>
<line x1="164.3" y1="261.0" x2="164.3" y2="281.5" stroke="#000" stroke-width="2.1" stroke-linecap="round"/>
<line x1="165.2" y1="280.0" x2="177.3" y2="287.3" stroke="#000" stroke-width="2.1"/>
<line x1="163.3" y1="283.0" x2="175.4" y2="290.4" stroke="#000" stroke-width="2.1"/>
<line x1="164.3" y1="281.5" x2="146.5" y2="291.5" stroke="#000" stroke-width="2.1" stroke-linecap="round"/>
<line x1="128.7" y1="281.2" x2="146.5" y2="291.5" stroke="#000" stroke-width="2.1" stroke-linecap="round"/>
<line x1="128.9" y1="286.3" x2="142.0" y2="293.9" stroke="#000" stroke-width="2.1"/>
<line x1="146.5" y1="291.5" x2="146.5" y2="312.0" stroke="#000" stroke-width="2.1" stroke-linecap="round"/>
<line x1="146.5" y1="312.0" x2="128.7" y2="322.2" stroke="#000" stroke-width="2.1" stroke-linecap="round"/>
<line x1="142.0" y1="309.6" x2="128.9" y2="317.2" stroke="#000" stroke-width="2.1"/>
<line x1="128.7" y1="322.2" x2="110.9" y2="312.0" stroke="#000" stroke-width="2.1" stroke-linecap="round"/>
<line x1="110.9" y1="312.0" x2="110.9" y2="291.5" stroke="#000" stroke-width="2.1" stroke-linecap="round"/>
<line x1="115.2" y1="309.3" x2="115.2" y2="294.2" stroke="#000" stroke-width="2.1"/>
<line x1="110.9" y1="291.5" x2="128.7" y2="281.2" stroke="#000" stroke-width="2.1" stroke-linecap="round"/>
<text x="141.6" y="235.2" font-family="Liberation Sans, sans-serif" font-size="13.7" fill="#000" transform="translate(0 235.2) scale(1 1.12) translate(0 -235.2)"><tspan dy="0.0">N</tspan></text>
<text x="159.5" y="205.9" font-family="Liberation Sans, sans-serif" font-size="13.7" fill="#f21212" transform="translate(0 205.9) scale(1 1.12) translate(0 -205.9)"><tspan dy="0.0">R</tspan><tspan dy="3.8" font-size="10">1</tspan></text>
<text x="195.0" y="225.5" font-family="Liberation Sans, sans-serif" font-size="13.7" fill="#1a86c8" transform="translate(0 225.5) scale(1 1.12) translate(0 -225.5)"><tspan dy="0.0">R</tspan><tspan dy="3.8" font-size="10">2</tspan></text>
<text x="97.9" y="235.2" font-family="Liberation Sans, sans-serif" font-size="13.7" fill="#000" transform="translate(0 235.2) scale(1 1.12) translate(0 -235.2)"><tspan dy="0.0">Ph</tspan></text>
<text x="95.6" y="256.5" font-family="Liberation Sans, sans-serif" font-size="13.7" fill="#f21212" transform="translate(0 256.5) scale(1 1.12) translate(0 -256.5)"><tspan dy="0.0">NC</tspan></text>
<text x="176.6" y="297.1" font-family="Liberation Sans, sans-serif" font-size="13.7" fill="#000" transform="translate(0 297.1) scale(1 1.12) translate(0 -297.1)"><tspan dy="0.0">O</tspan></text>
<line x1="165.8" y1="224.6" x2="178.7" y2="231.8" stroke="#000" stroke-width="2.1" stroke-dasharray="2 2"/>
<line x1="49.6" y1="491.5" x2="70.0" y2="491.5" stroke="#000" stroke-width="2.1" stroke-linecap="round"/>
<line x1="52.2" y1="495.8" x2="67.4" y2="495.8" stroke="#000" stroke-width="2.1"/>
<line x1="70.0" y1="491.5" x2="80.3" y2="509.3" stroke="#000" stroke-width="2.1" stroke-linecap="round"/>
<line x1="80.3" y1="509.3" x2="70.0" y2="527.1" stroke="#000" stroke-width="2.1" stroke-linecap="round"/>
<line x1="75.2" y1="509.5" x2="67.7" y2="522.6" stroke="#000" stroke-width="2.1"/>
<line x1="70.0" y1="527.1" x2="49.6" y2="527.1" stroke="#000" stroke-width="2.1" stroke-linecap="round"/>
<line x1="49.6" y1="527.1" x2="39.3" y2="509.3" stroke="#000" stroke-width="2.1" stroke-linecap="round"/>
<line x1="51.9" y1="522.6" x2="44.4" y2="509.5" stroke="#000" stroke-width="2.1"/>
<line x1="39.3" y1="509.3" x2="49.6" y2="491.5" stroke="#000" stroke-width="2.1" stroke-linecap="round"/>
<line x1="70.0" y1="491.5" x2="77.0" y2="480.1" stroke="#000" stroke-width="2.1" stroke-linecap="round"/>
<line x1="87.3" y1="474.2" x2="101.0" y2="474.2" stroke="#000" stroke-width="2.1" stroke-linecap="round"/>
<line x1="101.0" y1="474.2" x2="111.3" y2="492.0" stroke="#000" stroke-width="2.1" stroke-linecap="round"/>
<line x1="111.3" y1="492.0" x2="101.0" y2="509.8" stroke="#000" stroke-width="2.1" stroke-linecap="round"/>
<line x1="101.0" y1="509.8" x2="80.3" y2="509.3" stroke="#000" stroke-width="2.1" stroke-linecap="round"/>
<line x1="39.3" y1="509.3" x2="25.6" y2="509.3" stroke="#000" stroke-width="2.1" stroke-linecap="round"/>
<line x1="70.0" y1="527.1" x2="76.9" y2="538.9" stroke="#000" stroke-width="2.1" stroke-linecap="round"/>
<line x1="111.8" y1="420.5" x2="132.2" y2="420.5" stroke="#000" stroke-width="2.1" stroke-linecap="round"/>
<line x1="132.2" y1="420.5" x2="142.4" y2="438.2" stroke="#000" stroke-width="2.1" stroke-linecap="round"/>
<line x1="129.8" y1="425.0" x2="137.4" y2="438.1" stroke="#000" stroke-width="2.1"/>
<line x1="142.4" y1="438.2" x2="132.2" y2="455.9" stroke="#000" stroke-width="2.1" stroke-linecap="round"/>
<line x1="132.2" y1="455.9" x2="111.8" y2="455.9" stroke="#000" stroke-width="2.1" stroke-linecap="round"/>
<line x1="129.5" y1="451.6" x2="114.5" y2="451.6" stroke="#000" stroke-width="2.1"/>
<line x1="111.8" y1="455.9" x2="101.6" y2="438.2" stroke="#000" stroke-width="2.1" stroke-linecap="round"/>
<line x1="101.6" y1="438.2" x2="111.8" y2="420.5" stroke="#000" stroke-width="2.1" stroke-linecap="round"/>
<line x1="106.6" y1="438.1" x2="114.2" y2="425.0" stroke="#000" stroke-width="2.1"/>
<line x1="103.5" y1="472.0" x2="101.8" y2="471.0" stroke="#000" stroke-width="1.9"/>
<line x1="106.8" y1="467.7" x2="103.9" y2="466.0" stroke="#000" stroke-width="1.9"/>
<line x1="110.1" y1="463.5" x2="106.0" y2="461.1" stroke="#000" stroke-width="1.9"/>
<line x1="113.3" y1="459.2" x2="108.1" y2="456.2" stroke="#000" stroke-width="1.9"/>
<line x1="111.8" y1="420.5" x2="105.0" y2="408.7" stroke="#000" stroke-width="2.1" stroke-linecap="round"/>
<line x1="132.2" y1="420.5" x2="139.0" y2="408.7" stroke="#000" stroke-width="2.1" stroke-linecap="round"/>
<line x1="142.4" y1="438.2" x2="156.1" y2="438.2" stroke="#000" stroke-width="2.1" stroke-linecap="round"/>
<line x1="113.4" y1="493.0" x2="113.3" y2="490.9" stroke="#000" stroke-width="1.9"/>
<line x1="116.8" y1="493.5" x2="116.7" y2="490.2" stroke="#000" stroke-width="1.9"/>
<line x1="120.3" y1="494.1" x2="120.1" y2="489.4" stroke="#000" stroke-width="1.9"/>
<line x1="123.7" y1="494.7" x2="123.6" y2="488.7" stroke="#000" stroke-width="1.9"/>
<line x1="135.3" y1="497.4" x2="142.3" y2="509.3" stroke="#000" stroke-width="2.1" stroke-linecap="round"/>
<line x1="143.9" y1="510.2" x2="136.8" y2="522.2" stroke="#000" stroke-width="2.1"/>
<line x1="140.7" y1="508.4" x2="133.7" y2="520.4" stroke="#000" stroke-width="2.1"/>
<line x1="142.3" y1="509.3" x2="162.9" y2="509.3" stroke="#000" stroke-width="2.1" stroke-linecap="round"/>
<line x1="173.0" y1="491.7" x2="193.3" y2="491.7" stroke="#000" stroke-width="2.1" stroke-linecap="round"/>
<line x1="175.7" y1="496.0" x2="190.7" y2="496.0" stroke="#000" stroke-width="2.1"/>
<line x1="193.3" y1="491.7" x2="203.5" y2="509.3" stroke="#000" stroke-width="2.1" stroke-linecap="round"/>
<line x1="203.5" y1="509.3" x2="193.3" y2="526.9" stroke="#000" stroke-width="2.1" stroke-linecap="round"/>
<line x1="198.5" y1="509.4" x2="190.9" y2="522.4" stroke="#000" stroke-width="2.1"/>
<line x1="193.3" y1="526.9" x2="173.0" y2="526.9" stroke="#000" stroke-width="2.1" stroke-linecap="round"/>
<line x1="173.0" y1="526.9" x2="162.9" y2="509.3" stroke="#000" stroke-width="2.1" stroke-linecap="round"/>
<line x1="175.5" y1="522.4" x2="167.9" y2="509.4" stroke="#000" stroke-width="2.1"/>
<line x1="162.9" y1="509.3" x2="173.0" y2="491.7" stroke="#000" stroke-width="2.1" stroke-linecap="round"/>
<line x1="193.3" y1="491.7" x2="200.2" y2="479.9" stroke="#000" stroke-width="2.1" stroke-linecap="round"/>
<line x1="203.5" y1="509.3" x2="217.2" y2="509.3" stroke="#000" stroke-width="2.1" stroke-linecap="round"/>
<line x1="193.3" y1="526.9" x2="200.2" y2="538.7" stroke="#000" stroke-width="2.1" stroke-linecap="round"/>
<text x="75.2" y="479.2" font-family="Liberation Sans, sans-serif" font-size="13.7" fill="#000" transform="translate(0 479.2) scale(1 1.12) translate(0 -479.2)"><tspan dy="0.0">O</tspan></text>
<text x="3.6" y="514.2" font-family="Liberation Sans, sans-serif" font-size="13.7" fill="#000" transform="translate(0 514.2) scale(1 1.12) translate(0 -514.2)"><tspan dy="0.0">HO</tspan></text>
<text x="75.0" y="549.7" font-family="Liberation Sans, sans-serif" font-size="13.7" fill="#000" transform="translate(0 549.7) scale(1 1.12) translate(0 -549.7)"><tspan dy="0.0">OH</tspan></text>
<text x="86.3" y="407.7" font-family="Liberation Sans, sans-serif" font-size="13.7" fill="#000" transform="translate(0 407.7) scale(1 1.12) translate(0 -407.7)"><tspan dy="0.0">HO</tspan></text>
<text x="137.1" y="407.7" font-family="Liberation Sans, sans-serif" font-size="13.7" fill="#000" transform="translate(0 407.7) scale(1 1.12) translate(0 -407.7)"><tspan dy="0.0">OH</tspan></text>
<text x="157.6" y="443.1" font-family="Liberation Sans, sans-serif" font-size="13.7" fill="#000" transform="translate(0 443.1) scale(1 1.12) translate(0 -443.1)"><tspan dy="0.0">OH</tspan></text>
<text x="126.5" y="496.4" font-family="Liberation Sans, sans-serif" font-size="13.7" fill="#000" transform="translate(0 496.4) scale(1 1.12) translate(0 -496.4)"><tspan dy="0.0">O</tspan></text>
<text x="126.5" y="532.1" font-family="Liberation Sans, sans-serif" font-size="13.7" fill="#000" transform="translate(0 532.1) scale(1 1.12) translate(0 -532.1)"><tspan dy="0.0">O</tspan></text>
<text x="198.3" y="478.9" font-family="Liberation Sans, sans-serif" font-size="13.7" fill="#000" transform="translate(0 478.9) scale(1 1.12) translate(0 -478.9)"><tspan dy="0.0">OH</tspan></text>
<text x="218.7" y="514.2" font-family="Liberation Sans, sans-serif" font-size="13.7" fill="#000" transform="translate(0 514.2) scale(1 1.12) translate(0 -514.2)"><tspan dy="0.0">OH</tspan></text>
<text x="198.3" y="549.6" font-family="Liberation Sans, sans-serif" font-size="13.7" fill="#000" transform="translate(0 549.6) scale(1 1.12) translate(0 -549.6)"><tspan dy="0.0">OH</tspan></text>
<ellipse cx="0" cy="0" rx="35.5" ry="9" fill="#0b7bc1" transform="translate(955.5,89.8) rotate(56.2)"/>
<rect x="-22.0" y="-14.5" width="44" height="29" rx="14.5" fill="#e07f00" transform="translate(958.75,155.15) rotate(-63)"/>
<line x1="848.4" y1="136.2" x2="866.2" y2="146.4" stroke="#000" stroke-width="2.1" stroke-linecap="round"/>
<line x1="848.6" y1="141.3" x2="861.7" y2="148.8" stroke="#000" stroke-width="2.1"/>
<line x1="866.2" y1="146.4" x2="866.2" y2="166.9" stroke="#000" stroke-width="2.1" stroke-linecap="round"/>
<line x1="866.2" y1="166.9" x2="848.4" y2="177.2" stroke="#000" stroke-width="2.1" stroke-linecap="round"/>
<line x1="866.0" y1="172.0" x2="852.9" y2="179.6" stroke="#000" stroke-width="2.1"/>
<line x1="848.4" y1="177.2" x2="830.6" y2="166.9" stroke="#000" stroke-width="2.1" stroke-linecap="round"/>
<line x1="830.6" y1="166.9" x2="830.6" y2="146.4" stroke="#000" stroke-width="2.1" stroke-linecap="round"/>
<line x1="834.9" y1="164.3" x2="834.9" y2="149.1" stroke="#000" stroke-width="2.1"/>
<line x1="830.6" y1="146.4" x2="848.4" y2="136.2" stroke="#000" stroke-width="2.1" stroke-linecap="round"/>
<line x1="866.2" y1="166.9" x2="883.9" y2="177.2" stroke="#000" stroke-width="2.1" stroke-linecap="round"/>
<line x1="883.9" y1="177.2" x2="883.9" y2="197.7" stroke="#000" stroke-width="2.1" stroke-linecap="round"/>
<line x1="879.6" y1="179.9" x2="879.6" y2="195.0" stroke="#000" stroke-width="2.1"/>
<line x1="883.9" y1="197.7" x2="866.2" y2="207.9" stroke="#000" stroke-width="2.1" stroke-linecap="round"/>
<line x1="866.2" y1="207.9" x2="854.3" y2="201.1" stroke="#000" stroke-width="2.1" stroke-linecap="round"/>
<line x1="866.0" y1="202.9" x2="858.7" y2="198.7" stroke="#000" stroke-width="2.1"/>
<line x1="848.4" y1="190.9" x2="848.4" y2="177.2" stroke="#000" stroke-width="2.1" stroke-linecap="round"/>
<line x1="848.4" y1="136.2" x2="848.4" y2="122.5" stroke="#000" stroke-width="2.1" stroke-linecap="round"/>
<line x1="883.9" y1="177.2" x2="901.7" y2="166.9" stroke="#000" stroke-width="2.1" stroke-linecap="round"/>
<line x1="902.9" y1="168.8" x2="903.9" y2="167.1" stroke="#000" stroke-width="1.9"/>
<line x1="905.6" y1="171.1" x2="907.2" y2="168.2" stroke="#000" stroke-width="1.9"/>
<line x1="908.2" y1="173.4" x2="910.6" y2="169.4" stroke="#000" stroke-width="1.9"/>
<line x1="910.8" y1="175.7" x2="913.9" y2="170.5" stroke="#000" stroke-width="1.9"/>
<line x1="901.7" y1="166.9" x2="901.7" y2="146.4" stroke="#000" stroke-width="2.1" stroke-linecap="round"/>
<line x1="901.7" y1="146.4" x2="915.7" y2="143.1" stroke="#000" stroke-width="2.1" stroke-linecap="round"/>
<line x1="922.3" y1="119.4" x2="922.3" y2="134.7" stroke="#000" stroke-width="2.1" stroke-linecap="round"/>
<line x1="922.3" y1="119.4" x2="931.8" y2="102.8" stroke="#000" stroke-width="2.1" stroke-linecap="round"/>
<line x1="931.8" y1="102.8" x2="931.8" y2="123.3" stroke="#000" stroke-width="2.1" stroke-linecap="round"/>
<line x1="931.8" y1="123.3" x2="952.3" y2="128.1" stroke="#000" stroke-width="2.1" stroke-linecap="round"/>
<line x1="952.3" y1="128.1" x2="942.0" y2="146.2" stroke="#000" stroke-width="2.1" stroke-linecap="round"/>
<line x1="942.0" y1="146.2" x2="928.9" y2="143.1" stroke="#000" stroke-width="2.1" stroke-linecap="round"/>
<line x1="931.8" y1="102.8" x2="914.4" y2="93.4" stroke="#000" stroke-width="2.1" stroke-linecap="round"/>
<line x1="914.4" y1="93.4" x2="914.4" y2="73.7" stroke="#000" stroke-width="2.1" stroke-linecap="round"/>
<line x1="918.7" y1="90.8" x2="918.7" y2="76.3" stroke="#000" stroke-width="2.1"/>
<path d="M914.4,73.7 Q917.6,75.5 917.4,71.9 Q917.3,68.2 920.5,70.1 Q923.6,71.9 923.5,68.3 Q923.4,64.6 926.6,66.4 Q929.7,68.3 929.6,64.6 Q929.5,61.0 932.7,62.8 Q935.8,64.7 935.7,61.0" fill="none" stroke="#000" stroke-width="2.1"/>
<line x1="925.8" y1="175.0" x2="940.9" y2="169.8" stroke="#000" stroke-width="2.1" stroke-linecap="round"/>
<line x1="971.7" y1="119.0" x2="971.7" y2="137.0" stroke="#000" stroke-width="2.1" stroke-linecap="round"/>
<text x="843.5" y="202.6" font-family="Liberation Sans, sans-serif" font-size="13.7" fill="#000" transform="translate(0 202.6) scale(1 1.12) translate(0 -202.6)"><tspan dy="0.0">N</tspan></text>
<text x="843.1" y="120.6" font-family="Liberation Sans, sans-serif" font-size="13.7" fill="#000" transform="translate(0 120.6) scale(1 1.12) translate(0 -120.6)"><tspan dy="0.0">OMe</tspan></text>
<text x="914.1" y="182.1" font-family="Liberation Sans, sans-serif" font-size="13.7" fill="#000" transform="translate(0 182.1) scale(1 1.12) translate(0 -182.1)"><tspan dy="0.0">O</tspan></text>
<text x="917.4" y="146.4" font-family="Liberation Sans, sans-serif" font-size="13.7" fill="#000" transform="translate(0 146.4) scale(1 1.12) translate(0 -146.4)"><tspan dy="0.0">N</tspan></text>
<path d="M901.6,146.4 L913.7,127.3 L917.5,126.6" fill="none" stroke="#000" stroke-width="2.1" stroke-linejoin="round" stroke-linecap="round"/>
<circle cx="929.8" cy="391" r="15" fill="#e07a7c"/>
<ellipse cx="0" cy="0" rx="34.5" ry="10" fill="#0b7bc1" transform="translate(978.5,391.7) rotate(-51.7)"/>
<rect x="-23.0" y="-13.0" width="46" height="26" rx="13.0" fill="#e07f00" transform="translate(977.9,326.7) rotate(90)"/>
<line x1="859.6" y1="314.6" x2="877.4" y2="324.9" stroke="#000" stroke-width="2.1" stroke-linecap="round"/>
<line x1="859.8" y1="319.7" x2="872.9" y2="327.2" stroke="#000" stroke-width="2.1"/>
<line x1="877.4" y1="324.9" x2="877.4" y2="345.4" stroke="#000" stroke-width="2.1" stroke-linecap="round"/>
<line x1="877.4" y1="345.4" x2="859.6" y2="355.6" stroke="#000" stroke-width="2.1" stroke-linecap="round"/>
<line x1="877.2" y1="350.4" x2="864.1" y2="358.0" stroke="#000" stroke-width="2.1"/>
<line x1="859.6" y1="355.6" x2="841.8" y2="345.4" stroke="#000" stroke-width="2.1" stroke-linecap="round"/>
<line x1="841.8" y1="345.4" x2="841.8" y2="324.9" stroke="#000" stroke-width="2.1" stroke-linecap="round"/>
<line x1="846.1" y1="342.7" x2="846.1" y2="327.5" stroke="#000" stroke-width="2.1"/>
<line x1="841.8" y1="324.9" x2="859.6" y2="314.6" stroke="#000" stroke-width="2.1" stroke-linecap="round"/>
<line x1="877.4" y1="345.4" x2="895.1" y2="355.6" stroke="#000" stroke-width="2.1" stroke-linecap="round"/>
<line x1="895.1" y1="355.6" x2="895.1" y2="376.1" stroke="#000" stroke-width="2.1" stroke-linecap="round"/>
<line x1="890.8" y1="358.3" x2="890.8" y2="373.4" stroke="#000" stroke-width="2.1"/>
<line x1="895.1" y1="376.1" x2="877.4" y2="386.4" stroke="#000" stroke-width="2.1" stroke-linecap="round"/>
<line x1="877.4" y1="386.4" x2="865.5" y2="379.5" stroke="#000" stroke-width="2.1" stroke-linecap="round"/>
<line x1="877.2" y1="381.3" x2="869.9" y2="377.1" stroke="#000" stroke-width="2.1"/>
<line x1="859.6" y1="369.3" x2="859.6" y2="355.6" stroke="#000" stroke-width="2.1" stroke-linecap="round"/>
<line x1="859.6" y1="314.6" x2="859.6" y2="300.9" stroke="#000" stroke-width="2.1" stroke-linecap="round"/>
<line x1="895.1" y1="355.6" x2="912.9" y2="345.4" stroke="#000" stroke-width="2.1" stroke-linecap="round"/>
<line x1="914.1" y1="347.2" x2="915.1" y2="345.5" stroke="#000" stroke-width="1.9"/>
<line x1="916.8" y1="349.5" x2="918.4" y2="346.6" stroke="#000" stroke-width="1.9"/>
<line x1="919.4" y1="351.8" x2="921.8" y2="347.8" stroke="#000" stroke-width="1.9"/>
<line x1="922.0" y1="354.1" x2="925.1" y2="348.9" stroke="#000" stroke-width="1.9"/>
<line x1="912.9" y1="345.4" x2="912.9" y2="324.9" stroke="#000" stroke-width="2.1" stroke-linecap="round"/>
<line x1="912.9" y1="324.9" x2="925.6" y2="322.4" stroke="#000" stroke-width="2.1" stroke-linecap="round"/>
<line x1="932.3" y1="298.6" x2="932.3" y2="314.3" stroke="#000" stroke-width="2.1" stroke-linecap="round"/>
<line x1="932.3" y1="298.6" x2="943.6" y2="282.4" stroke="#000" stroke-width="2.1" stroke-linecap="round"/>
<line x1="943.6" y1="282.4" x2="943.6" y2="302.4" stroke="#000" stroke-width="2.1" stroke-linecap="round"/>
<line x1="943.6" y1="302.4" x2="962.3" y2="307.4" stroke="#000" stroke-width="2.1" stroke-linecap="round"/>
<line x1="962.3" y1="307.4" x2="952.3" y2="324.9" stroke="#000" stroke-width="2.1" stroke-linecap="round"/>
<line x1="952.3" y1="324.9" x2="939.0" y2="322.4" stroke="#000" stroke-width="2.1" stroke-linecap="round"/>
<line x1="943.6" y1="282.4" x2="924.9" y2="270.0" stroke="#000" stroke-width="2.1" stroke-linecap="round"/>
<line x1="924.9" y1="270.0" x2="924.9" y2="250.0" stroke="#000" stroke-width="2.1" stroke-linecap="round"/>
<line x1="924.9" y1="250.0" x2="937.4" y2="244.1" stroke="#000" stroke-width="2.1" stroke-linecap="round"/>
<line x1="949.7" y1="244.3" x2="961.0" y2="250.0" stroke="#000" stroke-width="2.1" stroke-linecap="round"/>
<line x1="961.0" y1="250.0" x2="961.0" y2="271.2" stroke="#000" stroke-width="2.1" stroke-linecap="round"/>
<line x1="961.0" y1="271.2" x2="972.8" y2="278.7" stroke="#000" stroke-width="2.1" stroke-linecap="round"/>
<line x1="978.5" y1="289.2" x2="978.5" y2="304.0" stroke="#000" stroke-width="2.1" stroke-linecap="round"/>
<line x1="930.4" y1="362.4" x2="929.8" y2="377.0" stroke="#000" stroke-width="2.1" stroke-linecap="round"/>
<line x1="943.6" y1="396.0" x2="962.3" y2="402.2" stroke="#000" stroke-width="2.1" stroke-linecap="round"/>
<line x1="978.5" y1="349.3" x2="989.8" y2="367.3" stroke="#000" stroke-width="2.1" stroke-linecap="round"/>
<text x="854.7" y="381.0" font-family="Liberation Sans, sans-serif" font-size="13.7" fill="#000" transform="translate(0 381.0) scale(1 1.12) translate(0 -381.0)"><tspan dy="0.0">N</tspan></text>
<text x="854.3" y="299.0" font-family="Liberation Sans, sans-serif" font-size="13.7" fill="#000" transform="translate(0 299.0) scale(1 1.12) translate(0 -299.0)"><tspan dy="0.0">OMe</tspan></text>
<text x="925.3" y="360.5" font-family="Liberation Sans, sans-serif" font-size="13.7" fill="#000" transform="translate(0 360.5) scale(1 1.12) translate(0 -360.5)"><tspan dy="0.0">O</tspan></text>
<text x="927.4" y="326.0" font-family="Liberation Sans, sans-serif" font-size="13.7" fill="#000" transform="translate(0 326.0) scale(1 1.12) translate(0 -326.0)"><tspan dy="0.0">N</tspan></text>
<text x="939.0" y="246.1" font-family="Liberation Sans, sans-serif" font-size="13.7" fill="#000" transform="translate(0 246.1) scale(1 1.12) translate(0 -246.1)"><tspan dy="0.0">S</tspan></text>
<text x="973.2" y="287.3" font-family="Liberation Sans, sans-serif" font-size="13.7" fill="#000" transform="translate(0 287.3) scale(1 1.12) translate(0 -287.3)"><tspan dy="0.0">O</tspan></text>
<path d="M912.3,324.5 L923.6,307.4 L928.0,306.0" fill="none" stroke="#000" stroke-width="2.1" stroke-linejoin="round" stroke-linecap="round"/>
<circle cx="988.8" cy="499.1" r="14.9" fill="#0b7bc1"/>
<rect x="-22.0" y="-15.0" width="44" height="30" rx="15.0" fill="#e07f00" transform="translate(999.7,553.4) rotate(-45)"/>
<line x1="817.4" y1="482.0" x2="835.2" y2="492.2" stroke="#000" stroke-width="2.1" stroke-linecap="round"/>
<line x1="817.6" y1="487.1" x2="830.7" y2="494.6" stroke="#000" stroke-width="2.1"/>
<line x1="835.2" y1="492.2" x2="835.2" y2="512.8" stroke="#000" stroke-width="2.1" stroke-linecap="round"/>
<line x1="835.2" y1="512.8" x2="817.4" y2="523.0" stroke="#000" stroke-width="2.1" stroke-linecap="round"/>
<line x1="835.0" y1="517.8" x2="821.9" y2="525.4" stroke="#000" stroke-width="2.1"/>
<line x1="817.4" y1="523.0" x2="799.6" y2="512.8" stroke="#000" stroke-width="2.1" stroke-linecap="round"/>
<line x1="799.6" y1="512.8" x2="799.6" y2="492.2" stroke="#000" stroke-width="2.1" stroke-linecap="round"/>
<line x1="803.9" y1="510.1" x2="803.9" y2="494.9" stroke="#000" stroke-width="2.1"/>
<line x1="799.6" y1="492.2" x2="817.4" y2="482.0" stroke="#000" stroke-width="2.1" stroke-linecap="round"/>
<line x1="835.2" y1="512.8" x2="852.9" y2="523.0" stroke="#000" stroke-width="2.1" stroke-linecap="round"/>
<line x1="852.9" y1="523.0" x2="852.9" y2="543.5" stroke="#000" stroke-width="2.1" stroke-linecap="round"/>
<line x1="848.6" y1="525.7" x2="848.6" y2="540.8" stroke="#000" stroke-width="2.1"/>
<line x1="852.9" y1="543.5" x2="835.2" y2="553.8" stroke="#000" stroke-width="2.1" stroke-linecap="round"/>
<line x1="835.2" y1="553.8" x2="823.3" y2="546.9" stroke="#000" stroke-width="2.1" stroke-linecap="round"/>
<line x1="835.0" y1="548.7" x2="827.7" y2="544.5" stroke="#000" stroke-width="2.1"/>
<line x1="817.4" y1="536.7" x2="817.4" y2="523.0" stroke="#000" stroke-width="2.1" stroke-linecap="round"/>
<line x1="817.4" y1="482.0" x2="817.4" y2="468.3" stroke="#000" stroke-width="2.1" stroke-linecap="round"/>
<line x1="852.9" y1="523.0" x2="870.7" y2="512.8" stroke="#000" stroke-width="2.1" stroke-linecap="round"/>
<line x1="868.9" y1="512.8" x2="868.9" y2="499.1" stroke="#000" stroke-width="2.1"/>
<line x1="872.5" y1="512.8" x2="872.5" y2="499.1" stroke="#000" stroke-width="2.1"/>
<line x1="870.7" y1="512.8" x2="888.4" y2="523.0" stroke="#000" stroke-width="2.1" stroke-linecap="round"/>
<line x1="888.4" y1="523.0" x2="906.2" y2="512.8" stroke="#000" stroke-width="2.1" stroke-linecap="round"/>
<path d="M906.2,512.8 L922.7,525.2 L925.2,520.8Z" fill="#000"/>
<line x1="923.9" y1="523.0" x2="941.7" y2="512.8" stroke="#000" stroke-width="2.1" stroke-linecap="round"/>
<line x1="941.7" y1="512.8" x2="959.4" y2="523.0" stroke="#000" stroke-width="2.1" stroke-linecap="round"/>
<line x1="959.4" y1="523.0" x2="959.4" y2="536.7" stroke="#000" stroke-width="2.1" stroke-linecap="round"/>
<line x1="953.5" y1="546.9" x2="941.7" y2="553.8" stroke="#000" stroke-width="2.1" stroke-linecap="round"/>
<line x1="941.7" y1="553.8" x2="923.9" y2="543.5" stroke="#000" stroke-width="2.1" stroke-linecap="round"/>
<line x1="923.9" y1="543.5" x2="923.9" y2="523.0" stroke="#000" stroke-width="2.1" stroke-linecap="round"/>
<path d="M941.7,512.8 L944.2,492.2 L939.2,492.2Z" fill="#000"/>
<line x1="941.7" y1="492.2" x2="959.4" y2="482.5" stroke="#000" stroke-width="2.1" stroke-linecap="round"/>
<line x1="946.1" y1="494.8" x2="959.2" y2="487.5" stroke="#000" stroke-width="2.1"/>
<path d="M959.4,482.5 Q959.5,486.1 962.4,483.9 Q965.3,481.8 965.4,485.4 Q965.5,489.0 968.4,486.8 Q971.3,484.6 971.4,488.2 Q971.5,491.8 974.4,489.7 Q977.3,487.5 977.4,491.1" fill="none" stroke="#000" stroke-width="2.1"/>
<line x1="993.4" y1="511.7" x2="999.1" y2="536.8" stroke="#000" stroke-width="2.1" stroke-linecap="round"/>
<line x1="965.6" y1="546.4" x2="982.0" y2="554.0" stroke="#000" stroke-width="2.1" stroke-linecap="round"/>
<text x="812.5" y="548.4" font-family="Liberation Sans, sans-serif" font-size="13.7" fill="#000" transform="translate(0 548.4) scale(1 1.12) translate(0 -548.4)"><tspan dy="0.0">N</tspan></text>
<text x="812.1" y="466.4" font-family="Liberation Sans, sans-serif" font-size="13.7" fill="#000" transform="translate(0 466.4) scale(1 1.12) translate(0 -466.4)"><tspan dy="0.0">OMe</tspan></text>
<text x="865.3" y="497.2" font-family="Liberation Sans, sans-serif" font-size="13.7" fill="#000" transform="translate(0 497.2) scale(1 1.12) translate(0 -497.2)"><tspan dy="0.0">O</tspan></text>
<text x="954.5" y="548.4" font-family="Liberation Sans, sans-serif" font-size="13.7" fill="#000" transform="translate(0 548.4) scale(1 1.12) translate(0 -548.4)"><tspan dy="0.0">N</tspan></text>
<line x1="284.7" y1="583.4" x2="275.0" y2="591.9" stroke="#000" stroke-width="2.1" stroke-linecap="round"/>
<line x1="275.0" y1="591.9" x2="279.7" y2="611.4" stroke="#000" stroke-width="2.1" stroke-linecap="round"/>
<line x1="279.7" y1="611.4" x2="293.2" y2="608.2" stroke="#000" stroke-width="2.1" stroke-linecap="round"/>
<line x1="303.5" y1="612.4" x2="310.4" y2="623.2" stroke="#000" stroke-width="2.1" stroke-linecap="round"/>
<line x1="260.2" y1="606.7" x2="279.7" y2="611.4" stroke="#000" stroke-width="2.1" stroke-linecap="round"/>
<path d="M260.2,606.7 L268.7,624.6 L272.9,621.8Z" fill="#000"/>
<line x1="270.8" y1="623.2" x2="290.9" y2="619.1" stroke="#000" stroke-width="4.2" stroke-linecap="round"/>
<path d="M310.4,623.2 L291.4,616.7 L290.4,621.5Z" fill="#000"/>
<line x1="260.2" y1="606.7" x2="248.1" y2="609.9" stroke="#000" stroke-width="2.1" stroke-linecap="round"/>
<line x1="270.8" y1="623.2" x2="256.0" y2="624.7" stroke="#000" stroke-width="2.1" stroke-linecap="round"/>
<line x1="290.9" y1="619.1" x2="295.1" y2="632.1" stroke="#000" stroke-width="2.1" stroke-linecap="round"/>
<line x1="310.4" y1="623.2" x2="310.4" y2="637.6" stroke="#000" stroke-width="2.1" stroke-linecap="round"/>
<line x1="317.0" y1="642.8" x2="330.6" y2="639.5" stroke="#000" stroke-width="2.1" stroke-linecap="round"/>
<line x1="330.6" y1="639.5" x2="350.9" y2="643.6" stroke="#000" stroke-width="2.1" stroke-linecap="round"/>
<line x1="350.9" y1="643.6" x2="370.6" y2="639.5" stroke="#000" stroke-width="2.1" stroke-linecap="round"/>
<line x1="350.9" y1="643.6" x2="357.0" y2="633.6" stroke="#000" stroke-width="2.1" stroke-linecap="round"/>
<line x1="370.6" y1="639.5" x2="380.1" y2="657.0" stroke="#000" stroke-width="2.1" stroke-linecap="round"/>
<line x1="380.1" y1="657.0" x2="395.6" y2="649.7" stroke="#000" stroke-width="2.1" stroke-linecap="round"/>
<path d="M380.1,657.0 L363.1,649.5 L361.7,654.3Z" fill="#000"/>
<line x1="362.4" y1="651.9" x2="340.8" y2="656.3" stroke="#000" stroke-width="4.2" stroke-linecap="round"/>
<path d="M330.6,639.5 L338.7,657.6 L342.9,655.0Z" fill="#000"/>
<line x1="340.8" y1="656.3" x2="325.4" y2="657.6" stroke="#000" stroke-width="2.1" stroke-linecap="round"/>
<line x1="362.4" y1="651.9" x2="367.6" y2="664.3" stroke="#000" stroke-width="2.1" stroke-linecap="round"/>
<line x1="370.3" y1="677.4" x2="370.5" y2="692.0" stroke="#000" stroke-width="2.1" stroke-linecap="round"/>
<line x1="370.5" y1="692.0" x2="383.7" y2="695.4" stroke="#000" stroke-width="2.1" stroke-linecap="round"/>
<line x1="396.8" y1="695.1" x2="409.4" y2="691.2" stroke="#000" stroke-width="2.1" stroke-linecap="round"/>
<line x1="409.4" y1="691.2" x2="429.9" y2="697.1" stroke="#000" stroke-width="2.1" stroke-linecap="round"/>
<line x1="429.9" y1="697.1" x2="441.0" y2="694.0" stroke="#000" stroke-width="2.1" stroke-linecap="round"/>
<path d="M409.4,691.2 L397.6,707.6 L402.0,710.0Z" fill="#000"/>
<line x1="399.8" y1="708.8" x2="412.8" y2="707.4" stroke="#000" stroke-width="2.1" stroke-linecap="round"/>
<line x1="399.8" y1="708.8" x2="378.6" y2="703.7" stroke="#000" stroke-width="4.2" stroke-linecap="round"/>
<line x1="378.6" y1="703.7" x2="360.3" y2="708.8" stroke="#000" stroke-width="4.2" stroke-linecap="round"/>
<line x1="360.3" y1="708.8" x2="370.5" y2="692.0" stroke="#000" stroke-width="2.1" stroke-linecap="round"/>
<line x1="360.3" y1="708.8" x2="347.6" y2="706.6" stroke="#000" stroke-width="2.1" stroke-linecap="round"/>
<line x1="378.6" y1="703.7" x2="372.4" y2="715.9" stroke="#000" stroke-width="2.1" stroke-linecap="round"/>
<text x="284.9" y="583.8" font-family="Liberation Sans, sans-serif" font-size="13.7" fill="#000" transform="translate(0 583.8) scale(1 1.12) translate(0 -583.8)"><tspan dy="0.0">NH</tspan><tspan dy="3.8" font-size="10">2</tspan></text>
<text x="294.5" y="611.6" font-family="Liberation Sans, sans-serif" font-size="13.7" fill="#000" transform="translate(0 611.6) scale(1 1.12) translate(0 -611.6)"><tspan dy="0.0">O</tspan></text>
<text x="226.3" y="616.5" font-family="Liberation Sans, sans-serif" font-size="13.7" fill="#000" transform="translate(0 616.5) scale(1 1.12) translate(0 -616.5)"><tspan dy="0.0">HO</tspan></text>
<text x="234.0" y="630.3" font-family="Liberation Sans, sans-serif" font-size="13.7" fill="#000" transform="translate(0 630.3) scale(1 1.12) translate(0 -630.3)"><tspan dy="0.0">HO</tspan></text>
<text x="282.0" y="643.5" font-family="Liberation Sans, sans-serif" font-size="13.7" fill="#000" transform="translate(0 643.5) scale(1 1.12) translate(0 -643.5)"><tspan dy="0.0">HO</tspan></text>
<text x="305.1" y="649.3" font-family="Liberation Sans, sans-serif" font-size="13.7" fill="#000" transform="translate(0 649.3) scale(1 1.12) translate(0 -649.3)"><tspan dy="0.0">O</tspan></text>
<text x="355.6" y="632.7" font-family="Liberation Sans, sans-serif" font-size="13.7" fill="#000" transform="translate(0 632.7) scale(1 1.12) translate(0 -632.7)"><tspan dy="0.0">NH</tspan><tspan dy="3.8" font-size="10">2</tspan></text>
<text x="396.8" y="651.7" font-family="Liberation Sans, sans-serif" font-size="13.7" fill="#000" transform="translate(0 651.7) scale(1 1.12) translate(0 -651.7)"><tspan dy="0.0">NH</tspan></text>
<text x="303.4" y="663.1" font-family="Liberation Sans, sans-serif" font-size="13.7" fill="#000" transform="translate(0 663.1) scale(1 1.12) translate(0 -663.1)"><tspan dy="0.0">HO</tspan></text>
<text x="364.9" y="675.5" font-family="Liberation Sans, sans-serif" font-size="13.7" fill="#000" transform="translate(0 675.5) scale(1 1.12) translate(0 -675.5)"><tspan dy="0.0">O</tspan></text>
<text x="385.0" y="702.0" font-family="Liberation Sans, sans-serif" font-size="13.7" fill="#000" transform="translate(0 702.0) scale(1 1.12) translate(0 -702.0)"><tspan dy="0.0">O</tspan></text>
<text x="442.3" y="697.1" font-family="Liberation Sans, sans-serif" font-size="13.7" fill="#000" transform="translate(0 697.1) scale(1 1.12) translate(0 -697.1)"><tspan dy="0.0">OH</tspan></text>
<text x="414.3" y="711.5" font-family="Liberation Sans, sans-serif" font-size="13.7" fill="#000" transform="translate(0 711.5) scale(1 1.12) translate(0 -711.5)"><tspan dy="0.0">OH</tspan></text>
<text x="325.7" y="710.3" font-family="Liberation Sans, sans-serif" font-size="13.7" fill="#000" transform="translate(0 710.3) scale(1 1.12) translate(0 -710.3)"><tspan dy="0.0">HO</tspan></text>
<text x="348.9" y="726.9" font-family="Liberation Sans, sans-serif" font-size="13.7" fill="#000" transform="translate(0 726.9) scale(1 1.12) translate(0 -726.9)"><tspan dy="0.0">H</tspan><tspan dy="3.8" font-size="10">2</tspan><tspan dy="-3.8">N</tspan></text>
<rect x="426.6" y="623.2" width="82" height="18.3" rx="9.1" fill="#a9c5ed"/>
<rect x="543.8" y="624.4" width="81" height="17.3" rx="8.6" fill="#d9a1c5"/>
<rect x="420.5" y="613.4" width="80.6" height="18.3" rx="9.1" fill="#fff" stroke="#1515e0" stroke-width="2"/>
<rect x="536.5" y="613.4" width="81.8" height="20" rx="10" fill="#fff" stroke="#f21212" stroke-width="2"/>
<text x="426.6" y="629.3" font-family="Liberation Sans, sans-serif" font-size="14" fill="#1515e0" textLength="69.6" lengthAdjust="spacingAndGlyphs">SPACER 2</text>
<text x="542.6" y="629.8" font-family="Liberation Sans, sans-serif" font-size="14" fill="#f21212" textLength="70.8" lengthAdjust="spacingAndGlyphs">SPACER 1</text>
<path d="M617.0,634.2 L638.5,642.3" fill="none" stroke="#000" stroke-width="1.9" stroke-linejoin="round" stroke-linecap="round"/>
<line x1="416.9" y1="637.8" x2="425.4" y2="633.2" stroke="#000" stroke-width="2.1" stroke-linecap="round"/>
<line x1="498.6" y1="634.2" x2="509.6" y2="650.0" stroke="#1515e0" stroke-width="2.1" stroke-linecap="round"/>
<line x1="509.6" y1="650.0" x2="521.1" y2="650.8" stroke="#000" stroke-width="2.1" stroke-linecap="round"/>
<line x1="514.0" y1="678.9" x2="503.5" y2="670.8" stroke="#000" stroke-width="2.1" stroke-linecap="round"/>
<line x1="503.5" y1="670.8" x2="509.6" y2="650.0" stroke="#1515e0" stroke-width="2.1" stroke-linecap="round"/>
<line x1="508.4" y1="669.3" x2="512.9" y2="653.9" stroke="#1515e0" stroke-width="2.1"/>
<line x1="534.0" y1="645.2" x2="542.6" y2="634.2" stroke="#f21212" stroke-width="2.1" stroke-linecap="round"/>
<text x="523.0" y="656.2" font-family="Liberation Sans, sans-serif" font-size="13.7" fill="#f21212" transform="translate(0 656.2) scale(1 1.12) translate(0 -656.2)"><tspan dy="0.0">N</tspan></text>
<text x="530.4" y="675.7" font-family="Liberation Sans, sans-serif" font-size="13.7" fill="#f21212" transform="translate(0 675.7) scale(1 1.12) translate(0 -675.7)"><tspan dy="0.0">N</tspan></text>
<text x="514.5" y="687.9" font-family="Liberation Sans, sans-serif" font-size="13.7" fill="#f21212" transform="translate(0 687.9) scale(1 1.12) translate(0 -687.9)"><tspan dy="0.0">N</tspan></text>
<line x1="532.2" y1="659.3" x2="533.4" y2="662.6" stroke="#f21212" stroke-width="1.9"/>
<line x1="523.5" y1="673.2" x2="525.9" y2="671.6" stroke="#f21212" stroke-width="1.9"/>
<line x1="526.4" y1="677.6" x2="529.2" y2="675.8" stroke="#f21212" stroke-width="1.9"/>
<line x1="647.8" y1="638.2" x2="654.6" y2="626.4" stroke="#f21212" stroke-width="2.1" stroke-linecap="round"/>
<line x1="654.6" y1="626.4" x2="675.1" y2="626.4" stroke="#f21212" stroke-width="2.1" stroke-linecap="round"/>
<line x1="675.1" y1="626.4" x2="682.0" y2="638.2" stroke="#f21212" stroke-width="2.1" stroke-linecap="round"/>
<line x1="682.0" y1="650.0" x2="675.1" y2="661.9" stroke="#f21212" stroke-width="2.1" stroke-linecap="round"/>
<line x1="675.1" y1="661.9" x2="654.6" y2="661.9" stroke="#f21212" stroke-width="2.1" stroke-linecap="round"/>
<line x1="654.6" y1="661.9" x2="647.8" y2="650.0" stroke="#f21212" stroke-width="2.1" stroke-linecap="round"/>
<line x1="692.2" y1="644.1" x2="706.4" y2="644.1" stroke="#f21212" stroke-width="2.1" stroke-linecap="round"/>
<line x1="706.4" y1="644.1" x2="716.6" y2="626.4" stroke="#f21212" stroke-width="2.1" stroke-linecap="round"/>
<line x1="716.6" y1="626.4" x2="737.1" y2="626.4" stroke="#f21212" stroke-width="2.1" stroke-linecap="round"/>
<line x1="719.3" y1="630.6" x2="734.5" y2="630.6" stroke="#f21212" stroke-width="2.1"/>
<line x1="737.1" y1="626.4" x2="747.4" y2="644.1" stroke="#f21212" stroke-width="2.1" stroke-linecap="round"/>
<line x1="747.4" y1="644.1" x2="737.1" y2="661.9" stroke="#f21212" stroke-width="2.1" stroke-linecap="round"/>
<line x1="742.3" y1="644.3" x2="734.8" y2="657.4" stroke="#f21212" stroke-width="2.1"/>
<line x1="737.1" y1="661.9" x2="716.6" y2="661.9" stroke="#f21212" stroke-width="2.1" stroke-linecap="round"/>
<line x1="716.6" y1="661.9" x2="706.4" y2="644.1" stroke="#f21212" stroke-width="2.1" stroke-linecap="round"/>
<line x1="719.0" y1="657.4" x2="711.5" y2="644.3" stroke="#f21212" stroke-width="2.1"/>
<line x1="716.6" y1="626.4" x2="709.8" y2="614.5" stroke="#f21212" stroke-width="2.1" stroke-linecap="round"/>
<line x1="747.4" y1="644.1" x2="767.9" y2="644.1" stroke="#f21212" stroke-width="2.1" stroke-linecap="round"/>
<line x1="767.9" y1="644.1" x2="778.1" y2="661.9" stroke="#f21212" stroke-width="2.1" stroke-linecap="round"/>
<line x1="778.1" y1="661.9" x2="767.9" y2="679.6" stroke="#f21212" stroke-width="2.1" stroke-linecap="round"/>
<line x1="773.1" y1="662.0" x2="765.5" y2="675.1" stroke="#f21212" stroke-width="2.1"/>
<line x1="767.9" y1="679.6" x2="754.2" y2="679.6" stroke="#f21212" stroke-width="2.1" stroke-linecap="round"/>
<line x1="744.0" y1="673.7" x2="737.1" y2="661.9" stroke="#f21212" stroke-width="2.1" stroke-linecap="round"/>
<line x1="766.3" y1="643.2" x2="773.2" y2="631.3" stroke="#f21212" stroke-width="2.1"/>
<line x1="769.5" y1="645.0" x2="776.3" y2="633.1" stroke="#f21212" stroke-width="2.1"/>
<line x1="778.1" y1="661.9" x2="791.9" y2="661.9" stroke="#f21212" stroke-width="2.1" stroke-linecap="round"/>
<line x1="744.0" y1="685.5" x2="736.6" y2="698.4" stroke="#f21212" stroke-width="2.1" stroke-linecap="round"/>
<line x1="736.6" y1="698.4" x2="736.6" y2="717.9" stroke="#f21212" stroke-width="2.1" stroke-linecap="round"/>
<line x1="736.6" y1="717.9" x2="719.2" y2="706.6" stroke="#f21212" stroke-width="2.1" stroke-linecap="round"/>
<line x1="719.2" y1="706.6" x2="736.6" y2="698.4" stroke="#f21212" stroke-width="2.1" stroke-linecap="round"/>
<text x="639.5" y="649.0" font-family="Liberation Sans, sans-serif" font-size="13.7" fill="#f21212" transform="translate(0 649.0) scale(1 1.12) translate(0 -649.0)"><tspan dy="0.0">N</tspan></text>
<text x="680.5" y="649.0" font-family="Liberation Sans, sans-serif" font-size="13.7" fill="#f21212" transform="translate(0 649.0) scale(1 1.12) translate(0 -649.0)"><tspan dy="0.0">N</tspan></text>
<text x="702.2" y="613.5" font-family="Liberation Sans, sans-serif" font-size="13.7" fill="#f21212" transform="translate(0 613.5) scale(1 1.12) translate(0 -613.5)"><tspan dy="0.0">F</tspan></text>
<text x="742.5" y="684.5" font-family="Liberation Sans, sans-serif" font-size="13.7" fill="#f21212" transform="translate(0 684.5) scale(1 1.12) translate(0 -684.5)"><tspan dy="0.0">N</tspan></text>
<text x="772.8" y="631.3" font-family="Liberation Sans, sans-serif" font-size="13.7" fill="#f21212" transform="translate(0 631.3) scale(1 1.12) translate(0 -631.3)"><tspan dy="0.0">O</tspan></text>
<text x="793.7" y="666.8" font-family="Liberation Sans, sans-serif" font-size="13.7" fill="#f21212" transform="translate(0 666.8) scale(1 1.12) translate(0 -666.8)"><tspan dy="0.0">CO</tspan><tspan dy="3.8" font-size="10">2</tspan><tspan dy="-3.8">H</tspan></text>
<text x="38.5" y="82.5" font-family="Liberation Sans, sans-serif" font-weight="bold" font-size="17">Anti-virus agents</text>
<text x="359.5" y="33" font-family="Liberation Sans, sans-serif" font-weight="bold" font-size="17">Dual Inhibitors</text>
<text x="733.7" y="48.5" font-family="Liberation Sans, sans-serif" font-weight="bold" font-size="17">Diversity-oriented Synthesis</text>
<text x="406.2" y="299.5" font-family="Liberation Sans, sans-serif" font-weight="bold" font-size="17">Proteasome</text>
<text x="515.3" y="301.3" font-family="Liberation Sans, sans-serif" font-weight="bold" font-size="17">FAS-TE</text>
<text x="283.8" y="363" font-family="Liberation Sans, sans-serif" font-weight="bold" font-size="17" font-style="italic">Hepatitis C</text>
<text x="307.5" y="382.2" font-family="Liberation Sans, sans-serif" font-weight="bold" font-size="17" font-style="italic">Virus</text>
<text x="437.2" y="585.2" font-family="Liberation Sans, sans-serif" font-weight="bold" font-size="17">KanA-Cipro hybrids</text>
<text x="186.7" y="707.3" font-family="Liberation Sans, sans-serif" font-weight="bold" font-size="17">Kanamycin A</text>
<text x="22.2" y="576.7" font-family="Liberation Sans, sans-serif" font-weight="bold" font-size="17">epigallocatechin-3-gallate</text>
<text x="60.8" y="378.5" font-family="Liberation Sans, sans-serif" font-weight="bold" font-size="17" font-style="italic">Salmonella</text>
<text x="691.9" y="752.3" font-family="Liberation Sans, sans-serif" font-weight="bold" font-size="17">Ciprofloxacin</text>
</svg></body></html>
